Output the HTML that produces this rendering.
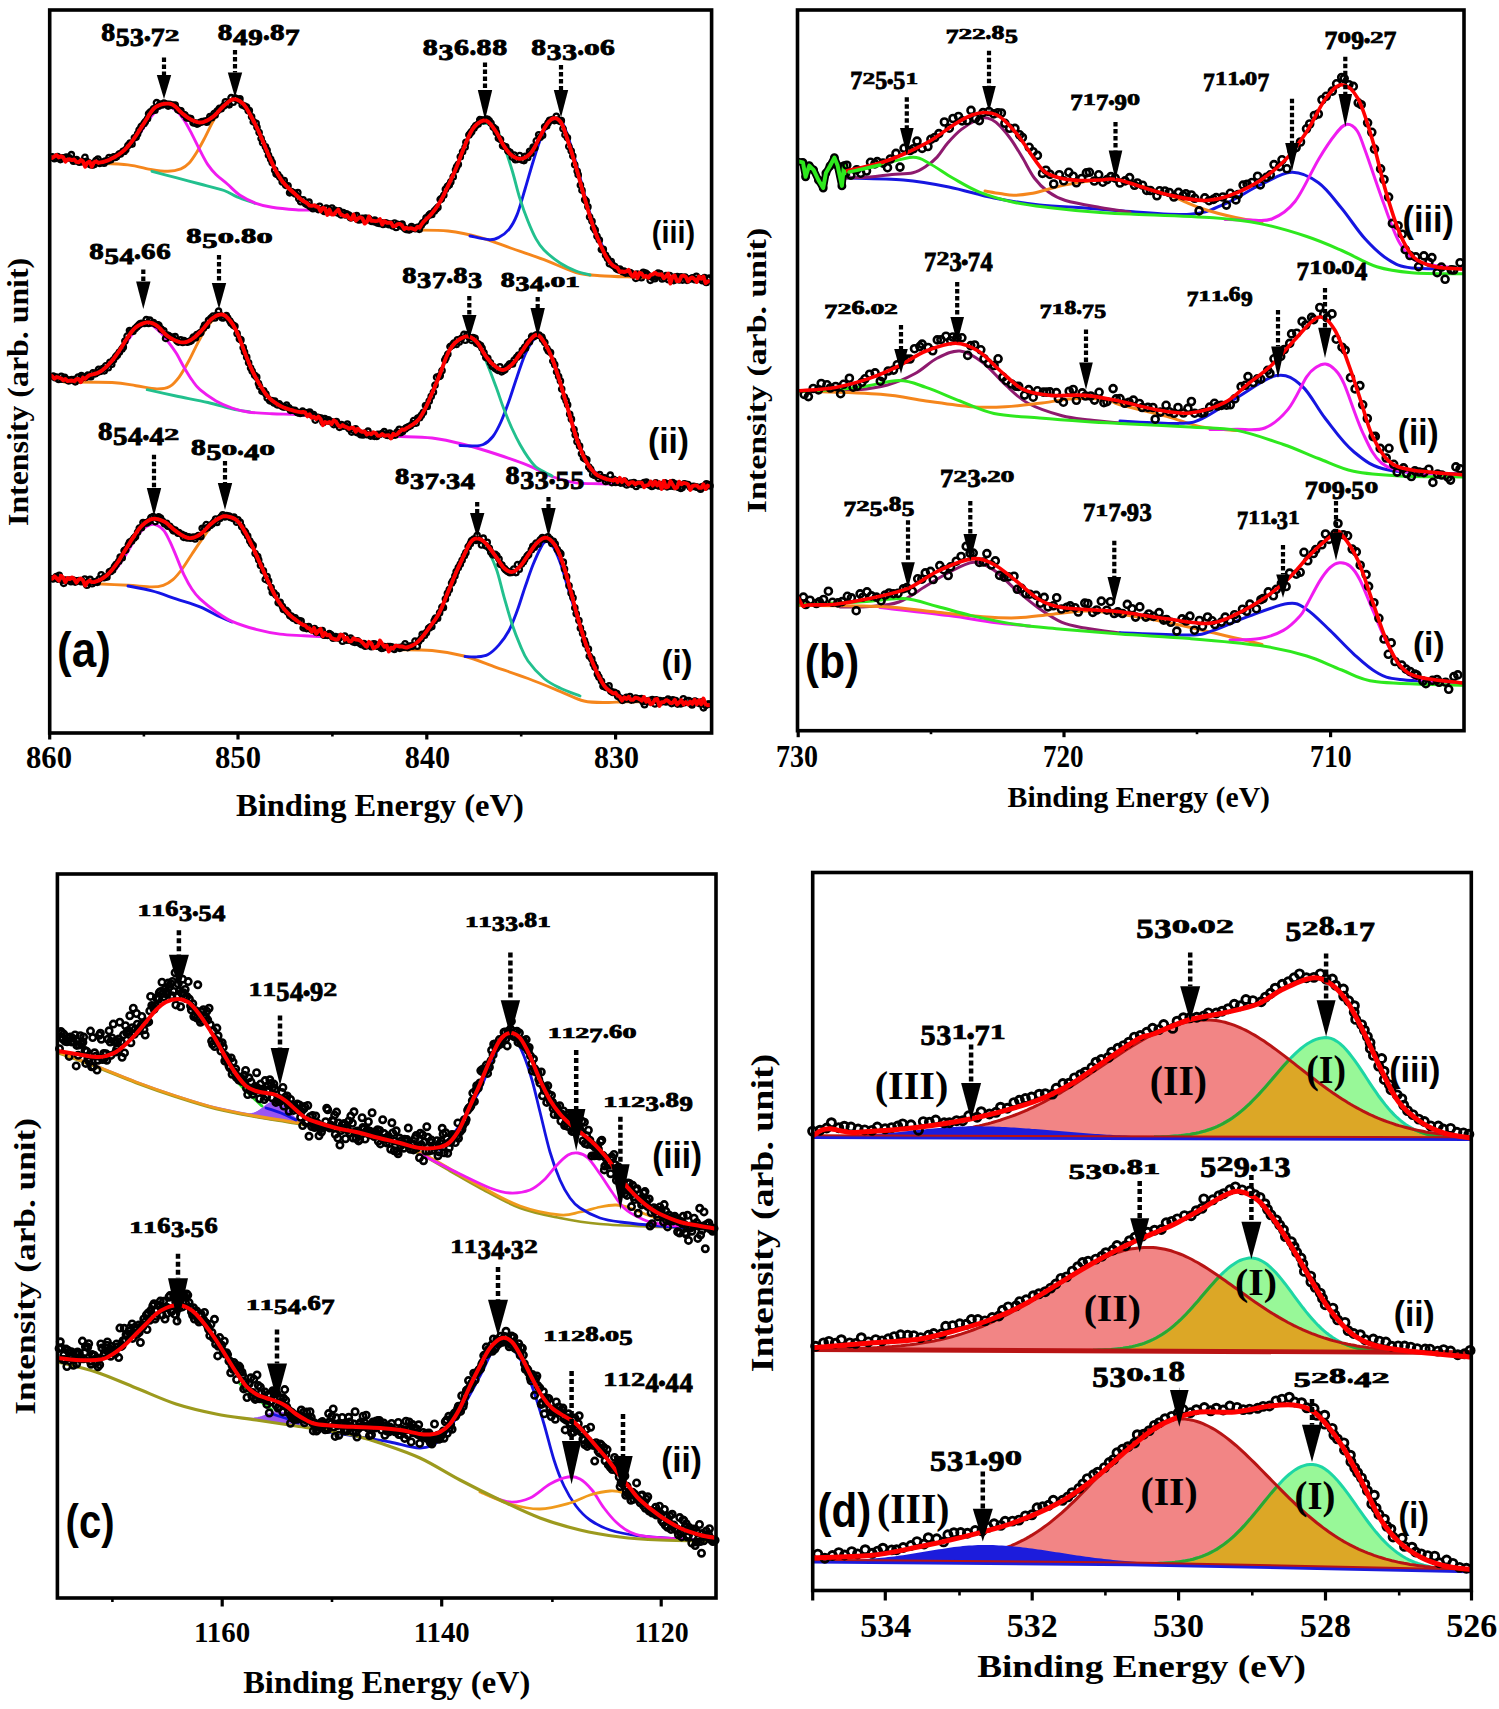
<!DOCTYPE html>
<html><head><meta charset="utf-8"><title>XPS spectra</title>
<style>html,body{margin:0;padding:0;background:#fff;overflow:hidden;}svg{display:block;}</style></head>
<body><svg width="1499" height="1709" viewBox="0 0 1499 1709">
<defs><marker id="m0" markerWidth="10" markerHeight="10" refX="5" refY="5" markerUnits="userSpaceOnUse" overflow="visible"><circle cx="5" cy="5" r="2.7" fill="none" stroke="#000" stroke-width="2.3"/></marker><marker id="m1" markerWidth="11.2" markerHeight="11.2" refX="5.6" refY="5.6" markerUnits="userSpaceOnUse" overflow="visible"><circle cx="5.6" cy="5.6" r="3.3" fill="none" stroke="#000" stroke-width="2.3"/></marker><marker id="m2" markerWidth="12.2" markerHeight="12.2" refX="6.1" refY="6.1" markerUnits="userSpaceOnUse" overflow="visible"><circle cx="6.1" cy="6.1" r="3.5" fill="none" stroke="#000" stroke-width="2.6"/></marker><marker id="m3" markerWidth="11.6" markerHeight="11.6" refX="5.8" refY="5.8" markerUnits="userSpaceOnUse" overflow="visible"><circle cx="5.8" cy="5.8" r="3.2" fill="none" stroke="#000" stroke-width="2.6"/></marker><marker id="m4" markerWidth="13.8" markerHeight="13.8" refX="6.9" refY="6.9" markerUnits="userSpaceOnUse" overflow="visible"><circle cx="6.9" cy="6.9" r="4" fill="none" stroke="#000" stroke-width="2.9"/></marker></defs>
<rect width="1499" height="1709" fill="#fff"/>
<g id="pa">
<path d="M96 163.3C101.3 163.6 118.7 163.8 128 164.9C137.3 166 145.3 168.6 152 169.7C158.7 170.8 163.2 171.4 168 171.3C172.8 171.2 177.4 170.2 180.9 168.9C184.4 167.6 186.2 166.1 188.9 163.3C191.6 160.5 194.2 156.3 196.9 152C199.6 147.7 202.2 142.7 204.9 137.6C207.6 132.5 210.2 126.4 212.9 121.6C215.6 116.8 218 112.3 220.9 108.8C223.8 105.3 228 102.3 230.5 100.8C233 99.3 233.6 99.1 236 100C238.4 100.9 242.2 102.7 245 106C247.8 109.3 250.2 114.3 253 120C255.8 125.7 258.8 132.8 262 140C265.2 147.2 268.5 156 272 163C275.5 170 279.2 176.8 283 182C286.8 187.2 291.3 190.7 295 194C298.7 197.3 303.3 200.7 305 202" fill="none" stroke="#f5861c" stroke-width="2.9" stroke-linejoin="round" stroke-linecap="round"/>
<path d="M152 171.3C156 172.4 168 175.6 176 177.7C184 179.8 192 181.9 200 184C208 186.1 217.8 188.3 224 190.5C230.2 192.7 231.8 194.8 237 196.9C242.2 199 252 202.2 255 203.3" fill="none" stroke="#22c08e" stroke-width="2.9" stroke-linejoin="round" stroke-linecap="round"/>
<path d="M96 163C99.2 162.2 108.5 161.8 115 158C121.5 154.2 129.2 146.7 135 140C140.8 133.3 145.8 123.4 150 118C154.2 112.6 157.2 109.6 160 107.5C162.8 105.4 163.8 105.1 166.5 105.6C169.2 106.1 173.1 108 176 110.4C178.9 112.8 181.3 116 184 120C186.7 124 189.3 129.3 192 134.4C194.7 139.5 197.3 145.3 200 150.4C202.7 155.5 205.3 160.9 208 164.9C210.7 168.9 212.8 171.3 216 174.5C219.2 177.7 223.3 180.5 227.3 184C231.3 187.5 235.2 192.1 240 195.3C244.8 198.5 250.7 201.3 256 203.3C261.3 205.3 265.3 206.2 272 207.3C278.7 208.4 288 209.2 296 209.7C304 210.2 312.7 210.1 320 210.5C327.3 210.9 336.7 211.8 340 212" fill="none" stroke="#f01cf0" stroke-width="2.9" stroke-linejoin="round" stroke-linecap="round"/>
<path d="M416 230C421.3 230.2 437.3 229.8 448 231C458.7 232.2 469.3 234.4 480 237.3C490.7 240.2 501.3 244.8 512 248.5C522.7 252.2 533.3 255.7 544 259.7C554.7 263.7 566.7 269.8 576 272.5C585.3 275.2 589.3 274.9 600 275.7C610.7 276.5 626.7 276.8 640 277.3C653.3 277.9 673.3 278.7 680 279" fill="none" stroke="#f5861c" stroke-width="2.9" stroke-linejoin="round" stroke-linecap="round"/>
<path d="M470 236C473.3 236.6 484.9 239.5 489.7 239.7C494.5 239.9 495.8 239 499 237.3C502.2 235.6 506 233 509 229.3C512 225.6 514.3 221.6 517 214.9C519.7 208.2 522.3 198.1 525 189.3C527.7 180.5 530.3 170.6 533 162C535.7 153.4 538.3 144.4 541 138C543.7 131.6 546.5 126.7 549 123.6C551.5 120.5 553.7 119.5 556 119.6C558.3 119.7 560.7 120.1 563 124C565.3 127.9 567.5 135.3 570 143C572.5 150.7 575.3 160.5 578 170C580.7 179.5 583.3 190.7 586 200C588.7 209.3 591.3 218.5 594 226C596.7 233.5 599.3 239.3 602 245C604.7 250.7 607 256 610 260C613 264 615.8 266.5 620 269C624.2 271.5 632.5 274 635 275" fill="none" stroke="#1414e6" stroke-width="2.9" stroke-linejoin="round" stroke-linecap="round"/>
<path d="M420 229.5C422 226.9 428.7 218.4 432 214C435.3 209.6 437.3 207.5 440 203C442.7 198.5 445.3 192.7 448 187C450.7 181.3 453.3 175.3 456 169C458.7 162.7 461.3 155.2 464 149C466.7 142.8 469.3 135.7 472 131.5C474.7 127.3 477.5 125.3 480 124C482.5 122.7 484.3 122.8 487 123.5C489.7 124.2 493.2 124.7 496 128.4C498.8 132.2 501.3 139.1 504 146C506.7 152.9 509.3 161.2 512 170C514.7 178.8 517.3 190.3 520 198.9C522.7 207.5 525.3 214.6 528 221.3C530.7 228 533.3 234.1 536 238.9C538.7 243.7 540 246 544 250C548 254 554.7 259.5 560 263C565.3 266.5 571 269 576 271C581 273 587.7 274.3 590 275" fill="none" stroke="#22c08e" stroke-width="2.9" stroke-linejoin="round" stroke-linecap="round"/>
<path d="M64 382C72 382.1 100 381.9 112 382.5C124 383.1 128.5 384.6 136 385.7C143.5 386.8 151.2 388.8 156.8 388.9C162.4 389 165.9 388.5 169.7 386.5C173.4 384.5 176.1 381.1 179.3 376.8C182.5 372.5 185.7 366.7 188.9 360.8C192.1 354.9 195.3 347.5 198.5 341.6C201.7 335.7 204.5 329.9 208 325.6C211.5 321.3 216 317.3 219.3 316C222.6 314.7 225.1 315.3 228 318C230.9 320.7 234.2 326.3 237 332C239.8 337.7 242.3 345.3 245 352C247.7 358.7 250.2 366 253 372C255.8 378 258.8 383.3 262 388C265.2 392.7 270.3 398 272 400" fill="none" stroke="#f5861c" stroke-width="2.9" stroke-linejoin="round" stroke-linecap="round"/>
<path d="M147.2 389.7C152 390.8 165.9 393.9 176 396C186.1 398.1 198.7 400.4 208 402.5C217.3 404.6 225 407.3 232 408.9C239 410.5 247 411.5 250 412" fill="none" stroke="#22c08e" stroke-width="2.9" stroke-linejoin="round" stroke-linecap="round"/>
<path d="M90 377C92.5 375.8 100 374.2 105 370C110 365.8 115 358.5 120 352C125 345.5 130.2 335.7 135 331C139.8 326.3 144.6 323.8 148.8 324C153 324.2 156.8 329.1 160 332C163.2 334.9 165.3 338.1 168 341.6C170.7 345.1 173.3 348.5 176 352.8C178.7 357.1 181.3 362.7 184 367.2C186.7 371.7 189.3 376.2 192 380C194.7 383.8 196 386.2 200 389.7C204 393.2 210.7 397.8 216 400.9C221.3 403.9 226.7 406.1 232 408C237.3 409.9 241.3 411.1 248 412C254.7 412.9 264 413.3 272 413.7C280 414.1 288.8 414.1 296 414.5C303.2 414.9 311.8 415.8 315 416" fill="none" stroke="#f01cf0" stroke-width="2.9" stroke-linejoin="round" stroke-linecap="round"/>
<path d="M390 436C391.7 436.1 393 436.2 400 436.5C407 436.8 421.3 436.7 432 438C442.7 439.3 453.3 441.8 464 444.5C474.7 447.2 485.3 450.5 496 454C506.7 457.5 518.7 461.6 528 465.3C537.3 469.1 544 473.6 552 476.5C560 479.4 568 481.7 576 482.9C584 484.1 587.7 483.3 600 483.7C612.3 484.1 641.7 484.8 650 485" fill="none" stroke="#f01cf0" stroke-width="2.9" stroke-linejoin="round" stroke-linecap="round"/>
<path d="M460 445.5C462 445.6 468.1 446.2 472 446C475.9 445.8 479.8 446.1 483.3 444.5C486.8 442.9 490 440.2 492.9 436.5C495.8 432.8 498.2 427.9 500.9 422C503.6 416.1 506.2 408.8 508.9 401.3C511.6 393.8 514.2 384.9 516.9 377.2C519.6 369.4 522.2 360.9 524.9 354.8C527.6 348.7 530.8 343.3 532.9 340.4C535 337.5 535.7 336.8 537.7 337.2C539.7 337.6 542.5 339.2 545 343C547.5 346.8 550.3 353 553 360C555.7 367 558.3 376.3 561 385C563.7 393.7 566.3 403.2 569 412C571.7 420.8 574.3 430.3 577 438C579.7 445.7 582 452.3 585 458C588 463.7 590.8 468.3 595 472C599.2 475.7 607.5 478.7 610 480" fill="none" stroke="#1414e6" stroke-width="2.9" stroke-linejoin="round" stroke-linecap="round"/>
<path d="M405 428C406.8 427 412.8 424.8 416 422C419.2 419.2 421.3 415.8 424 411C426.7 406.2 429.3 399.6 432 393.5C434.7 387.4 437.3 381.1 440 374.5C442.7 367.9 445.3 359.2 448 354C450.7 348.8 452.8 345.7 456 343C459.2 340.3 463 337.1 467 338C471 338.9 476.5 343.7 480 348.4C483.5 353.1 485.3 359.6 488 366C490.7 372.4 493.3 379.6 496 386.8C498.7 394 501.3 402.4 504 409.3C506.7 416.2 509.3 422.6 512 428.5C514.7 434.4 517.3 439.7 520 444.5C522.7 449.3 525.3 453.6 528 457.3C530.7 461.1 533.3 464.6 536 467C538.7 469.4 541.3 470.2 544 471.7C546.7 473.2 550.7 475.3 552 476" fill="none" stroke="#22c08e" stroke-width="2.9" stroke-linejoin="round" stroke-linecap="round"/>
<path d="M96 583.7C101.3 584 118.7 584.8 128 585.3C137.3 585.8 146.1 586.9 152 586.9C157.9 586.9 159.8 586.5 163.3 585.3C166.8 584.1 169.7 582.5 172.9 579.7C176.1 576.9 179.3 572.8 182.5 568.5C185.7 564.2 188.8 558.8 192 554C195.2 549.2 198.5 544.1 201.7 539.6C204.9 535.1 208.1 530.3 211.3 526.8C214.5 523.3 218.1 520.3 220.9 518.8C223.7 517.2 225.3 517.1 228 517.5C230.7 517.9 234.2 518.6 237 521C239.8 523.4 242.3 527.5 245 532C247.7 536.5 250.3 542.4 253 548C255.7 553.6 258.3 559.7 261 565.5C263.7 571.3 266.3 577.4 269 583C271.7 588.6 275.7 596.3 277 599" fill="none" stroke="#f5861c" stroke-width="2.9" stroke-linejoin="round" stroke-linecap="round"/>
<path d="M128 586C132 586.8 144 588.8 152 590.9C160 593 168 596.2 176 598.9C184 601.6 192.8 604 200 606.9C207.2 609.8 214 614 219.3 616.5C224.6 619 229.9 621.1 232 622" fill="none" stroke="#1414e6" stroke-width="2.9" stroke-linejoin="round" stroke-linecap="round"/>
<path d="M100 581C102.5 579.2 110.8 574.2 115 570C119.2 565.8 121.5 561.3 125 556C128.5 550.7 132.8 542.6 136 538C139.2 533.4 141.1 530.7 144 528.4C146.9 526.1 150.4 524.1 153.6 524.4C156.8 524.7 160.6 527.2 163.3 530C166 532.8 167.6 536.9 169.7 541.2C171.8 545.5 173.6 550 176 555.6C178.4 561.2 181.3 569.3 184 574.9C186.7 580.5 189.3 585.3 192 589.3C194.7 593.3 196 595.2 200 598.9C204 602.6 210.7 608 216 611.7C221.3 615.4 225.3 618.4 232 621.3C238.7 624.2 248 627.2 256 629.3C264 631.4 272 633 280 634.1C288 635.2 295.7 635.2 304 635.7C312.3 636.2 325.7 636.8 330 637" fill="none" stroke="#f01cf0" stroke-width="2.9" stroke-linejoin="round" stroke-linecap="round"/>
<path d="M400 649.7C405.3 649.8 421.3 649.5 432 650.5C442.7 651.5 453.3 653.2 464 656C474.7 658.8 485.3 663.5 496 667.3C506.7 671 517.3 674.5 528 678.5C538.7 682.5 550.7 687.5 560 691.3C569.3 695 576 699.1 584 701C592 702.9 601.3 702.4 608 702.5C614.7 702.6 617 701.8 624 701.7C631 701.6 645.7 702 650 702" fill="none" stroke="#f5861c" stroke-width="2.9" stroke-linejoin="round" stroke-linecap="round"/>
<path d="M465 656.5C467 656.6 473 657.2 476.8 656.9C480.6 656.6 484.3 656.5 488 654.5C491.7 652.5 495.5 648.9 499 644.9C502.5 640.9 506 636.1 509 630.5C512 624.9 514.3 618.5 517 611.3C519.7 604.1 522.3 595 525 587.2C527.7 579.5 530.3 571.5 533 564.8C535.7 558.1 538.9 551.1 541 547.2C543.1 543.3 543.9 542 545.7 541.6C547.5 541.2 549.6 541.6 552 545C554.4 548.4 557.3 554.8 560 562C562.7 569.2 565.3 579.3 568 588C570.7 596.7 573.3 605.3 576 614C578.7 622.7 581.3 632 584 640C586.7 648 589.3 655.5 592 662C594.7 668.5 596.7 674 600 679C603.3 684 607 688.7 612 692C617 695.3 627 697.8 630 699" fill="none" stroke="#1414e6" stroke-width="2.9" stroke-linejoin="round" stroke-linecap="round"/>
<path d="M410 645C411.7 644.2 416.3 643.3 420 640C423.7 636.7 428.7 629.7 432 625C435.3 620.3 437.3 617.3 440 612C442.7 606.7 445.3 599.3 448 593C450.7 586.7 453.3 580 456 574C458.7 568 461.6 561.8 464 557C466.4 552.2 468.2 547.7 470.4 545C472.6 542.3 474.6 540.8 477 541C479.4 541.2 481.8 541.5 485 546C488.2 550.5 492.8 559.5 496 568C499.2 576.5 501.3 587.5 504 596.8C506.7 606.1 509.3 616 512 624C514.7 632 517.3 638.7 520 644.9C522.7 651.1 524 655.4 528 661C532 666.6 538.7 674 544 678.5C549.3 683 554 685.1 560 688C566 690.9 576.7 694.7 580 696" fill="none" stroke="#22c08e" stroke-width="2.9" stroke-linejoin="round" stroke-linecap="round"/>
<path d="M52.2 156.9 54.3 158.7 55.5 157.7 57.5 156.6 60.3 159.6 61.3 158 63.2 157.9 66.1 157.1 67.6 157.7 69.2 157.9 71.3 154.7 73.3 161.2 74.8 160.7 76.5 159.7 79.2 162.2 80.9 161.5 82.7 161.7 84.9 157.4 86.5 161.3 88.9 162.8 89.9 164.6 92.2 165.1 94 164.6 95.8 160.6 97.9 159 99.4 163.4 102 162.2 104 163.2 105 161.2 107.3 160.9 109 157.5 110.7 159.8 113.5 156.9 114.9 157.4 116.4 156.7 118.9 154.1 120.3 153.9 123 151.3 124.1 151.5 125.8 149.5 127.9 145.5 130 143 132 144.1 134.4 137.8 136.1 137.1 137.6 133.8 139.1 129.9 141.2 126.4 144 123.4 145.3 121.6 147.5 118.6 148.6 113.7 150.5 111.8 153.3 108.9 154.9 110.2 156.5 102.7 158.4 106.2 160.1 104 162.1 105 163.8 103.1 166.6 104.1 168.1 106.1 169.6 104.3 172.2 105.2 173.5 105.7 175.2 105.2 177.8 109.8 180 110.9 180.9 110.9 183.7 114.5 184.9 115.1 186.7 118 188.5 118 190.7 118.5 193.1 122.8 194.7 122.8 197 124.1 198.2 123.3 200.2 122.3 202.1 121.7 204.8 121.1 206.6 122.2 207.9 120.3 209.9 116.5 211.6 117.7 214 113.6 215.1 115.1 217.1 111 219.3 108.4 221.1 108.8 223.6 105.9 225.4 101.8 227.1 104.2 229.1 104.8 231.1 97.7 233.1 102.2 235.1 98.1 236.1 98.6 238.6 100.1 239.9 98.9 242.2 105 244.5 106.1 246.5 107 248.2 110.7 249.3 110.7 251.6 116.8 253.3 121.9 256.1 123.3 257 127.3 259.1 132.5 261.1 138.6 262.6 142.8 265.5 146.9 267.1 150.3 268.5 155.4 270.7 159.4 272.2 162.7 274.7 170.2 276.1 174 277.8 174.7 279.8 177.3 282.2 182 284.2 180.6 285.7 185.3 288 185.8 289.6 192.8 291.2 191.6 293.3 192.6 295.3 194 297.8 192.6 298.8 198.7 300.7 201.7 303.1 199.8 305.5 203.7 307.3 204.9 309 202.2 310.2 206.8 312.9 208.7 314.7 207.6 315.9 207.6 318.2 209.6 319.6 206.3 322.4 209.5 324.2 211.5 326.2 208.2 328 212.1 329.4 210.1 331.9 208 333.2 211.4 334.9 210.3 337.1 212.9 339.1 210.9 340.8 214.9 343.1 212.6 345 214.9 346.4 213.9 348.8 215 350.4 217.9 352.7 217.1 354.1 216.5 356.6 215.7 358 219.9 360.1 219.7 362.1 218.4 363.9 219.7 365.5 218 368.2 218.5 369.1 219 371.2 221.3 373.4 221.6 374.7 220.2 376.8 222.9 379.4 223.5 381.3 222.8 383 224.5 385.2 222.8 386.9 223.4 388.3 224.6 390.6 224.2 392.2 225.8 394.5 223 396 227.5 397.6 224.3 400.4 225.8 402.1 224.2 404 227.9 405.7 229.4 407.9 229.7 409.4 229.8 411.4 226.5 412.7 228.1 415.2 228.7 417.4 227.3 419.2 229.3 421.2 225.3 422.7 222.8 425.1 221 426.1 217.8 428.9 215.2 430.2 213.9 431.8 214.4 434.3 211 436 209.1 437.9 207.2 440.2 199.4 441.3 198.7 443.8 195.1 445.4 189.2 447.5 186.3 449.3 184.8 450.8 181.8 453.2 176.7 455.5 169.8 456.6 166.7 458.3 164.3 460.3 156.7 462.6 151.6 465.1 147.1 465.9 142.3 468.9 135 470.3 133.1 471.7 131.4 474 128 475.6 125.6 478.1 124.1 479.8 119.6 481.4 119.9 483.3 120.8 485.9 119.1 487.6 119.3 489.2 120.8 491 123.3 493.3 127.4 495.5 129.2 496.4 132.5 498.4 138.3 500.5 139.5 502.6 145.7 504 146.4 505.8 146.9 507.9 151.1 510 152.3 512.3 157.1 514.1 155.1 515.3 159.7 517.2 159.3 519.6 155.6 522 160 523.9 160.6 525.2 156.3 527.7 157.5 529.6 151.3 530.9 153.2 533.2 147 534.7 147.8 536.3 140.9 538.7 134.8 540.1 137.2 542.6 135.3 544.7 126.8 546.7 125.7 548.1 122.8 549.6 120.3 552.4 119.5 554.3 120.6 556.3 116.3 557.8 120 559.7 121.4 561.3 120.7 563 128.8 565 134.9 567.4 137.8 568.8 146.5 571.2 151.1 572.8 156.1 574.7 164.8 577.2 171.3 578.2 174.9 580.4 185.2 582 190.4 584.7 199.7 586.1 201 587.9 206.8 589.6 217 592 221.3 593.6 227.9 595.2 230.2 597 236.3 599.3 240.1 601.4 249.6 603.3 249.3 605.6 255.4 607.5 258.6 609.4 263.7 611.2 261.7 612.7 265.4 614.7 266.5 616.4 268.8 618.3 269.9 619.8 269.2 622.6 271.7 623.9 271.2 625.5 273.1 627.9 272.9 630.1 272.6 631.7 273.9 633.5 274.8 635.7 278.3 637.1 274 638.8 275.6 641.3 277.7 643.2 272.3 645.5 273.1 646.8 274.1 649.2 276.1 650.2 280.3 652.1 277.2 654.7 278.7 656.1 276.5 657.9 273.1 659.8 273.5 662 279 663.9 277.8 666 275.6 668.3 279.7 669.6 275.5 671.3 279.9 673.6 280.6 674.9 277.1 677.2 276.7 679 279.9 681 276.9 682.5 280.1 685 277 687 280.3 689 279.2 691.2 278.5 692.4 277.8 694.6 279.7 696.3 276.3 697.9 279 700.6 278.9 702.3 280.7 704.4 277.7 706.2 282.5 708.2 279.3 709.2 278.1" fill="none" stroke="none" marker-start="url(#m0)" marker-mid="url(#m0)" marker-end="url(#m0)"/>
<path d="M50 156.6L52.2 158 54.4 156.4 56.6 155 58.8 157.4 61 156.1 63.2 157.3 65.4 161.7 67.6 159.5 69.8 159.3 72 160.1 74.2 159.5 76.4 161.9 78.6 162.3 80.8 160 83 161.4 85.2 166.8 87.4 162.7 89.6 161.6 91.8 166.7 94 162.4 96.2 161.4 98.4 162.8 100.6 162.4 102.8 162 105 161.4 107.2 160.6 109.4 159.7 111.6 158.6 113.8 157.5 116 156.2 118.2 154.8 120.4 153.3 122.6 151.6 124.8 149.7 127 147.4 129.2 144.9 131.4 142.1 133.6 139.1 135.8 135.9 138 132.5 140.2 129.1 142.4 125.6 144.6 122.3 146.8 118.7 149 115.1 151.2 111.7 153.4 109 155.6 107.1 157.8 105.8 160 104.9 162.2 104.2 164.4 103.8 166.6 103.6 168.8 103.6 171 104 173.2 105 175.4 106.6 177.6 108.7 179.8 111.1 182 113.2 184.2 114.9 186.4 116.6 188.6 118.1 190.8 119.4 193 120.5 195.2 121.4 197.4 122.1 199.6 122.5 201.8 122.4 204 121.8 206.2 120.9 208.4 119.8 210.6 118.4 212.8 116.9 215 115 217.2 112.8 219.4 110.4 221.6 108 223.8 105.9 226 103.9 228.2 102 230.4 100.4 232.6 99.4 234.8 99.2 237 99.7 239.2 100.7 241.4 102.3 243.6 104.3 245.8 107.1 248 110.8 250.2 114.8 252.4 118.8 254.6 123 256.8 127.5 259 132.1 261.2 137.2 263.4 142.5 265.6 148 267.8 153.2 270 158.3 272.2 163.3 274.4 167.9 276.6 172.1 278.8 176 281 179.4 283.2 182.4 285.4 184.9 287.6 187.2 289.8 189.2 292 191.2 294.2 193.2 296.4 195.3 298.6 197.3 300.8 199.2 303 200.9 305.2 202 307.4 203.3 309.6 205.6 311.8 205.8 314 205.3 316.2 206.5 318.4 207.1 320.6 211.5 322.8 207.9 325 208.7 327.2 214.9 329.4 209.6 331.6 214.5 333.8 214.6 336 211.8 338.2 209.5 340.4 214.1 342.6 215.2 344.8 216.4 347 215.1 349.2 218.3 351.4 219.4 353.6 214.6 355.8 220.7 358 218.4 360.2 217.3 362.4 218.3 364.6 223.6 366.8 222 369 216.4 371.2 220.9 373.4 220.8 375.6 221.2 377.8 220.8 380 219.1 382.2 224.6 384.4 221.1 386.6 222.7 388.8 222.6 391 222.7 393.2 226.4 395.4 226 397.6 224.1 399.8 223.9 402 225.4 404.2 229.1 406.4 227.8 408.6 228.7 410.8 228.1 413 228.8 415.2 229.8 417.4 226.9 419.6 227.8 421.8 224.1 424 221.3 426.2 219.2 428.4 217.1 430.6 214.9 432.8 212.3 435 209.5 437.2 206.4 439.4 203 441.6 199.1 443.8 194.8 446 190.2 448.2 185.6 450.4 180.9 452.6 176.2 454.8 171.2 457 165.9 459.2 160.2 461.4 154.2 463.6 148.6 465.8 143.2 468 138 470.2 133.3 472.4 129.4 474.6 126.5 476.8 124.3 479 122.6 481.2 121.3 483.4 120.5 485.6 120.5 487.8 121.5 490 123.6 492.2 126.2 494.4 129.3 496.6 132.5 498.8 136.4 501 140.7 503.2 144.7 505.4 148.1 507.6 151.1 509.8 153.7 512 155.6 514.2 157 516.4 158.1 518.6 158.7 520.8 158.9 523 158.5 525.2 157.5 527.4 156.1 529.6 154.2 531.8 151.8 534 148.3 536.2 144.1 538.4 139.7 540.6 135.6 542.8 131.3 545 127.2 547.2 123.7 549.4 121.1 551.6 119.1 553.8 118.1 556 118.2 558.2 119.4 560.4 121.6 562.6 125.4 564.8 131.2 567 138.1 569.2 144.9 571.4 151.7 573.6 158.8 575.8 166.1 578 173.8 580.2 181.9 582.4 190 584.6 197.8 586.8 205.6 589 213.2 591.2 220.4 593.4 227 595.6 233 597.8 238.5 600 243.7 602.2 248.7 604.4 253.3 606.6 257.4 608.8 260.9 611 263.8 613.2 265.8 615.4 267 617.6 268.1 619.8 272.1 622 271.5 624.2 272 626.4 271.4 628.6 269.8 630.8 274.2 633 276.8 635.2 272.6 637.4 277.9 639.6 272.7 641.8 273.8 644 276.8 646.2 275.9 648.4 277.7 650.6 274.8 652.8 274.3 655 272.7 657.2 274.3 659.4 274.8 661.6 274.2 663.8 278.2 666 276.2 668.2 273.5 670.4 283.5 672.6 276.3 674.8 275.6 677 281.2 679.2 281.1 681.4 276.2 683.6 275.6 685.8 276.7 688 281.5 690.2 278.4 692.4 277.4 694.6 279.2 696.8 282 699 276.4 701.2 278.7 703.4 276.6 705.6 283.2 707.8 281.7 710 280.3" fill="none" stroke="#ff0000" stroke-width="3.9" stroke-linejoin="round"/>
<path d="M53.2 376.2 55 377.7 56.4 377.2 58.5 379.5 61.1 376.4 62 379.2 64.6 377.4 66.2 379.4 68.3 380.9 70 380 71.6 379.7 74 379.6 75.2 381.8 78.1 377 79.9 379.8 81.3 375.7 83.4 376.9 85.3 377.4 87.7 375.1 88.6 376.5 90.8 376.7 92.8 372.9 95.1 373.8 96.9 372.6 98.5 369.4 99.9 371.4 102.6 368.7 104.2 370.8 105.7 365.9 108.2 367.7 109.9 362.3 111.7 364.3 113.5 359.8 115.7 356.6 117.3 354.9 119.4 352 121.9 348.9 123.3 347.1 124.9 341 127.1 336.1 129.5 330.5 131.3 331.5 133 331.3 135.1 328.5 136.9 326.8 138.7 324.9 140.3 323.5 141.9 323.4 144.4 323.5 146.2 319.7 148.5 323.5 149.7 320.2 152.2 322.9 153.4 322.6 156.1 324.6 158 324.9 158.9 325.5 161.1 329.2 163.8 330.8 165.6 338.4 167.2 335 168.5 335.6 170.2 336.9 172.4 337.4 175.1 336.5 176.8 340.7 178.3 342.1 180.6 339.8 182.6 342.5 183.9 340.5 186.4 341.9 187.6 342.1 189.6 341.4 191.2 340.4 193.2 337.2 195.5 337.8 196.8 334.5 199.3 333.4 200.8 332.4 203.4 328 204.6 325 206.5 325.5 208.5 320.3 210.8 318.2 212.9 316.1 214.8 318 216.7 315.3 218.5 311.2 220.2 315.6 221.9 317.8 223.6 317.8 226.3 315.7 227.7 318 229.9 321.1 231.1 323.3 233.3 325.3 234.9 326.3 237.1 333.7 239.4 339.1 240.9 339.9 243.2 347.7 244.5 352.1 246.7 357.2 248.6 362.8 250.6 368.1 252.2 371.3 254.6 375.3 256.7 377.2 258.5 383.6 259.5 386.5 262 391.4 263.7 390.9 265.9 394.1 267.2 398.1 269.8 400.9 271.4 400.5 273.9 403 274.7 401.2 277.1 404.9 279.1 403.8 281.4 406.1 283.2 407 284.4 406.9 286.5 405.1 288.9 407.9 290.4 410.3 292.1 410.1 294.8 410.3 296.6 412.1 297.9 412.8 300 413.4 302.4 411.2 303.5 412.8 306.1 412.8 308 412.5 309.7 412.1 311.6 415 313.5 414.6 315.2 420.1 317.2 417.3 318.6 417.6 321 418.2 323 422.5 324.7 418.5 326.8 420.4 328.4 419.9 330.7 421.7 332.5 422.4 333.7 424.6 336.4 421.5 337.7 424.1 339.4 427.3 341.4 424.7 343.5 426.1 345.6 426 347.3 424 349 428.9 351.6 432.1 353 430.1 355.5 428.8 356.7 432.6 359.1 432.9 360.6 434.7 363.1 435 364.7 433.3 366.7 434.6 367.9 431.2 370.6 436.1 372 434.7 374.4 436.3 376.4 436.4 377.5 434.3 379.2 434.6 382 433.5 384.1 431.7 385.9 434.8 387.3 435.3 389.7 433.2 390.6 436.1 392.6 435 395.1 435.1 396.9 432.2 399.2 429.3 400.4 432.7 402.5 431.4 405 428.9 406.2 427.8 408.2 426.8 410.3 425.8 412.6 423.7 413.6 420.6 416.1 423.1 417.7 418 419.6 417.7 421.3 415.2 423.4 412.3 425.5 405.5 427.2 406.4 429.2 400.9 431.2 396.3 433.4 392.1 435 385.1 436.6 377.2 439.2 376.5 440.2 375.5 442 370.6 444.8 359.9 446 357.6 447.8 354.1 450 346.6 451.8 345.6 453.7 343.2 456.2 344.4 457.4 339.8 459.2 342.1 461.2 338.4 463.9 334.4 465.2 340.2 467 334.8 469.4 337.7 471.5 340.4 472.9 337.7 475.1 338.4 476.4 343.3 478.4 344.1 480.6 345.5 482.1 348.4 484 352.9 485.8 357.6 487.8 358.3 490.4 362.9 492.2 366.4 493.3 366.8 495.5 368.9 497.8 370.3 499.9 366.8 501.5 371.8 503.5 370.4 504.9 369.4 507.4 366.5 509.3 364.2 510.8 363.8 512.5 363.9 514.1 360.2 516.7 357.3 518.6 355 519.8 355.3 522.3 350.3 524.7 347.1 525.5 348.1 527.6 342.6 529.4 341.7 531.7 336.4 533.6 336.8 536 335 537 335.1 539 335 541.8 337.1 542.6 339.5 544.8 342.5 546.9 348.5 548.3 351.1 550.5 352.6 552.8 361.1 554.7 364.7 556.6 371.9 558.6 376.6 560.4 381 561.7 389.1 564.3 397.1 566.1 400.7 567.6 404.8 569.7 414.3 571.4 419.2 574 429.6 575.2 435.1 577 441.8 579.6 446.2 581.5 453.8 583.5 458.1 585.2 459 586.8 459.9 588.8 467.1 590.7 469.4 592.7 474.6 595 475.6 596.1 475.5 598.6 478.5 599.6 474.6 601.7 477.6 604.5 477.9 605.6 481.5 607.8 480.3 610.2 475.2 611.8 482.6 613.5 479.4 615.6 482.5 617.8 480.9 619.7 482.3 620.7 483.1 622.6 482.6 624.6 481 626.4 484.9 629 483.6 631 483.1 632.1 484.3 633.9 482.5 636.1 486.5 638.4 484 640.4 484.3 641.9 484.4 644 482.5 646.3 482.2 648.1 484.5 649.1 484.8 651.7 486.5 653.7 485.2 655.7 482.8 657.1 485.4 658.7 486 661 486.4 662.7 485.4 664.7 482.9 667 486.8 668.8 483.9 670.7 486.1 672.6 482.7 673.9 486.5 675.7 484.1 678 487.2 680.4 488.4 682.1 487.5 684.1 483.9 685.8 484.3 687.9 484.5 690 487.1 691.6 486.6 693.7 486.4 695.7 486.8 697.4 487.3 699.3 487.5 700.4 489.2 702.3 486.5 705.2 487 706.3 483.8 708.3 484.7 710 485.8" fill="none" stroke="none" marker-start="url(#m0)" marker-mid="url(#m0)" marker-end="url(#m0)"/>
<path d="M50 374.8L52.2 376.4 54.4 378.8 56.6 377 58.8 377.7 61 378.3 63.2 380.2 65.4 378.9 67.6 381.1 69.8 380.7 72 380.5 74.2 381.2 76.4 379.2 78.6 379 80.8 382.1 83 377.6 85.2 378.9 87.4 376.7 89.6 375.1 91.8 374.7 94 374 96.2 373.5 98.4 372.6 100.6 371.3 102.8 369.8 105 368 107.2 366 109.4 363.7 111.6 361.3 113.8 358.5 116 355.5 118.2 352.3 120.4 349 122.6 345.4 124.8 341.8 127 338.3 129.2 335.1 131.4 332 133.6 329.4 135.8 327.4 138 325.8 140.2 324.6 142.4 323.6 144.6 322.9 146.8 322.4 149 322.4 151.2 322.8 153.4 323.6 155.6 324.8 157.8 326.4 160 328.4 162.2 330.9 164.4 333.3 166.6 335.3 168.8 336.9 171 338.3 173.2 339.5 175.4 340.5 177.6 341.4 179.8 342.1 182 342.4 184.2 342.4 186.4 342 188.6 341.1 190.8 340 193 338.5 195.2 336.7 197.4 334.7 199.6 332.5 201.8 330.3 204 327.8 206.2 324.9 208.4 322.2 210.6 319.8 212.8 318 215 316.5 217.2 315.3 219.4 314.6 221.6 314.4 223.8 315 226 316.4 228.2 318.5 230.4 321 232.6 324.1 234.8 327.9 237 332.2 239.2 337.4 241.4 343.4 243.6 349.4 245.8 355.1 248 360.6 250.2 365.9 252.4 370.9 254.6 375.4 256.8 379.6 259 383.4 261.2 387 263.4 390.5 265.6 393.8 267.8 396.5 270 398.7 272.2 400.6 274.4 402.2 276.6 403.7 278.8 405 281 406.2 283.2 407.2 285.4 408.1 287.6 408.9 289.8 409.6 292 410.2 294.2 410.9 296.4 411.4 298.6 411.8 300.8 412.2 303 412 305.2 412.5 307.4 416.4 309.6 414.2 311.8 417.8 314 416.8 316.2 419 318.4 416.6 320.6 419 322.8 425.2 325 421.9 327.2 423 329.4 422 331.6 424.1 333.8 420.3 336 421.7 338.2 425.3 340.4 426.9 342.6 425.1 344.8 426.6 347 427.3 349.2 428.8 351.4 427.6 353.6 427.9 355.8 431.7 358 428.7 360.2 430.9 362.4 431.9 364.6 431.4 366.8 434.5 369 433.2 371.2 434.2 373.4 432.3 375.6 433 377.8 435.9 380 435.7 382.2 433.9 384.4 435.8 386.6 435.4 388.8 435.3 391 438.4 393.2 433.8 395.4 435.1 397.6 433.9 399.8 431.4 402 429.5 404.2 429.8 406.4 428.3 408.6 427.1 410.8 425.7 413 424.3 415.2 422.7 417.4 420.7 419.6 418.2 421.8 414.8 424 410.9 426.2 406.6 428.4 401.7 430.6 396.6 432.8 391.4 435 386.3 437.2 380.9 439.4 375.5 441.6 369.8 443.8 363.7 446 357.8 448.2 352.8 450.4 348.8 452.6 345.6 454.8 343.1 457 341.2 459.2 339.5 461.4 338.2 463.6 337.2 465.8 336.5 468 336.4 470.2 337 472.4 338.2 474.6 339.9 476.8 342 479 344.9 481.2 348.6 483.4 352.5 485.6 355.8 487.8 358.8 490 361.5 492.2 363.8 494.4 365.7 496.6 367.4 498.8 368.9 501 369.8 503.2 370 505.4 369.3 507.6 368.1 509.8 366.4 512 364.4 514.2 362 516.4 359.1 518.6 356 520.8 352.8 523 349.8 525.2 346.5 527.4 343.3 529.6 340.5 531.8 338 534 335.9 536.2 334.8 538.4 335.3 540.6 337.3 542.8 340.2 545 343.6 547.2 347.5 549.4 352 551.6 357 553.8 362.8 556 369.3 558.2 376.2 560.4 383.3 562.6 390.6 564.8 398.2 567 405.9 569.2 413.4 571.4 421.2 573.6 428.8 575.8 435.9 578 442.3 580.2 448.3 582.4 453.8 584.6 458.5 586.8 462.6 589 466 591.2 469 593.4 471.6 595.6 473.8 597.8 475.4 600 476.5 602.2 477.5 604.4 478.3 606.6 479.1 608.8 479.7 611 480.2 613.2 480.7 615.4 479.1 617.6 482.1 619.8 477.9 622 482.1 624.2 479.1 626.4 481.8 628.6 484.4 630.8 482.4 633 482.1 635.2 484.4 637.4 482.8 639.6 482.7 641.8 482.8 644 487.2 646.2 485.4 648.4 485.1 650.6 481.5 652.8 485.6 655 481.5 657.2 485.5 659.4 482.1 661.6 488.9 663.8 481 666 487.5 668.2 486.6 670.4 481.1 672.6 484.5 674.8 488.3 677 487.7 679.2 481.7 681.4 484.3 683.6 482.9 685.8 483.4 688 484.3 690.2 489.9 692.4 486.2 694.6 485.5 696.8 485.4 699 487.7 701.2 487.9 703.4 484.4 705.6 489 707.8 485.6 710 486.8" fill="none" stroke="#ff0000" stroke-width="3.9" stroke-linejoin="round"/>
<path d="M52.6 578.9 53.5 578.5 56.3 576.5 57.6 579.1 59.2 575.3 62.1 580.2 63.6 583.3 65.2 580.1 67.6 580.5 69.4 580.1 70.9 581.7 73.2 580 75.1 582.1 76.4 580.8 78.9 580.7 81 581.7 82.7 581.6 84.7 579 86.8 585.2 88.5 582.2 90 579.3 92 583.7 94.1 581.8 95.9 581.8 97.2 582.3 99 579.1 101.2 574.8 103.7 577.7 104.9 577.3 106.9 576.9 109.4 571.8 110.5 571.4 112.6 570 114.5 566.4 116.1 564.3 118.8 561.3 120.2 557 122.2 557.8 124.1 550.7 125.7 549.7 128.4 544.6 129.5 542.2 131.6 540.9 134 538 135.5 536.5 137.6 532.1 139.3 528.1 141.4 527.7 143 522.5 145.1 523.1 146.5 522.9 148.4 521.7 150.9 517.7 153.1 516.6 155.2 521.6 156.9 518.4 158.5 516.9 160.5 518.2 162.4 521 164.4 523.8 166.6 523.3 167.8 526.2 169.8 526.4 172.1 528.9 173.3 530.8 175.1 530 177.9 533.2 178.8 532.7 181.7 534.3 183.6 537.4 184.7 535.5 187.2 538 188.6 536.9 190.5 538.2 193.2 537 195 539 196.7 536.6 198.3 535.7 200.8 536.6 202.2 528.3 204.6 528.9 206.2 524.6 207.3 527.7 210.1 525.5 212 524.1 214 522 215.6 519 216.8 522.4 219.7 518.4 221.1 516.8 222.7 514.8 224.6 516.9 226.5 515.5 229.1 516.1 230.2 517.5 233 518.5 233.9 517.2 236.6 522.2 237.9 519.8 240.2 522.3 241.7 526.8 244.4 531 245.5 532.7 247.7 536.2 249.8 541.1 251.5 543.8 253.1 545.5 255.1 553.5 257.7 556.6 258.7 560 260.5 565.5 263.4 570.9 265.3 579.4 267 576.5 268.6 581.1 271.1 587.7 272.3 592.5 273.8 592.9 276.2 595.4 278.2 602.8 280.1 602.3 282.4 606.6 283.4 609.5 286.1 610.3 287.7 612.2 289.8 615.8 291.3 616 293.1 618.3 295.1 617.8 296.9 620.5 299 620.5 301.1 621.2 303.2 627.9 304.4 626.5 306.6 628.6 308.6 626.7 310.8 629.4 312.6 630 314.4 628.7 316.3 632.4 318 630.8 320.3 632.3 322.2 630.7 323.8 635.2 325.2 635.2 327.5 635.3 329.2 633.7 331 634.8 333 638.2 335.5 636.5 336.9 637.7 338.9 638 340.7 636.5 342.4 641.2 344.7 636.1 346.5 640.1 348.9 640.2 350.5 638.1 352.8 641.7 354.6 642.4 356 641.9 357.4 640.8 359.5 643.2 361.3 644.6 363.9 643.6 365.1 646.2 367.6 645.3 369.1 645.4 371.2 646.7 373.4 643.8 374.8 644.2 376.6 646.1 378.6 646.4 381.3 648.4 382.7 648.1 384.3 646.7 386 647.1 387.9 646.6 390.1 646.7 392.3 647 394 649.4 396.3 647.5 398.4 647.6 399.8 648.3 401.5 647 403.9 647.2 405 643.9 407.6 647.6 409.7 646 411.5 646.2 412.6 646 415 641.1 417.2 646.2 418.6 641.3 421 638.8 422.2 634.3 424.5 635.3 426.4 632.4 428.6 628.3 430 627.2 431.8 626.5 434.2 620.7 435.4 618.1 437.6 618.2 439.6 612.7 441.9 607.2 443.4 607.6 445.4 598.9 447.4 593.3 449.3 589.4 451.6 582.9 452.9 580.7 454.9 575.8 456.2 571.5 458.3 567.4 460.3 564 462.1 560.1 464.4 555.6 465.9 552.5 468.2 546.7 470.4 543.4 471.5 540.7 473.6 539.1 475.7 540.4 477.1 535.4 479.1 539.5 481.5 545 483.2 538.2 485.7 545.8 487.2 542.3 489.3 548.4 490.8 552.3 492.7 554.8 495.1 554.3 496.8 555.9 499 559 500.2 564.3 501.9 565 504.4 568.5 505.7 570 507.6 571.6 509.8 572.7 512.1 572.3 513.6 569.1 515.9 572.6 517.5 564.6 519.2 569.3 521.4 563.9 523.4 561.8 524.7 559.3 527.1 555.9 528.6 554.4 531.4 549.7 532.8 546.3 534.3 547.3 536 543.1 538.1 544.1 540.1 539.9 542.3 537.5 544.3 538.5 546.3 539.2 547.9 536.8 550 539.1 551.8 543.5 553.4 541.4 555.2 544.2 557.3 549.6 559.6 552.6 560.8 553.9 563.3 562.2 564.5 569.1 566.6 576.7 569 585.8 571.1 593.2 573 597.8 574.8 607.9 576.2 613.8 578.9 620.5 580.4 628.2 582.6 633.6 584.5 640.5 585.6 644.2 588.4 649.1 589.3 656.3 591.8 659.2 593.3 664 595 667.4 597.4 674.3 598.9 677.2 601.5 681.3 603 686.2 604.7 686.9 606.3 687.6 609 685.9 610.8 691.3 612.9 692.5 614.3 692.4 616.8 693.6 617.7 696.3 620.6 698.3 622.3 700.3 623.5 699.4 626.4 697.3 627.3 699 629.9 696.7 631.3 700.1 633.7 699.6 635.7 698.1 636.8 699 638.9 698.9 641.5 698.5 642.9 701.7 644.4 704.7 646.3 701.1 648.2 701.6 650.1 700.3 652.3 699.6 654.7 703.9 656.2 699.9 657.7 701.2 659.9 700.5 661.9 701.8 663.8 700.9 665.9 702 667.9 699.2 669.8 701.2 671.5 703.6 672.8 699.9 675.6 700.7 677.5 704.1 679.3 702.7 680.9 703.8 683.3 698.8 684.3 702.7 686.9 700.6 688.7 700.6 690.7 703.6 691.9 705 694.8 701 695.6 701.7 697.7 702.7 700 703.7 701.9 701.9 703.4 707.8 705.4 705.4 708 704.1 709.2 704" fill="none" stroke="none" marker-start="url(#m0)" marker-mid="url(#m0)" marker-end="url(#m0)"/>
<path d="M50 577L52.2 578.8 54.4 576.2 56.6 578.2 58.8 580.7 61 575.7 63.2 577.5 65.4 582.2 67.6 578.1 69.8 579.1 72 577.4 74.2 579.1 76.4 582.6 78.6 579.5 80.8 578.5 83 580.2 85.2 585.6 87.4 582.2 89.6 580.6 91.8 582.1 94 582.1 96.2 581.3 98.4 580.6 100.6 579.6 102.8 578.3 105 576.7 107.2 574.9 109.4 572.8 111.6 570.4 113.8 567.6 116 564.7 118.2 561.6 120.4 558.1 122.6 554.4 124.8 550.8 127 547.2 129.2 543.7 131.4 540.1 133.6 536.8 135.8 533.5 138 530.3 140.2 527.5 142.4 525.2 144.6 523.2 146.8 521.6 149 520.3 151.2 519.2 153.4 518.8 155.6 518.8 157.8 519.2 160 519.8 162.2 520.7 164.4 521.7 166.6 523.1 168.8 525 171 527 173.2 529 175.4 530.7 177.6 532.3 179.8 533.9 182 535.3 184.2 536.5 186.4 537.4 188.6 538 190.8 538.1 193 537.8 195.2 537 197.4 536 199.6 534.7 201.8 533.1 204 531.2 206.2 528.8 208.4 526.4 210.6 524.2 212.8 522.4 215 520.7 217.2 519.3 219.4 518 221.6 516.9 223.8 516.2 226 516.2 228.2 516.6 230.4 517.1 232.6 517.9 234.8 518.9 237 520.5 239.2 522.8 241.4 525.9 243.6 529.4 245.8 533.2 248 537.4 250.2 541.9 252.4 546.5 254.6 551.2 256.8 556.1 259 561 261.2 565.9 263.4 570.8 265.6 575.7 267.8 580.6 270 585.2 272.2 589.9 274.4 594.4 276.6 598.4 278.8 601.9 281 605 283.2 607.9 285.4 610.5 287.6 612.8 289.8 615 292 616.9 294.2 618.7 296.4 620.3 298.6 622 300.8 623.5 303 624.9 305.2 625.5 307.4 627.9 309.6 628.5 311.8 631.8 314 627.9 316.2 633.8 318.4 631 320.6 628.9 322.8 636.3 325 632.8 327.2 635.4 329.4 634.8 331.6 638.2 333.8 638.9 336 639.5 338.2 639.2 340.4 634.6 342.6 635.1 344.8 639.8 347 637.8 349.2 641.4 351.4 641.2 353.6 638.2 355.8 639.5 358 639.7 360.2 640.6 362.4 642.5 364.6 644.9 366.8 646.7 369 641.9 371.2 643.2 373.4 648.3 375.6 647.1 377.8 646 380 640.6 382.2 643.9 384.4 646.8 386.6 645.5 388.8 651.5 391 647.7 393.2 648.5 395.4 645.7 397.6 645.9 399.8 646.5 402 646.4 404.2 647.1 406.4 647.6 408.6 646.8 410.8 646.1 413 645.1 415.2 643.9 417.4 642.1 419.6 640 421.8 637.5 424 634.8 426.2 631.9 428.4 628.9 430.6 625.9 432.8 622.9 435 619.9 437.2 616.5 439.4 612.5 441.6 607.9 443.8 602.6 446 597 448.2 591.5 450.4 586.2 452.6 580.8 454.8 575.6 457 570.5 459.2 565.6 461.4 560.8 463.6 556 465.8 551.3 468 546.5 470.2 542.7 472.4 540.2 474.6 538.8 476.8 538.4 479 538.7 481.2 539.6 483.4 541.1 485.6 543.1 487.8 545.7 490 548.5 492.2 551.5 494.4 554.6 496.6 557.6 498.8 560.9 501 564.3 503.2 567.2 505.4 569.2 507.6 570.8 509.8 571.8 512 572 514.2 571.3 516.4 569.8 518.6 567.8 520.8 565.5 523 562.6 525.2 559.3 527.4 556.1 529.6 552.8 531.8 549.4 534 546.3 536.2 543.8 538.4 541.6 540.6 539.7 542.8 538.3 545 537.6 547.2 537.9 549.4 539.1 551.6 540.9 553.8 543.5 556 546.8 558.2 551.2 560.4 556.6 562.6 562.8 564.8 569.4 567 577.1 569.2 585.4 571.4 593.6 573.6 602.3 575.8 610.6 578 618.4 580.2 626 582.4 633.4 584.6 640.3 586.8 646.9 589 653.1 591.2 659 593.4 664.4 595.6 669.6 597.8 674.3 600 678.5 602.2 682.5 604.4 686 606.6 688.5 608.8 690.3 611 691.8 613.2 693.5 615.4 692.8 617.6 695.6 619.8 696.7 622 700.6 624.2 697.3 626.4 699 628.6 696.9 630.8 699.8 633 699.8 635.2 697.6 637.4 698.1 639.6 699.2 641.8 700.7 644 697 646.2 701.7 648.4 699.1 650.6 704.2 652.8 703.4 655 699.4 657.2 699 659.4 706 661.6 702.1 663.8 702.1 666 700.1 668.2 700.9 670.4 703.1 672.6 702.8 674.8 699.8 677 704.5 679.2 702.6 681.4 700 683.6 704.5 685.8 702.1 688 704.4 690.2 701.6 692.4 703.9 694.6 699.7 696.8 704.3 699 700.3 701.2 704.3 703.4 698.5 705.6 704.3 707.8 705.3 710 705" fill="none" stroke="#ff0000" stroke-width="3.9" stroke-linejoin="round"/>
<rect x="49.7" y="10" width="661.9" height="723" fill="none" stroke="#000" stroke-width="3.6"/>
<line x1="49.7" y1="733" x2="49.7" y2="739.5" stroke="#000" stroke-width="3.2"/>
<line x1="238" y1="733" x2="238" y2="739.5" stroke="#000" stroke-width="3.2"/>
<line x1="426.8" y1="733" x2="426.8" y2="739.5" stroke="#000" stroke-width="3.2"/>
<line x1="615.6" y1="733" x2="615.6" y2="739.5" stroke="#000" stroke-width="3.2"/>
<line x1="143.9" y1="733" x2="143.9" y2="736.5" stroke="#000" stroke-width="2.6"/>
<line x1="332.4" y1="733" x2="332.4" y2="736.5" stroke="#000" stroke-width="2.6"/>
<line x1="521.2" y1="733" x2="521.2" y2="736.5" stroke="#000" stroke-width="2.6"/>
<text x="26" y="768.3" font-family="'Liberation Serif', serif" font-weight="bold" font-size="32.1" textLength="46" lengthAdjust="spacingAndGlyphs">860</text>
<text x="215" y="768.3" font-family="'Liberation Serif', serif" font-weight="bold" font-size="32.1" textLength="46" lengthAdjust="spacingAndGlyphs">850</text>
<text x="404.8" y="768.3" font-family="'Liberation Serif', serif" font-weight="bold" font-size="32.1" textLength="45.4" lengthAdjust="spacingAndGlyphs">840</text>
<text x="594" y="768.3" font-family="'Liberation Serif', serif" font-weight="bold" font-size="32.1" textLength="45" lengthAdjust="spacingAndGlyphs">830</text>
<text x="235.9" y="816.2" font-family="'Liberation Serif', serif" font-weight="bold" font-size="30.9" textLength="288" lengthAdjust="spacingAndGlyphs">Binding Energy (eV)</text>
<text transform="translate(28.1 526) rotate(-90)" x="0" y="0" font-family="'Liberation Serif', serif" font-weight="bold" font-size="29.8" textLength="268.2" lengthAdjust="spacingAndGlyphs">Intensity (arb. unit)</text>
<text x="57" y="667.4" font-family="'Liberation Sans', sans-serif" font-weight="bold" font-size="50.5" textLength="53.8" lengthAdjust="spacingAndGlyphs">(a)</text>
<text x="651.8" y="243.2" font-family="'Liberation Sans', sans-serif" font-weight="bold" font-size="30.9" textLength="43.2" lengthAdjust="spacingAndGlyphs">(iii)</text>
<text x="648" y="453.2" font-family="'Liberation Sans', sans-serif" font-weight="bold" font-size="34.9" textLength="41" lengthAdjust="spacingAndGlyphs">(ii)</text>
<text x="661.4" y="672.7" font-family="'Liberation Sans', sans-serif" font-weight="bold" font-size="33.5" textLength="31.2" lengthAdjust="spacingAndGlyphs">(i)</text>
<g font-family="'Liberation Serif', serif" font-weight="bold" font-size="23.2" stroke="#000" stroke-width="0.85"><text transform="translate(101.3 40.9) scale(1.195 1.061)">8</text><text transform="translate(115.7 46) scale(1.195 1.061)">5</text><text transform="translate(130.1 46) scale(1.195 1.061)">3</text><text transform="translate(143.7 40.9) scale(1.250 1.250)">.</text><text transform="translate(150.8 46) scale(1.195 1.061)">7</text><text transform="translate(164.8 40.9) scale(1.266 0.742)">2</text></g>
<g font-family="'Liberation Serif', serif" font-weight="bold" font-size="21.7" stroke="#000" stroke-width="0.85"><text transform="translate(217.8 40.2) scale(1.341 1.061)">8</text><text transform="translate(233 45) scale(1.341 1.061)">4</text><text transform="translate(248.2 45) scale(1.341 1.061)">9</text><text transform="translate(262.9 40.2) scale(1.250 1.250)">.</text><text transform="translate(269.9 40.2) scale(1.341 1.061)">8</text><text transform="translate(285.1 45) scale(1.341 1.061)">7</text></g>
<g font-family="'Liberation Serif', serif" font-weight="bold" font-size="21.7" stroke="#000" stroke-width="0.85"><text transform="translate(422.8 55.2) scale(1.381 1.061)">8</text><text transform="translate(438.5 60) scale(1.381 1.061)">3</text><text transform="translate(454.1 55.2) scale(1.381 1.061)">6</text><text transform="translate(469.4 55.2) scale(1.250 1.250)">.</text><text transform="translate(476.5 55.2) scale(1.381 1.061)">8</text><text transform="translate(492.2 55.2) scale(1.381 1.061)">8</text></g>
<g font-family="'Liberation Serif', serif" font-weight="bold" font-size="21.7" stroke="#000" stroke-width="0.85"><text transform="translate(531.3 55.2) scale(1.365 1.061)">8</text><text transform="translate(546.8 60) scale(1.365 1.061)">3</text><text transform="translate(562.2 60) scale(1.365 1.061)">3</text><text transform="translate(577.3 55.2) scale(1.250 1.250)">.</text><text transform="translate(584 55.2) scale(1.447 0.742)">0</text><text transform="translate(599.9 55.2) scale(1.365 1.061)">6</text></g>
<g font-family="'Liberation Serif', serif" font-weight="bold" font-size="22.4" stroke="#000" stroke-width="0.85"><text transform="translate(89.3 258.7) scale(1.294 1.061)">8</text><text transform="translate(104.4 263.6) scale(1.294 1.061)">5</text><text transform="translate(119.5 263.6) scale(1.294 1.061)">4</text><text transform="translate(134 258.7) scale(1.250 1.250)">.</text><text transform="translate(141.1 258.7) scale(1.294 1.061)">6</text><text transform="translate(156.2 258.7) scale(1.294 1.061)">6</text></g>
<g font-family="'Liberation Serif', serif" font-weight="bold" font-size="19" stroke="#000" stroke-width="0.85"><text transform="translate(186.3 243.3) scale(1.606 1.061)">8</text><text transform="translate(202.2 247.5) scale(1.606 1.061)">5</text><text transform="translate(217.7 243.3) scale(1.703 0.742)">0</text><text transform="translate(234.2 243.3) scale(1.250 1.250)">.</text><text transform="translate(241 243.3) scale(1.606 1.061)">8</text><text transform="translate(256.4 243.3) scale(1.703 0.742)">0</text></g>
<g font-family="'Liberation Serif', serif" font-weight="bold" font-size="22.4" stroke="#000" stroke-width="0.85"><text transform="translate(402.3 282.7) scale(1.270 1.061)">8</text><text transform="translate(417.1 287.6) scale(1.270 1.061)">3</text><text transform="translate(431.9 287.6) scale(1.270 1.061)">7</text><text transform="translate(446.2 282.7) scale(1.250 1.250)">.</text><text transform="translate(453.2 282.7) scale(1.270 1.061)">8</text><text transform="translate(468 287.6) scale(1.270 1.061)">3</text></g>
<g font-family="'Liberation Serif', serif" font-weight="bold" font-size="19.6" stroke="#000" stroke-width="0.85"><text transform="translate(500.8 286.7) scale(1.430 1.061)">8</text><text transform="translate(515.4 291) scale(1.430 1.061)">3</text><text transform="translate(529.9 291) scale(1.430 1.061)">4</text><text transform="translate(544.3 286.7) scale(1.250 1.250)">.</text><text transform="translate(550.4 286.7) scale(1.516 0.742)">0</text><text transform="translate(565 286.7) scale(1.516 0.742)">1</text></g>
<g font-family="'Liberation Serif', serif" font-weight="bold" font-size="23.3" stroke="#000" stroke-width="0.85"><text transform="translate(97.9 439.9) scale(1.241 1.061)">8</text><text transform="translate(112.9 445) scale(1.241 1.061)">5</text><text transform="translate(128 445) scale(1.241 1.061)">4</text><text transform="translate(142.3 439.9) scale(1.250 1.250)">.</text><text transform="translate(149.5 445) scale(1.241 1.061)">4</text><text transform="translate(164.1 439.9) scale(1.315 0.742)">2</text></g>
<g font-family="'Liberation Serif', serif" font-weight="bold" font-size="20.9" stroke="#000" stroke-width="0.85"><text transform="translate(191.1 455) scale(1.423 1.061)">8</text><text transform="translate(206.6 459.6) scale(1.423 1.061)">5</text><text transform="translate(221.6 455) scale(1.509 0.742)">0</text><text transform="translate(237.3 455) scale(1.250 1.250)">.</text><text transform="translate(244.3 459.6) scale(1.423 1.061)">4</text><text transform="translate(259.3 455) scale(1.509 0.742)">0</text></g>
<g font-family="'Liberation Serif', serif" font-weight="bold" font-size="21.7" stroke="#000" stroke-width="0.85"><text transform="translate(395.1 484.2) scale(1.308 1.061)">8</text><text transform="translate(409.9 489) scale(1.308 1.061)">3</text><text transform="translate(424.7 489) scale(1.308 1.061)">7</text><text transform="translate(439.1 484.2) scale(1.250 1.250)">.</text><text transform="translate(446 489) scale(1.308 1.061)">3</text><text transform="translate(460.8 489) scale(1.308 1.061)">4</text></g>
<g font-family="'Liberation Serif', serif" font-weight="bold" font-size="23.2" stroke="#000" stroke-width="0.85"><text transform="translate(505.6 483.9) scale(1.208 1.061)">8</text><text transform="translate(520.2 489) scale(1.208 1.061)">3</text><text transform="translate(534.7 489) scale(1.208 1.061)">3</text><text transform="translate(548.6 483.9) scale(1.250 1.250)">.</text><text transform="translate(555.6 489) scale(1.208 1.061)">5</text><text transform="translate(570.2 489) scale(1.208 1.061)">5</text></g>
<line x1="164" y1="57.5" x2="164" y2="75" stroke="#000" stroke-width="4.2" stroke-dasharray="4.5 2.5"/>
<path d="M156.8 75L171.2 75L164 99Z" fill="#000"/>
<line x1="235" y1="50" x2="235" y2="72.5" stroke="#000" stroke-width="4.2" stroke-dasharray="4.5 2.5"/>
<path d="M227.8 72.5L242.2 72.5L235 97.5Z" fill="#000"/>
<line x1="485" y1="62.5" x2="485" y2="90" stroke="#000" stroke-width="4.2" stroke-dasharray="4.5 2.5"/>
<path d="M477.8 90L492.2 90L485 120Z" fill="#000"/>
<line x1="561" y1="65" x2="561" y2="90" stroke="#000" stroke-width="4.2" stroke-dasharray="4.5 2.5"/>
<path d="M553.8 90L568.2 90L561 117.5Z" fill="#000"/>
<line x1="143.3" y1="269.6" x2="143.3" y2="281.6" stroke="#000" stroke-width="4.2" stroke-dasharray="4.5 2.5"/>
<path d="M136.1 281.6L150.5 281.6L143.3 309Z" fill="#000"/>
<line x1="219" y1="255" x2="219" y2="283" stroke="#000" stroke-width="4.2" stroke-dasharray="4.5 2.5"/>
<path d="M211.8 283L226.2 283L219 309Z" fill="#000"/>
<line x1="469.3" y1="296" x2="469.3" y2="315" stroke="#000" stroke-width="4.2" stroke-dasharray="4.5 2.5"/>
<path d="M462.1 315L476.5 315L469.3 339Z" fill="#000"/>
<line x1="537.7" y1="297" x2="537.7" y2="308" stroke="#000" stroke-width="4.2" stroke-dasharray="4.5 2.5"/>
<path d="M530.5 308L544.9 308L537.7 337Z" fill="#000"/>
<line x1="154" y1="454.8" x2="154" y2="488" stroke="#000" stroke-width="4.2" stroke-dasharray="4.5 2.5"/>
<path d="M146.8 488L161.2 488L154 516Z" fill="#000"/>
<line x1="225" y1="461" x2="225" y2="483" stroke="#000" stroke-width="4.2" stroke-dasharray="4.5 2.5"/>
<path d="M217.8 483L232.2 483L225 510Z" fill="#000"/>
<line x1="477.2" y1="502" x2="477.2" y2="513" stroke="#000" stroke-width="4.2" stroke-dasharray="4.5 2.5"/>
<path d="M470 513L484.4 513L477.2 538Z" fill="#000"/>
<line x1="548.5" y1="497" x2="548.5" y2="508" stroke="#000" stroke-width="4.2" stroke-dasharray="4.5 2.5"/>
<path d="M541.3 508L555.7 508L548.5 537Z" fill="#000"/>
</g>
<g id="pb">
<path d="M846 177.8C855.6 178.2 886.3 178.5 903.4 180C920.5 181.5 933.7 184 948.8 187C963.9 190 978.9 195 994 198C1009.1 201 1024.3 203.3 1039.5 205C1054.7 206.7 1071.6 207 1085 208C1098.4 209 1102.5 209.8 1120 210.8C1137.5 211.9 1172.5 215.5 1190 214.3C1207.5 213.1 1213.3 208.7 1225 203.8C1236.7 198.9 1248.9 190.2 1260 185C1271.1 179.8 1281.8 172.7 1291.6 172.3C1301.3 171.9 1310.1 176.8 1318.5 182.8C1326.9 188.8 1334 199.2 1341.8 208.5C1349.5 217.8 1357.2 230.2 1365 238.8C1372.8 247.4 1380.7 254.9 1388.5 259.8C1396.3 264.7 1399.4 266.6 1411.8 268C1424.2 269.4 1454.5 268.4 1463 268.5" fill="none" stroke="#1616e0" stroke-width="3" stroke-linejoin="round" stroke-linecap="round"/>
<path d="M846 178C850 177.8 862.3 177.6 870 177C877.7 176.4 884.9 175.2 892 174.5C899.1 173.8 907.1 174.1 912.9 172.7C918.7 171.2 922.7 168.4 926.7 165.8C930.7 163.2 933.6 160.8 937.1 157.1C940.6 153.3 943.5 147.9 947.5 143.3C951.5 138.7 956.2 133.5 961.4 129.4C966.6 125.4 974.5 120.9 978.8 119C983.1 117.1 984.5 117.5 987.4 118.1C990.3 118.7 992.3 119.1 996.1 122.4C999.9 125.7 1005.7 132.2 1010 138C1014.3 143.8 1018.1 150.4 1022.1 157.1C1026.2 163.8 1030 172.2 1034.3 178C1038.6 183.8 1043 188.1 1048.2 191.8C1053.4 195.6 1056.9 197.9 1065.5 200.5C1074.1 203.1 1089.2 205.5 1100 207.4C1110.8 209.3 1125 211.2 1130 212" fill="none" stroke="#8e1a6e" stroke-width="3" stroke-linejoin="round" stroke-linecap="round"/>
<path d="M985 191C987.5 191.4 995.2 192.8 1000 193.5C1004.8 194.2 1008.4 195.3 1013.5 195.3C1018.6 195.3 1025 194.6 1030.8 193.6C1036.6 192.6 1042.4 190.6 1048.2 189.2C1054 187.8 1056.9 186.5 1065.5 184.9C1074.1 183.3 1091.1 180.5 1100 179.7C1108.9 178.9 1107.9 177.6 1119 180C1130.1 182.4 1152.9 189.7 1166.7 194.4C1180.5 199.2 1190 204.6 1201.7 208.5C1213.4 212.4 1226.7 215.6 1236.7 217.8C1246.8 220.1 1257.8 221.3 1262 222" fill="none" stroke="#f5861c" stroke-width="3" stroke-linejoin="round" stroke-linecap="round"/>
<path d="M1225 219.5C1228.9 219.6 1240.6 220.1 1248.4 220C1256.2 219.9 1264 222.1 1271.8 219C1279.6 215.9 1287.2 211.4 1295 201.5C1302.8 191.6 1311.7 170.7 1318.5 159.4C1325.3 148.1 1331.3 139.3 1336 133.5C1340.7 127.7 1343 124.9 1346.5 124.4C1350 123.9 1353.9 126.3 1357 130.6C1360.1 134.9 1360.5 137.8 1365 150C1369.5 162.2 1378 188.2 1383.8 203.8C1389.6 219.4 1394.2 233.8 1400 243.5C1405.8 253.2 1408.4 257.8 1418.9 262C1429.4 266.2 1455.7 267.8 1463 269" fill="none" stroke="#f01cf0" stroke-width="3" stroke-linejoin="round" stroke-linecap="round"/>
<path d="M802.9 162.4 805.6 176.8 809.3 165.6 813.6 169.9 818.4 180 823.2 188 825.9 173.1 830 166 834.4 157.6 837.6 165.6 841.9 185.9 844 165.6 845.6 173.1" fill="none" stroke="none" marker-start="url(#m1)" marker-mid="url(#m1)" marker-end="url(#m1)"/>
<path d="M797.6 161.3L802.9 162.4 805.6 176.8 809.3 165.6 813.6 169.9 818.4 180 823.2 188 825.9 173.1 830 166 834.4 157.6 837.6 165.6 841.9 185.9 844 165.6 845.6 173.1 849.4 172" fill="none" stroke="#000" stroke-width="7.5" stroke-linejoin="round"/>
<path d="M797.6 161.3L802.9 162.4 805.6 176.8 809.3 165.6 813.6 169.9 818.4 180 823.2 188 825.9 173.1 830 166 834.4 157.6 837.6 165.6 841.9 185.9 844 165.6 845.6 173.1 849.4 172" fill="none" stroke="#2ee81e" stroke-width="4" stroke-linejoin="round"/>
<path d="M849 172C854.2 170.8 869.4 167.4 880 165C890.6 162.6 904.5 157.5 912.9 157.3C921.3 157.1 923.6 160.6 930.2 164C936.8 167.4 944.6 173.4 952.7 178C960.8 182.6 968.7 187.8 978.8 191.8C988.9 195.8 1001.9 199.6 1013.5 202.2C1025.1 204.8 1033.8 205.7 1048.2 207.4C1062.6 209.1 1086.4 211.5 1100 212.6C1113.6 213.7 1111.1 213.1 1130 214C1148.9 214.9 1191.7 216.2 1213.4 217.8C1235.1 219.4 1244.4 220.5 1260 223.6C1275.6 226.7 1293.2 232 1306.8 236.5C1320.4 241 1330.1 245.4 1341.8 250.5C1353.5 255.6 1365.1 263.1 1376.8 266.8C1388.5 270.5 1397.4 271.5 1411.8 272.7C1426.2 273.9 1454.5 273.6 1463 273.8" fill="none" stroke="#2ee81e" stroke-width="3" stroke-linejoin="round" stroke-linecap="round"/>
<path d="M830 390C834.7 389.9 848.4 390.5 858 389.7C867.6 388.9 878 387.6 887.5 385C897 382.4 906.4 378.3 914.7 373.8C923 369.3 929.9 361.8 937.4 358C944.9 354.2 952.4 350.2 960 351C967.6 351.8 975.2 356.8 982.8 362.5C990.4 368.2 998 378.2 1005.5 385C1013 391.8 1018.6 398.2 1028 403.3C1037.4 408.4 1051.7 413 1062 415.8C1072.3 418.6 1080.3 418.8 1090 420C1099.7 421.2 1115 422.5 1120 423" fill="none" stroke="#8e1a6e" stroke-width="3" stroke-linejoin="round" stroke-linecap="round"/>
<path d="M798 390.8C811.8 391.4 859.4 392.5 880.7 394.2C902 395.9 910.9 398.9 926 401C941.1 403.1 958.1 405.8 971.4 406.7C984.6 407.6 994.1 407.3 1005.5 406.7C1016.9 406.1 1028.2 404.6 1039.5 403.3C1050.8 402 1062.2 399.4 1073.5 398.8C1084.8 398.2 1099.8 399 1107.5 400C1115.2 401 1110.1 402.1 1120 404.8C1129.9 407.5 1153.1 412.7 1166.7 416.4C1180.3 420.1 1190 424.7 1201.7 427C1213.4 429.3 1230.9 429.8 1236.7 430.4" fill="none" stroke="#f5861c" stroke-width="3" stroke-linejoin="round" stroke-linecap="round"/>
<path d="M1120 421C1129.7 421.4 1164.8 423.8 1178.4 423.4C1192 423 1192 423.1 1201.7 418.8C1211.4 414.5 1224.2 405 1236.7 397.8C1249.2 390.6 1265.5 377.6 1276.4 375.6C1287.3 373.6 1293.8 378.8 1302 386C1310.2 393.2 1316.9 407.9 1325.5 418.8C1334.1 429.7 1343 443 1353.5 451.5C1364 460 1370.2 466.2 1388.5 470C1406.8 473.8 1450.6 473.3 1463 474" fill="none" stroke="#1616e0" stroke-width="3" stroke-linejoin="round" stroke-linecap="round"/>
<path d="M1210 429.5C1214.5 429.5 1227.6 429.6 1236.7 429.3C1245.8 429.1 1256.2 431.3 1264.8 428C1273.3 424.7 1281 417.9 1288 409.4C1295 400.8 1302 383.8 1306.8 376.7C1311.5 369.6 1313.4 369.2 1316.5 367.1C1319.6 365 1322.5 363.6 1325.5 364C1328.5 364.4 1331.4 365.9 1334.5 369.2C1337.6 372.5 1339.3 373.1 1344 383.7C1348.7 394.3 1356.5 419.6 1362.8 432.8C1369 446 1373.3 456.4 1381.5 463C1389.7 469.6 1398.2 470.6 1411.8 472.5C1425.4 474.4 1454.5 474.2 1463 474.5" fill="none" stroke="#f01cf0" stroke-width="3" stroke-linejoin="round" stroke-linecap="round"/>
<path d="M798 392C808 391.2 841.2 389.3 858 387.4C874.8 385.5 887.6 380.6 898.9 380.6C910.2 380.6 915.8 384 926 387.4C936.2 390.8 948.7 396.6 960 401C971.3 405.4 980.8 410.7 994 413.5C1007.2 416.3 1024.3 416.7 1039.5 418C1054.7 419.3 1071.5 420.5 1084.9 421.4C1098.3 422.3 1102.5 422.5 1120 423.4C1137.5 424.3 1170.5 425.8 1190 427C1209.5 428.2 1221.1 427.5 1236.7 430.4C1252.3 433.3 1269.8 439.8 1283.4 444.5C1297 449.2 1306.8 454 1318.5 458.5C1330.2 463 1339.9 468.4 1353.5 471.3C1367.1 474.2 1381.8 475.1 1400 476C1418.2 476.9 1452.5 476.8 1463 477" fill="none" stroke="#2ee81e" stroke-width="3" stroke-linejoin="round" stroke-linecap="round"/>
<path d="M840 607C844.9 606.9 859.6 607.3 869.4 606.5C879.2 605.7 889.5 605.4 898.9 602C908.3 598.6 917.7 590.9 926 586C934.3 581.1 940.8 576.5 948.8 572.5C956.8 568.5 966.2 562.7 973.7 562.3C981.2 561.9 986.8 565.5 994 570.2C1001.2 574.9 1009.2 584.2 1016.8 590.6C1024.4 597 1032 603.5 1039.5 608.8C1047 614.1 1054.4 619.2 1062 622.4C1069.6 625.6 1075.2 626.2 1084.9 628C1094.6 629.8 1114.2 632.2 1120 633" fill="none" stroke="#8e1a6e" stroke-width="3" stroke-linejoin="round" stroke-linecap="round"/>
<path d="M880 607.5C891.5 608.9 929.8 613.1 948.8 615.6C967.8 618.1 980.5 620.7 994 622.4C1007.5 624.1 1024 625.4 1030 626" fill="none" stroke="#f01cf0" stroke-width="3" stroke-linejoin="round" stroke-linecap="round"/>
<path d="M798 605.4C811.8 605.6 857.5 605.4 880.7 606.5C903.9 607.6 920.4 610.5 937.4 612.2C954.4 613.9 969.6 615.8 982.8 616.7C996 617.6 1005.5 618.2 1016.8 617.8C1028.1 617.4 1039.4 615.5 1050.8 614.4C1062.2 613.3 1073.4 611.1 1084.9 611C1096.4 610.9 1106.4 612.1 1120 614C1133.6 615.9 1151.1 619.2 1166.7 622.3C1182.3 625.4 1201.2 630 1213.4 632.8C1225.6 635.6 1231.9 637 1240 639C1248.1 641 1258.3 643.6 1262 644.5" fill="none" stroke="#f5861c" stroke-width="3" stroke-linejoin="round" stroke-linecap="round"/>
<path d="M1120 632.8C1131.7 633.2 1174.4 635.4 1190 635C1205.6 634.6 1203.7 633.5 1213.4 630.4C1223.1 627.3 1236 620.9 1248.4 616.4C1260.8 611.9 1278.3 604.8 1288 603.6C1297.7 602.4 1299.8 604.9 1306.8 609.4C1313.8 613.9 1322.2 623 1330 630.4C1337.8 637.8 1345.7 646.8 1353.5 653.8C1361.3 660.8 1369 668.2 1376.8 672.5C1384.5 676.8 1385.6 677.8 1400 679.5C1414.4 681.2 1452.5 682.4 1463 683" fill="none" stroke="#1616e0" stroke-width="3" stroke-linejoin="round" stroke-linecap="round"/>
<path d="M1230 640C1235 639.8 1251.1 640.2 1260 638.6C1268.9 637 1276.7 634.2 1283.4 630.4C1290.1 626.6 1296.1 620.3 1300 616C1303.9 611.7 1303.5 610.7 1306.8 604.8C1310.1 598.9 1316.1 586.8 1320 580.6C1323.9 574.4 1326.8 570.6 1330 567.6C1333.2 564.6 1336.2 563 1339.5 562.7C1342.8 562.4 1346.6 563.1 1350 566C1353.4 568.9 1356.2 572.5 1360 580C1363.8 587.5 1368.5 600.2 1373 610.7C1377.5 621.2 1382.2 633.6 1386.7 642.7C1391.2 651.8 1395.6 659.5 1400 665.3C1404.4 671.1 1408 674.6 1413 677.3C1418 680 1421.7 680.5 1430 681.5C1438.3 682.5 1457.5 682.8 1463 683" fill="none" stroke="#f01cf0" stroke-width="3" stroke-linejoin="round" stroke-linecap="round"/>
<path d="M798 604.2C808 603.8 840.4 602.9 858 602C875.6 601.1 890.2 597.9 903.4 598.6C916.6 599.4 926.1 603.7 937.4 606.5C948.7 609.3 958.2 612.6 971.4 615.6C984.6 618.6 1001.7 622.3 1016.8 624.6C1031.9 626.9 1044.8 627.6 1062 629.2C1079.2 630.8 1098.7 632.4 1120 634C1141.3 635.6 1166.7 636.7 1190 638.6C1213.3 640.5 1240.5 642.7 1260 645.6C1279.5 648.5 1293.2 651.9 1306.8 656C1320.4 660.1 1330.1 665.7 1341.8 670C1353.5 674.3 1356.6 679.2 1376.8 681.8C1397 684.3 1448.6 684.7 1463 685.3" fill="none" stroke="#2ee81e" stroke-width="3" stroke-linejoin="round" stroke-linecap="round"/>
<path d="M846.8 165.2 850.9 175.1 856.8 169.7 860.7 173.2 866.5 171 870.5 162.3 874.9 163.9 877.2 161.6 883 163.1 887.5 167.7 890.4 159 896 153.4 900 167.1 904.1 148.3 910 150.5 913.4 148.8 917 141.1 922.1 148.4 927.9 146.5 930.9 139.3 934.8 137.5 938.9 133.6 944.4 122 949.3 128.2 953 118.5 958.5 116.5 962.1 120.9 967.2 120.7 971 110.4 975.5 118.5 979.4 120.6 983 112.6 989 111.5 993.8 113.9 997.8 112.7 1001.4 113 1004.9 123.3 1009.6 128.3 1014.9 128.4 1019.6 134.8 1022.4 137.5 1029.2 147.3 1033 151.7 1037.4 155.4 1042.5 173.4 1045.9 170.2 1050 174.4 1053.7 184 1059.3 174.7 1063.7 180.8 1068.8 172.3 1073.2 176.2 1076.4 182.8 1081.7 178.5 1086.4 172.9 1089.4 172.3 1094.3 181 1098.7 174.8 1102.8 182.2 1107.1 179.6 1110.9 176.6 1115.2 178.1 1119.9 183 1125.1 180.9 1129.6 177.6 1134.5 185.3 1137.4 183 1142.5 185.2 1146.7 190.4 1150.3 190.5 1156.9 195.8 1159.6 190.8 1164.9 191 1169.3 192.5 1173.9 197 1178.5 192.4 1183.2 195.6 1185.9 193.8 1191.3 195 1194.7 198.3 1199.1 210.9 1204.8 197.9 1209.1 200.7 1213.4 199.4 1216.2 197.6 1222.8 197 1226.4 205.1 1230.3 193.3 1235.9 199.9 1238.2 194.5 1243.1 185.1 1247.1 184.2 1252 182.5 1257.6 176.2 1260.3 184.9 1266.3 177.3 1270.3 174.8 1274 164.6 1279.7 166.6 1282 159.8 1286.9 168.8 1292 151.1 1296.1 147.5 1300.5 142 1306.5 128.8 1309.7 124 1314.4 115.5 1318.3 114 1322 99.8 1326.2 96.3 1332.3 91.1 1336.6 83.8 1341.7 77.5 1344.2 78.6 1348.9 84.7 1353.3 86.4 1358.2 102.8 1361.2 104.7 1367.6 122.8 1371.8 132.3 1374.5 149.1 1380.6 168.9 1384 179.5 1388.6 197.1 1392.4 223.4 1398.1 225.7 1402.2 234.2 1405.2 249.7 1409.9 255.5 1415.8 256.9 1418.6 266.6 1423.9 255.9 1428.9 262.2 1431.9 257.6 1437.2 272.7 1441.4 267.1 1445.1 279.3 1451.2 269.8 1453.7 270 1460.1 262.7" fill="none" stroke="none" marker-start="url(#m2)" marker-mid="url(#m2)" marker-end="url(#m2)"/>
<path d="M804.2 394.4 808.4 396.6 813.2 388.5 818.5 389.9 821.2 383.5 827 384.8 830.3 388 835.7 386.5 840.6 393.7 843.6 384.3 849.4 378.2 853.1 387.2 857.3 386.2 861.9 382.3 865 378.8 869.6 374.2 875.1 372.9 880.3 381.2 882.5 376.8 888.2 371 893.5 370.1 897.3 364.7 901.9 359.6 906.5 359.1 910 359 914.5 348.7 919.8 346.6 922.1 344.1 928.1 347.5 932.7 350.8 937.3 339.9 940.9 339.7 946 336.2 950.7 340.7 952.8 337 957.1 337.7 961.9 337.8 967.7 355.4 970.7 345.6 974.7 345 980.8 349.8 984 358.7 988.4 363.3 994.1 365.5 998.1 358.8 1002.9 377.1 1006.4 380.7 1011.5 384 1016 386.3 1018.7 386.4 1024.6 395.1 1028.7 389.6 1033.2 397.2 1037.4 390.8 1043.3 392.1 1046.6 392.1 1050 391.9 1056.4 392.6 1058.4 398.5 1063.4 402.2 1069.2 391.2 1073.2 389.5 1076.4 400.3 1082.2 392.9 1085.5 396 1090.7 396 1094.5 400.1 1099.1 392.3 1103.9 402.7 1106.9 401.7 1113.1 388.6 1116.2 398.9 1120 398.6 1124.8 403.3 1129 402.2 1133.4 400.1 1139.4 403.5 1142.2 407.5 1147.9 407.4 1152.9 407.5 1155.2 419.2 1160.4 412.1 1166.1 405.3 1169.2 411.7 1174 413.3 1178 407.5 1183.4 413 1187.9 408.4 1191.4 401.5 1194.7 413.2 1201.4 413.2 1204 412.5 1209.7 407.1 1214.5 403.3 1217.7 406 1221.4 405.4 1226.5 405.2 1230.3 404.8 1234.8 398.9 1241.1 386.6 1245.3 385.3 1248 376.6 1253.2 382.6 1257.6 378.7 1260.8 379.2 1267.7 370.3 1269.9 373.5 1274 358.8 1280.7 356.4 1284.2 349.5 1289.7 343.4 1291.6 333.9 1296.8 333.2 1302.1 321.4 1305.8 325 1311.6 317.4 1313.7 319.6 1319.8 307.5 1323.7 314.3 1327 317.8 1332 313.9 1336.2 339.2 1342 347.2 1345.2 350.2 1350.5 377.7 1355.1 388.9 1359.9 385.6 1362.7 404.8 1367.3 418.5 1373.1 436.6 1375.3 436.4 1380.2 448.4 1386.2 458 1389 448.3 1393.7 464.3 1397.2 472.1 1403.5 467.9 1406.7 473.5 1411.4 476.5 1414.9 470.9 1419.2 472 1423.9 472.6 1428.8 469.2 1432.9 482.4 1437.6 474.1 1441.7 475 1448 477.4 1450.5 480.1 1455.9 466.9 1460 468.8" fill="none" stroke="none" marker-start="url(#m2)" marker-mid="url(#m2)" marker-end="url(#m2)"/>
<path d="M803.4 597.1 805.8 604.5 810 600.2 816.4 603.5 819.3 601.8 823.6 599.5 828.4 591.2 832.5 602.3 837.9 602.9 842.1 601.6 847.4 596.3 851.4 597.9 856.2 610.7 860.1 593.9 862.8 597.2 867 591.9 871.4 595.9 876.4 597.1 881.1 600.7 885.2 595 889.1 593 893.4 593.7 898 593.4 903.5 588.7 906.8 587.6 912.3 591.2 917.7 578.8 921.8 579.2 925.3 572.9 930.5 571.4 933.2 579.5 939.8 565.6 943.7 569.7 948.2 575.5 950.6 566.8 956.3 561.2 961.1 556.5 966.2 546.4 970.1 553.3 973.2 553.1 979.4 562.4 983.5 562 986.9 553.6 991.4 565 995.3 560.9 999.6 575.4 1004.1 577.1 1008.4 576.8 1014 576.2 1017.3 589.3 1021.4 588.4 1025.8 593.7 1029.8 594.2 1036.1 595.4 1040.5 603.2 1044.2 597.4 1048.1 606.9 1053.4 605.8 1056.7 597.7 1061.4 609 1066.9 607.2 1070.2 605.9 1075 607.7 1078.3 612 1084.8 603.1 1087.8 603.5 1092.8 612.4 1096.7 610 1101.3 601.1 1106.8 610.2 1110.4 601.7 1114.2 613.5 1117.8 611.9 1122.5 613.5 1127.3 604.4 1132 608.7 1135.6 617.1 1139.8 606.9 1145.9 617.1 1148.8 614 1153.4 616.4 1159.1 612.6 1163.7 620.1 1166.5 619.5 1170.8 622.3 1176.8 631.1 1182 618.9 1186.1 621 1189.9 616.1 1194.5 630.2 1199.4 620.5 1202.5 626.2 1207.6 617 1212.1 620.8 1214.9 624.5 1221.4 622.1 1225.2 617.1 1230 620.6 1234.6 614.7 1236.6 618.3 1242.5 609.2 1246.7 611.3 1249.9 604.1 1256.4 608.7 1260.9 599.7 1263.1 598.5 1268.3 591.9 1273.4 595.8 1276.3 589.4 1281.4 583.3 1286.1 586.5 1289.6 573.1 1296.3 574.2 1300.2 572.3 1304 552.3 1307.8 560.8 1313.4 553.5 1315.7 549.6 1321.8 544.8 1325.5 534 1329 539.4 1335.1 533.6 1338 523.5 1343.2 534.7 1347.6 535.8 1352.2 549.1 1356.3 551.9 1360.2 565.2 1366.1 574.6 1368.6 586.4 1373.9 602.7 1378.9 618.3 1384 639 1388.3 654.3 1391.2 642.9 1395 661.5 1401.7 665.1 1406 669.1 1410.1 671.5 1414.8 674.1 1416.9 675.1 1422.9 681 1425.9 683.7 1432.5 680.4 1437 679.5 1439.1 682.3 1445.6 682.2 1448.7 689.3 1453.9 676.6 1457.8 674.9" fill="none" stroke="none" marker-start="url(#m2)" marker-mid="url(#m2)" marker-end="url(#m2)"/>
<path d="M846 171C851.7 169.7 870.2 165.9 880 163C889.8 160.1 896.7 157.2 905 153.5C913.3 149.8 921.7 145.9 930 141C938.3 136.1 948 128.3 955 124C962 119.7 967 116.9 972 115C977 113.1 980.8 112.5 985 112.5C989.2 112.5 993.2 113.1 997 115C1000.8 116.9 1004.2 120.2 1008 124C1011.8 127.8 1015.5 132 1020 138C1024.5 144 1030.8 154.3 1035 160C1039.2 165.7 1040.8 169 1045 172C1049.2 175 1054.2 176.6 1060 178C1065.8 179.4 1073.3 180.2 1080 180.5C1086.7 180.8 1093.5 180.1 1100 180C1106.5 179.9 1107.9 177.6 1119 180C1130.1 182.4 1151.8 191 1166.7 194.4C1181.7 197.8 1195.1 201.5 1208.7 200.3C1222.3 199.1 1236 193.8 1248.4 187.4C1260.9 181 1273.7 171.1 1283.4 161.8C1293.1 152.5 1299.8 141.9 1306.8 131.4C1313.8 120.9 1319.7 106.5 1325.5 98.7C1331.3 90.9 1336.4 84.7 1341.8 84.7C1347.2 84.7 1353 89.8 1358 98.7C1363 107.7 1367.3 122.9 1372 138.4C1376.7 154 1381.3 176.1 1386 192C1390.7 207.9 1395.3 223.1 1400 234C1404.7 244.9 1408.2 252 1414 257.5C1419.8 263 1426.8 264.9 1435 266.8C1443.2 268.7 1458.3 268.6 1463 269" fill="none" stroke="#ff0000" stroke-width="3.6" stroke-linejoin="round"/>
<path d="M798 390.8C804.2 390.2 823.5 389.5 835.4 387.4C847.3 385.3 858.8 382 869.4 378.4C880 374.8 889.5 370.5 898.9 365.9C908.3 361.3 916.5 354.8 926 351C935.5 347.2 946.9 343.2 955.6 343.2C964.3 343.2 970.7 346.3 978.3 351C985.9 355.7 993.5 365.1 1001 371.5C1008.5 377.9 1015.3 385.7 1023.6 389.7C1031.9 393.7 1040.6 394.4 1050.8 395.4C1061 396.3 1073.6 394.5 1084.9 395.4C1096.2 396.3 1107.2 398.7 1118.9 401C1130.6 403.3 1143.2 407.4 1155 409.4C1166.8 411.4 1178.3 414.2 1190 413C1201.7 411.8 1215.3 407.3 1225 402.4C1234.7 397.5 1240.6 389.9 1248.4 383.7C1256.2 377.5 1264 372.4 1271.8 365C1279.6 357.6 1287.2 347.4 1295 339.4C1302.8 331.4 1311.9 318.8 1318.5 317.2C1325.1 315.6 1329.8 322 1334.8 330C1339.8 338 1344.5 353.3 1348.8 365C1353.1 376.7 1356.6 388.3 1360.5 400C1364.4 411.7 1367.3 424.9 1372 435C1376.7 445.1 1381.9 455 1388.5 460.8C1395.1 466.6 1399.4 467.7 1411.8 470C1424.2 472.3 1454.5 474 1463 474.8" fill="none" stroke="#ff0000" stroke-width="3.6" stroke-linejoin="round"/>
<path d="M798 597C798.8 598.5 801.3 604.7 803 606C804.7 607.3 802.6 605.3 808 605C813.4 604.7 825.2 605.3 835.4 604.2C845.6 603.1 857.3 601.2 869.4 598.6C881.5 596 896.7 593 908 588.4C919.3 583.8 926.8 576.2 937.4 571.3C948 566.4 962 560 971.4 558.9C980.8 557.8 986.4 560.7 994 564.5C1001.6 568.3 1009.2 575.6 1016.8 581.5C1024.4 587.4 1032 595.4 1039.5 599.7C1047 604.1 1052.5 605.9 1062 607.6C1071.5 609.3 1086.5 609.3 1096.2 610C1105.9 610.7 1108.2 610.3 1120 611.8C1131.8 613.3 1151.9 616.9 1166.7 618.8C1181.5 620.7 1197 624.2 1208.7 623.4C1220.4 622.6 1227.4 618.3 1236.7 614C1246 609.7 1256.2 603.6 1264.8 597.8C1273.3 592 1280.2 586.4 1288 579C1295.8 571.6 1303.7 561 1311.5 553.4C1319.3 545.8 1329.8 536.6 1334.8 533.5C1339.8 530.4 1337.9 530.2 1341.8 534.7C1345.7 539.2 1353 549.5 1358 560.4C1363 571.3 1367.3 586.8 1372 600C1376.7 613.2 1381.5 628.9 1386.2 639.8C1390.9 650.7 1394.5 659.3 1400 665.5C1405.5 671.7 1408.4 674.1 1418.9 677C1429.4 679.9 1455.7 682 1463 683" fill="none" stroke="#ff0000" stroke-width="3.6" stroke-linejoin="round"/>
<path d="M849 172C851.7 171.4 859.8 169.7 865 168.5C870.2 167.3 877.5 165.6 880 165" fill="none" stroke="#2ee81e" stroke-width="3.5" stroke-linejoin="round" stroke-linecap="round"/>
<rect x="797.5" y="10" width="666.5" height="720.7" fill="none" stroke="#000" stroke-width="3.6"/>
<line x1="798.2" y1="730.7" x2="798.2" y2="737.2" stroke="#000" stroke-width="3.2"/>
<line x1="1064" y1="730.7" x2="1064" y2="737.2" stroke="#000" stroke-width="3.2"/>
<line x1="1330.6" y1="730.7" x2="1330.6" y2="737.2" stroke="#000" stroke-width="3.2"/>
<line x1="931" y1="730.7" x2="931" y2="734.2" stroke="#000" stroke-width="2.6"/>
<line x1="1197" y1="730.7" x2="1197" y2="734.2" stroke="#000" stroke-width="2.6"/>
<text x="776" y="767.2" font-family="'Liberation Serif', serif" font-weight="bold" font-size="31.2" textLength="42" lengthAdjust="spacingAndGlyphs">730</text>
<text x="1043" y="767.2" font-family="'Liberation Serif', serif" font-weight="bold" font-size="31.2" textLength="40.6" lengthAdjust="spacingAndGlyphs">720</text>
<text x="1310" y="767.2" font-family="'Liberation Serif', serif" font-weight="bold" font-size="31.2" textLength="41.7" lengthAdjust="spacingAndGlyphs">710</text>
<text x="1007.6" y="807.3" font-family="'Liberation Serif', serif" font-weight="bold" font-size="28.8" textLength="262.4" lengthAdjust="spacingAndGlyphs">Binding Energy (eV)</text>
<text transform="translate(765.6 513.2) rotate(-90)" x="0" y="0" font-family="'Liberation Serif', serif" font-weight="bold" font-size="27" textLength="285.4" lengthAdjust="spacingAndGlyphs">Intensity (arb. unit)</text>
<text x="804.7" y="677.8" font-family="'Liberation Sans', sans-serif" font-weight="bold" font-size="48.4" textLength="54.5" lengthAdjust="spacingAndGlyphs">(b)</text>
<text x="1402.5" y="232.1" font-family="'Liberation Sans', sans-serif" font-weight="bold" font-size="37.6" textLength="51.4" lengthAdjust="spacingAndGlyphs">(iii)</text>
<text x="1397.8" y="445" font-family="'Liberation Sans', sans-serif" font-weight="bold" font-size="36.3" textLength="40.9" lengthAdjust="spacingAndGlyphs">(ii)</text>
<text x="1413" y="654.9" font-family="'Liberation Sans', sans-serif" font-weight="bold" font-size="34" textLength="31.5" lengthAdjust="spacingAndGlyphs">(i)</text>
<g font-family="'Liberation Serif', serif" font-weight="bold" font-size="23.9" stroke="#000" stroke-width="0.85"><text transform="translate(850.3 89.4) scale(1.003 1.061)">7</text><text transform="translate(862.4 84.1) scale(1.063 0.742)">2</text><text transform="translate(875.3 89.4) scale(1.003 1.061)">5</text><text transform="translate(886.5 84.1) scale(1.250 1.250)">.</text><text transform="translate(893.2 89.4) scale(1.003 1.061)">5</text><text transform="translate(905.4 84.1) scale(1.063 0.742)">1</text></g>
<g font-family="'Liberation Serif', serif" font-weight="bold" font-size="18.5" stroke="#000" stroke-width="0.85"><text transform="translate(945.7 42.9) scale(1.388 1.061)">7</text><text transform="translate(958.6 38.8) scale(1.471 0.742)">2</text><text transform="translate(972 38.8) scale(1.471 0.742)">2</text><text transform="translate(985.5 38.8) scale(1.250 1.250)">.</text><text transform="translate(991.6 38.8) scale(1.388 1.061)">8</text><text transform="translate(1004.9 42.9) scale(1.388 1.061)">5</text></g>
<g font-family="'Liberation Serif', serif" font-weight="bold" font-size="22.3" stroke="#000" stroke-width="0.85"><text transform="translate(1070.3 109.8) scale(1.111 1.061)">7</text><text transform="translate(1082.8 104.9) scale(1.178 0.742)">1</text><text transform="translate(1096 109.8) scale(1.111 1.061)">7</text><text transform="translate(1108 104.9) scale(1.250 1.250)">.</text><text transform="translate(1114.5 109.8) scale(1.111 1.061)">9</text><text transform="translate(1127 104.9) scale(1.178 0.742)">0</text></g>
<g font-family="'Liberation Serif', serif" font-weight="bold" font-size="24.6" stroke="#000" stroke-width="0.85"><text transform="translate(1203.1 90.5) scale(0.953 1.061)">7</text><text transform="translate(1215 85.1) scale(1.010 0.742)">1</text><text transform="translate(1227.3 85.1) scale(1.010 0.742)">1</text><text transform="translate(1238.4 85.1) scale(1.250 1.250)">.</text><text transform="translate(1244.8 85.1) scale(1.010 0.742)">0</text><text transform="translate(1257.4 90.5) scale(0.953 1.061)">7</text></g>
<g font-family="'Liberation Serif', serif" font-weight="bold" font-size="23" stroke="#000" stroke-width="0.85"><text transform="translate(1324.6 48.5) scale(1.114 1.061)">7</text><text transform="translate(1337.5 43.4) scale(1.181 0.742)">0</text><text transform="translate(1351.2 48.5) scale(1.114 1.061)">9</text><text transform="translate(1363.6 43.4) scale(1.250 1.250)">.</text><text transform="translate(1369.9 43.4) scale(1.181 0.742)">2</text><text transform="translate(1383.6 48.5) scale(1.114 1.061)">7</text></g>
<g font-family="'Liberation Serif', serif" font-weight="bold" font-size="18.5" stroke="#000" stroke-width="0.85"><text transform="translate(824.3 318.2) scale(1.409 1.061)">7</text><text transform="translate(837.4 314.1) scale(1.493 0.742)">2</text><text transform="translate(851.4 314.1) scale(1.409 1.061)">6</text><text transform="translate(864.7 314.1) scale(1.250 1.250)">.</text><text transform="translate(870.5 314.1) scale(1.493 0.742)">0</text><text transform="translate(884 314.1) scale(1.493 0.742)">2</text></g>
<g font-family="'Liberation Serif', serif" font-weight="bold" font-size="25.5" stroke="#000" stroke-width="0.85"><text transform="translate(924.1 270.6) scale(0.959 1.061)">7</text><text transform="translate(936.4 265) scale(1.016 0.742)">2</text><text transform="translate(949.5 270.6) scale(0.959 1.061)">3</text><text transform="translate(960.8 265) scale(1.250 1.250)">.</text><text transform="translate(967.8 270.6) scale(0.959 1.061)">7</text><text transform="translate(980.5 270.6) scale(0.959 1.061)">4</text></g>
<g font-family="'Liberation Serif', serif" font-weight="bold" font-size="18.5" stroke="#000" stroke-width="0.85"><text transform="translate(1039.7 318.2) scale(1.279 1.061)">7</text><text transform="translate(1051.7 314.1) scale(1.356 0.742)">1</text><text transform="translate(1064.4 314.1) scale(1.279 1.061)">8</text><text transform="translate(1076.2 314.1) scale(1.250 1.250)">.</text><text transform="translate(1082 318.2) scale(1.279 1.061)">7</text><text transform="translate(1094.3 318.2) scale(1.279 1.061)">5</text></g>
<g font-family="'Liberation Serif', serif" font-weight="bold" font-size="20.3" stroke="#000" stroke-width="0.85"><text transform="translate(1186.7 305.5) scale(1.156 1.061)">7</text><text transform="translate(1198.6 301) scale(1.225 0.742)">1</text><text transform="translate(1210.9 301) scale(1.225 0.742)">1</text><text transform="translate(1222.7 301) scale(1.250 1.250)">.</text><text transform="translate(1228.8 301) scale(1.156 1.061)">6</text><text transform="translate(1241 305.5) scale(1.156 1.061)">9</text></g>
<g font-family="'Liberation Serif', serif" font-weight="bold" font-size="24.6" stroke="#000" stroke-width="0.85"><text transform="translate(1296.6 279.8) scale(1.020 1.061)">7</text><text transform="translate(1309.3 274.4) scale(1.082 0.742)">1</text><text transform="translate(1322.4 274.4) scale(1.082 0.742)">0</text><text transform="translate(1334.6 274.4) scale(1.250 1.250)">.</text><text transform="translate(1341.2 274.4) scale(1.082 0.742)">0</text><text transform="translate(1354.7 279.8) scale(1.020 1.061)">4</text></g>
<g font-family="'Liberation Serif', serif" font-weight="bold" font-size="19.8" stroke="#000" stroke-width="0.85"><text transform="translate(843.6 515.8) scale(1.275 1.061)">7</text><text transform="translate(856.3 511.4) scale(1.351 0.742)">2</text><text transform="translate(869.8 515.8) scale(1.275 1.061)">5</text><text transform="translate(882.5 511.4) scale(1.250 1.250)">.</text><text transform="translate(888.7 511.4) scale(1.275 1.061)">8</text><text transform="translate(901.8 515.8) scale(1.275 1.061)">5</text></g>
<g font-family="'Liberation Serif', serif" font-weight="bold" font-size="23.9" stroke="#000" stroke-width="0.85"><text transform="translate(940 487.4) scale(1.104 1.061)">7</text><text transform="translate(953.3 482.1) scale(1.170 0.742)">2</text><text transform="translate(967.5 487.4) scale(1.104 1.061)">3</text><text transform="translate(980.2 482.1) scale(1.250 1.250)">.</text><text transform="translate(986.9 482.1) scale(1.170 0.742)">2</text><text transform="translate(1000.6 482.1) scale(1.170 0.742)">0</text></g>
<g font-family="'Liberation Serif', serif" font-weight="bold" font-size="23.9" stroke="#000" stroke-width="0.85"><text transform="translate(1082.9 521.4) scale(1.024 1.061)">7</text><text transform="translate(1095.3 516.1) scale(1.085 0.742)">1</text><text transform="translate(1108.4 521.4) scale(1.024 1.061)">7</text><text transform="translate(1119.9 516.1) scale(1.250 1.250)">.</text><text transform="translate(1126.7 521.4) scale(1.024 1.061)">9</text><text transform="translate(1139.5 521.4) scale(1.024 1.061)">3</text></g>
<g font-family="'Liberation Serif', serif" font-weight="bold" font-size="24.6" stroke="#000" stroke-width="0.85"><text transform="translate(1236.9 528.9) scale(0.904 1.061)">7</text><text transform="translate(1248.2 523.5) scale(0.959 0.742)">1</text><text transform="translate(1259.8 523.5) scale(0.959 0.742)">1</text><text transform="translate(1270.2 523.5) scale(1.250 1.250)">.</text><text transform="translate(1276.8 528.9) scale(0.904 1.061)">3</text><text transform="translate(1288.1 523.5) scale(0.959 0.742)">1</text></g>
<g font-family="'Liberation Serif', serif" font-weight="bold" font-size="23" stroke="#000" stroke-width="0.85"><text transform="translate(1304.8 498.5) scale(1.131 1.061)">7</text><text transform="translate(1317.9 493.4) scale(1.199 0.742)">0</text><text transform="translate(1331.8 498.5) scale(1.131 1.061)">9</text><text transform="translate(1344.4 493.4) scale(1.250 1.250)">.</text><text transform="translate(1351.2 498.5) scale(1.131 1.061)">5</text><text transform="translate(1364.4 493.4) scale(1.199 0.742)">0</text></g>
<line x1="906.8" y1="97.3" x2="906.8" y2="128" stroke="#000" stroke-width="4.2" stroke-dasharray="4.5 2.5"/>
<path d="M900 128L913.6 128L906.8 155.2Z" fill="#000"/>
<line x1="989" y1="50.8" x2="989" y2="86" stroke="#000" stroke-width="4.2" stroke-dasharray="4.5 2.5"/>
<path d="M982.2 86L995.8 86L989 112Z" fill="#000"/>
<line x1="1115.5" y1="122" x2="1115.5" y2="150.6" stroke="#000" stroke-width="4.2" stroke-dasharray="4.5 2.5"/>
<path d="M1108.7 150.6L1122.3 150.6L1115.5 180Z" fill="#000"/>
<line x1="1292" y1="98.7" x2="1292" y2="143" stroke="#000" stroke-width="4.2" stroke-dasharray="4.5 2.5"/>
<path d="M1285.2 143L1298.8 143L1292 171Z" fill="#000"/>
<line x1="1345.3" y1="56.7" x2="1345.3" y2="94" stroke="#000" stroke-width="4.2" stroke-dasharray="4.5 2.5"/>
<path d="M1338.5 94L1352.1 94L1345.3 126.7Z" fill="#000"/>
<line x1="901" y1="325" x2="901" y2="349" stroke="#000" stroke-width="4.2" stroke-dasharray="4.5 2.5"/>
<path d="M894.2 349L907.8 349L901 373.8Z" fill="#000"/>
<line x1="957.2" y1="282" x2="957.2" y2="317" stroke="#000" stroke-width="4.2" stroke-dasharray="4.5 2.5"/>
<path d="M950.4 317L964 317L957.2 343Z" fill="#000"/>
<line x1="1086" y1="329.6" x2="1086" y2="362.5" stroke="#000" stroke-width="4.2" stroke-dasharray="4.5 2.5"/>
<path d="M1079.2 362.5L1092.8 362.5L1086 389.7Z" fill="#000"/>
<line x1="1278" y1="310" x2="1278" y2="346.4" stroke="#000" stroke-width="4.2" stroke-dasharray="4.5 2.5"/>
<path d="M1271.2 346.4L1284.8 346.4L1278 378Z" fill="#000"/>
<line x1="1325" y1="288" x2="1325" y2="327.7" stroke="#000" stroke-width="4.2" stroke-dasharray="4.5 2.5"/>
<path d="M1318.2 327.7L1331.8 327.7L1325 358Z" fill="#000"/>
<line x1="908" y1="520.3" x2="908" y2="562.3" stroke="#000" stroke-width="4.2" stroke-dasharray="4.5 2.5"/>
<path d="M901.2 562.3L914.8 562.3L908 588.4Z" fill="#000"/>
<line x1="970.3" y1="501" x2="970.3" y2="534" stroke="#000" stroke-width="4.2" stroke-dasharray="4.5 2.5"/>
<path d="M963.5 534L977.1 534L970.3 561Z" fill="#000"/>
<line x1="1114.3" y1="540.7" x2="1114.3" y2="577" stroke="#000" stroke-width="4.2" stroke-dasharray="4.5 2.5"/>
<path d="M1107.5 577L1121.1 577L1114.3 604Z" fill="#000"/>
<line x1="1283" y1="545" x2="1283" y2="574.4" stroke="#000" stroke-width="4.2" stroke-dasharray="4.5 2.5"/>
<path d="M1276.2 574.4L1289.8 574.4L1283 597.8Z" fill="#000"/>
<line x1="1336" y1="500.9" x2="1336" y2="532.4" stroke="#000" stroke-width="4.2" stroke-dasharray="4.5 2.5"/>
<path d="M1329.2 532.4L1342.8 532.4L1336 560.4Z" fill="#000"/>
</g>
<g id="pc">
<path d="M236 1113.3L238 1113.6 240 1113.9 242 1114.1 244 1114.3 246 1114.4 248 1114.3 250 1114.1 252 1113.8 254 1113.2 256 1112.4 258 1111.3 260 1110.1 262 1108.7 264 1107.1 266 1105.6 268 1104.2 270 1103 272 1102.2 274 1101.7 276 1101.8 278 1102.4 280 1103.4 282 1104.9 284 1106.7 286 1108.8 288 1110.9 290 1113.1 292 1115.2 294 1117.1 296 1118.9 298 1120.4 300 1121.7 302 1122.7 304 1123.6 306 1124.4 308 1125 310 1125.5 312 1126 314 1126.4 316 1126.8 316 1126.9 314 1126.5 312 1126.2 310 1125.9 308 1125.5 306 1125.2 304 1124.9 302 1124.5 300 1124.2 298 1123.8 296 1123.5 294 1123.2 292 1122.8 290 1122.5 288 1122.2 286 1121.9 284 1121.5 282 1121.2 280 1120.9 278 1120.6 276 1120.3 274 1120 272 1119.7 270 1119.4 268 1119 266 1118.7 264 1118.4 262 1118 260 1117.7 258 1117.4 256 1117 254 1116.6 252 1116.3 250 1115.9 248 1115.6 246 1115.2 244 1114.8 242 1114.5 240 1114.1 238 1113.7 236 1113.3Z" fill="#9a55f2" stroke="#9a55f2" stroke-width="1.5"/>
<path d="M58 1053C64.3 1055.3 83 1062 96 1067C109 1072 122.7 1078 136 1083C149.3 1088 162.7 1092.7 176 1097C189.3 1101.3 202.7 1105.7 216 1109C229.3 1112.3 242.7 1114.6 256 1117C269.3 1119.4 279.3 1120.7 296 1123.5C312.7 1126.3 340.3 1130.9 356 1134C371.7 1137.1 379.3 1138.7 390 1142C400.7 1145.3 410 1149.2 420 1154C430 1158.8 440 1165.3 450 1171C460 1176.7 468.3 1181.8 480 1188C491.7 1194.2 506.7 1203 520 1208C533.3 1213 546.7 1215.3 560 1218C573.3 1220.7 583.3 1222.5 600 1224C616.7 1225.5 640.8 1226.2 660 1227C679.2 1227.8 705.8 1228.7 715 1229" fill="none" stroke="#9c9a1e" stroke-width="2.6" stroke-linejoin="round" stroke-linecap="round"/>
<path d="M58 1051.4C64.3 1053.7 83 1060.4 96 1065.4C109 1070.4 122.7 1076.4 136 1081.4C149.3 1086.4 162.7 1091.1 176 1095.4C189.3 1099.7 202.7 1104.1 216 1107.4C229.3 1110.7 242.7 1113 256 1115.4C269.3 1117.8 279.3 1119.1 296 1121.9C312.7 1124.7 340.3 1129.3 356 1132.4C371.7 1135.5 384.3 1139.1 390 1140.4" fill="none" stroke="#9a55f2" stroke-width="1.6" stroke-linejoin="round" stroke-linecap="round"/>
<path d="M58 1052C64.3 1054.3 83 1061 96 1066C109 1071 122.7 1077 136 1082C149.3 1087 162.7 1091.7 176 1096C189.3 1100.3 202.7 1104.7 216 1108C229.3 1111.3 242.7 1113.6 256 1116C269.3 1118.4 279.3 1119.7 296 1122.5C312.7 1125.3 340.3 1129.9 356 1133C371.7 1136.1 379.3 1137.8 390 1141C400.7 1144.2 405 1144.5 420 1152C435 1159.5 463.3 1177 480 1186C496.7 1195 506.7 1201.2 520 1206C533.3 1210.8 550 1214 560 1215C570 1216 573.3 1213.3 580 1212C586.7 1210.7 594 1208.2 600 1207C606 1205.8 611 1204.8 616 1205C621 1205.2 624.3 1206.2 630 1208C635.7 1209.8 641.7 1213.3 650 1216C658.3 1218.7 669.2 1222 680 1224C690.8 1226 709.2 1227.3 715 1228" fill="none" stroke="#f09a1c" stroke-width="2.8" stroke-linejoin="round" stroke-linecap="round"/>
<path d="M440 1150C443.3 1145.8 455 1132.3 460 1125C465 1117.7 466.7 1111.8 470 1106C473.3 1100.2 476.7 1096.7 480 1090C483.3 1083.3 486.7 1073.3 490 1066C493.3 1058.7 497 1050.8 500 1046C503 1041.2 505.3 1038 508 1037C510.7 1036 513.3 1036.8 516 1040C518.7 1043.2 521.3 1049.3 524 1056C526.7 1062.7 529.3 1070.7 532 1080C534.7 1089.3 537 1100 540 1112C543 1124 546.7 1140.7 550 1152C553.3 1163.3 556.7 1172.3 560 1180C563.3 1187.7 566.7 1193.3 570 1198C573.3 1202.7 575 1204.7 580 1208C585 1211.3 593.3 1215.7 600 1218C606.7 1220.3 610 1220.7 620 1222C630 1223.3 644.2 1224.8 660 1226C675.8 1227.2 705.8 1228.5 715 1229" fill="none" stroke="#1414e0" stroke-width="2.8" stroke-linejoin="round" stroke-linecap="round"/>
<path d="M420 1154C426.7 1157.3 448.3 1168.3 460 1174C471.7 1179.7 481.7 1184.8 490 1188C498.3 1191.2 503.3 1192.7 510 1193C516.7 1193.3 524.3 1192.2 530 1190C535.7 1187.8 539.7 1184 544 1180C548.3 1176 552 1170.2 556 1166C560 1161.8 564.3 1157.2 568 1155C571.7 1152.8 574.7 1152.5 578 1153C581.3 1153.5 584.3 1154.5 588 1158C591.7 1161.5 596 1168.3 600 1174C604 1179.7 608 1186.3 612 1192C616 1197.7 619.3 1203.7 624 1208C628.7 1212.3 634 1215.3 640 1218C646 1220.7 647.5 1222.2 660 1224C672.5 1225.8 705.8 1228.2 715 1229" fill="none" stroke="#f01cf0" stroke-width="2.8" stroke-linejoin="round" stroke-linecap="round"/>
<path d="M232 1076C234.5 1078.7 242 1087 247 1092C252 1097 259.5 1103.7 262 1106" fill="none" stroke="#22dd22" stroke-width="2.8" stroke-linejoin="round" stroke-linecap="round"/>
<path d="M266 1108C268.5 1108.8 276 1111 281 1113C286 1115 293.5 1118.8 296 1120" fill="none" stroke="#1414e0" stroke-width="2.8" stroke-linejoin="round" stroke-linecap="round"/>
<path d="M236 1417.2L238 1417.5 240 1417.7 242 1417.9 244 1418.1 246 1418.3 248 1418.4 250 1418.4 252 1418.4 254 1418.3 256 1418 258 1417.7 260 1417.2 262 1416.6 264 1415.9 266 1415.2 268 1414.4 270 1413.6 272 1412.9 274 1412.3 276 1412 278 1411.8 280 1412 282 1412.4 284 1413.2 286 1414.1 288 1415.3 290 1416.6 292 1418 294 1419.4 296 1420.7 298 1422 300 1423.2 302 1424.3 304 1425.2 306 1426 308 1426.7 310 1427.3 312 1427.9 314 1428.3 316 1428.7 318 1429.1 320 1429.4 320 1429.5 318 1429.2 316 1428.9 314 1428.6 312 1428.4 310 1428.1 308 1427.8 306 1427.5 304 1427.2 302 1426.9 300 1426.6 298 1426.3 296 1426 294 1425.7 292 1425.4 290 1425.1 288 1424.8 286 1424.5 284 1424.2 282 1423.9 280 1423.6 278 1423.3 276 1423 274 1422.7 272 1422.4 270 1422.1 268 1421.8 266 1421.5 264 1421.2 262 1420.9 260 1420.6 258 1420.3 256 1420 254 1419.7 252 1419.4 250 1419.1 248 1418.9 246 1418.6 244 1418.3 242 1418.1 240 1417.8 238 1417.5 236 1417.2Z" fill="#9a55f2" stroke="#9a55f2" stroke-width="1.5"/>
<path d="M330 1432C335 1432.8 350 1435.3 360 1437C370 1438.7 380 1440.2 390 1442C400 1443.8 411.7 1448.3 420 1448C428.3 1447.7 433.3 1446 440 1440C446.7 1434 453.3 1422.7 460 1412C466.7 1401.3 474.7 1386 480 1376C485.3 1366 488.3 1357.7 492 1352C495.7 1346.3 498.7 1342.7 502 1342C505.3 1341.3 508.3 1344 512 1348C515.7 1352 520.3 1358.7 524 1366C527.7 1373.3 530.7 1382.3 534 1392C537.3 1401.7 540.7 1412.7 544 1424C547.3 1435.3 550.7 1449.7 554 1460C557.3 1470.3 560.3 1478.3 564 1486C567.7 1493.7 571.7 1500.3 576 1506C580.3 1511.7 584.3 1516 590 1520C595.7 1524 601.7 1527.3 610 1530C618.3 1532.7 628.3 1534.5 640 1536C651.7 1537.5 667.3 1538.2 680 1539C692.7 1539.8 710 1540.7 716 1541" fill="none" stroke="#1414e0" stroke-width="2.8" stroke-linejoin="round" stroke-linecap="round"/>
<path d="M490 1496C493.3 1497 503.3 1501.7 510 1502C516.7 1502.3 523.3 1501 530 1498C536.7 1495 543.7 1487.5 550 1484C556.3 1480.5 563 1477.8 568 1477C573 1476.2 576 1476.8 580 1479C584 1481.2 588 1485.2 592 1490C596 1494.8 600 1502.7 604 1508C608 1513.3 611.7 1518 616 1522C620.3 1526 624.3 1529.5 630 1532C635.7 1534.5 635.7 1535.5 650 1537C664.3 1538.5 705 1540.3 716 1541" fill="none" stroke="#f01cf0" stroke-width="2.8" stroke-linejoin="round" stroke-linecap="round"/>
<path d="M480 1492C485 1494 500 1501.2 510 1504C520 1506.8 530 1509.2 540 1509C550 1508.8 561.7 1505.3 570 1503C578.3 1500.7 583.3 1497 590 1495C596.7 1493 604.3 1491.3 610 1491C615.7 1490.7 619 1491.2 624 1493C629 1494.8 634 1498.2 640 1502C646 1505.8 653.3 1511.7 660 1516C666.7 1520.3 670.7 1524.2 680 1528C689.3 1531.8 710 1537.2 716 1539" fill="none" stroke="#f09a1c" stroke-width="2.8" stroke-linejoin="round" stroke-linecap="round"/>
<path d="M58 1362C64.3 1363.7 83 1367.7 96 1372C109 1376.3 122.7 1382.7 136 1388C149.3 1393.3 162.7 1399.7 176 1404C189.3 1408.3 202.7 1411.3 216 1414C229.3 1416.7 242.7 1418 256 1420C269.3 1422 282.7 1424 296 1426C309.3 1428 326 1430.3 336 1432C346 1433.7 348.7 1434.2 356 1436C363.3 1437.8 369.3 1439.3 380 1443C390.7 1446.7 406.7 1451.8 420 1458C433.3 1464.2 446.7 1473 460 1480C473.3 1487 486.7 1493.7 500 1500C513.3 1506.3 526.7 1513 540 1518C553.3 1523 566.7 1526.8 580 1530C593.3 1533.2 606.7 1535.3 620 1537C633.3 1538.7 644 1539.3 660 1540C676 1540.7 706.7 1540.8 716 1541" fill="none" stroke="#9c9a1e" stroke-width="3.2" stroke-linejoin="round" stroke-linecap="round"/>
<path d="M240 1384C242.7 1386.3 250.7 1393.7 256 1398C261.3 1402.3 269.3 1408 272 1410" fill="none" stroke="#22dd22" stroke-width="2.8" stroke-linejoin="round" stroke-linecap="round"/>
<path d="M272 1414C274.2 1414.7 280.7 1416.5 285 1418C289.3 1419.5 295.8 1422.2 298 1423" fill="none" stroke="#1414e0" stroke-width="2.8" stroke-linejoin="round" stroke-linecap="round"/>
<path d="M59.5 1048.7 60.9 1031.4 61.5 1033.2 62.8 1039 63.8 1034.1 65.2 1041.2 66.1 1039.9 67 1041.8 68.3 1038 69.2 1056.4 70.2 1037.1 71.3 1041.9 72.6 1038.3 73.5 1041.6 75.1 1034.9 76.2 1065.9 76.8 1045.4 78.2 1055.3 79.2 1044.9 80.3 1035.7 81.2 1043.7 82.9 1042.3 83.6 1037 85.1 1050.4 85.8 1063.4 86.8 1051.5 87.9 1058.8 89 1061.2 90.5 1031.1 91.6 1066.8 92.7 1037.6 93.4 1066.4 94.6 1052.8 95.8 1056.2 97 1070 98.1 1060.2 99.3 1035.2 100.4 1033.2 101.3 1039.2 102.5 1059.5 103.7 1053.4 104.4 1058.2 106 1053.8 106.8 1060.2 108 1039.2 109.1 1030.8 110.2 1042.1 110.9 1055.4 112 1037.9 113.3 1024.1 114.2 1041.5 115.8 1052 116.7 1049.1 117.6 1041.5 118.8 1038.9 119.8 1022.2 121.3 1041.7 122.1 1057.3 123.5 1034.9 124.5 1052.9 125.5 1025.7 126.6 1032.8 128 1030.7 128.9 1034.4 129.8 1015.7 130.9 1042.7 132.3 1027.7 133.3 1008.2 134.4 1034.2 135.2 1029.1 136.5 1013.5 137.3 1024.2 138.7 1030.8 139.5 1029 141 1026 141.8 1016.4 142.8 1023.5 144 1029.8 145.2 1035.1 146.4 1022 147.3 1022.4 148.7 1021.9 149.8 1010.9 150.6 996.4 151.8 1005.4 153.3 1006.9 154.1 1009.3 155.4 1005.7 156.4 997.8 157.5 998 158.7 999.2 159.3 992.6 160.7 991.5 162 982.2 162.9 993.5 163.7 996.9 165.4 988.8 166.3 991.6 167.2 994.3 168.2 983.1 169.2 986.7 170.9 983.7 171.9 995.7 172.5 981.4 173.7 991.5 175.1 972.8 175.9 1004.9 177.2 995.8 178.2 983.9 179.4 990.9 180.6 1006.7 181.5 992.9 182.6 979.2 183.6 992.7 185.2 989.4 185.9 998.6 186.8 996.5 188.2 981.6 189.4 999.1 190.6 1005.9 191.4 1010.1 192.8 1003.7 193.8 1016.6 195.1 1015 195.8 1010.8 196.8 1018.1 197.8 984.8 199.2 1019.1 200.4 1022.3 201.3 1011.6 202.7 1020.9 203.4 1009.7 204.9 1016.2 206.1 1017.9 206.8 1011.2 207.7 1020 209.1 1008.3 210.3 1024.7 211.6 1041.1 212.6 1044.3 213.5 1030.9 214.7 1046.6 215.5 1039.6 216.9 1028.1 218.1 1035.8 219 1042.3 220 1044.4 220.9 1051.1 222.2 1042.8 223.3 1047.2 224.8 1061 225.4 1055.6 226.4 1059.3 227.7 1058 228.9 1065.7 229.8 1067.7 231.2 1058 232.1 1074.2 233.1 1062.1 234.2 1071.8 235.7 1069 236.3 1077.2 237.8 1076.5 238.8 1080 239.8 1078.1 241.2 1078 242.2 1081.6 243.4 1081.4 244.2 1075.2 245.6 1070.4 246.5 1088.2 247.7 1094.6 248.9 1077.8 249.7 1090.1 251 1081.9 252.2 1088.9 252.8 1094.2 254.5 1091 255.1 1086.6 256.6 1072.7 257.3 1087.6 258.9 1089.5 259.7 1098.7 260.5 1084.1 261.8 1089.3 263.1 1091.8 264.2 1099.6 265.1 1080.6 266.6 1096.9 267.3 1090.2 268.3 1085.5 269.8 1079.8 271 1083.4 271.9 1097.7 272.7 1087.5 273.9 1084.1 275.2 1089.1 275.9 1102.4 277.1 1100.4 278.4 1099.9 279.3 1101.5 280.8 1100.9 281.9 1092.5 282.9 1087.4 283.8 1106.1 285.2 1097.3 286.3 1100 287.2 1095.9 288.1 1104.3 289.1 1111.2 290.5 1099.4 291.3 1104.7 292.7 1105.4 293.5 1110.4 295.1 1107.1 296.2 1108.5 297.3 1104.1 298.4 1110.4 299.4 1104.9 300.6 1117.3 301.3 1111.5 302.7 1125.6 303.8 1108.9 304.8 1106.6 305.9 1122.5 307.1 1121.2 307.8 1105.5 309 1136.3 310.2 1116.7 311.6 1126.6 312.5 1115.6 313.5 1124.2 314.6 1127.5 315.7 1115.9 317.2 1123 317.7 1126.9 319 1135.8 320.4 1128.7 321.5 1132 322.1 1126.4 323.4 1127.6 324.3 1127 325.6 1121.7 326.7 1108.3 327.7 1109.8 329.3 1126.9 329.8 1128 331 1125.3 332.4 1120.4 333.4 1121.2 334.6 1115.1 335.3 1134.3 336.6 1112.1 337.8 1138.1 338.6 1122.9 339.9 1145.1 341.1 1130.6 342.2 1124.6 343.3 1128.4 344.2 1123.5 345.5 1138.7 346.8 1127.8 347.5 1129.9 348.8 1120.9 349.8 1132.7 350.8 1116.1 352.4 1123.3 353.1 1138.1 354 1111.8 355.2 1131.7 356.2 1138.2 357.4 1130.9 358.6 1140.9 359.7 1139.6 361 1134.5 362.1 1117.7 362.9 1127.4 364 1128.8 365.1 1139.1 366.3 1131.4 367.3 1129.9 368.4 1121.7 370 1131.2 370.5 1134.7 372.1 1112.7 373 1133 374.1 1136.6 375.4 1131.8 376.3 1133 377.6 1129.8 378.3 1141.3 379.7 1130.4 380.4 1143.9 381.7 1138.3 382.7 1119.7 384.2 1133.6 385.3 1138.6 386.4 1142.9 387.3 1137.9 388.3 1136 389.5 1143.4 390.7 1149.2 391.9 1122.8 392.7 1132.9 394.2 1150.8 395 1140.9 396.2 1130.8 396.9 1151.6 398.1 1153.8 399.5 1138 400.7 1145.8 401.5 1140.6 402.7 1143.6 403.6 1148.2 404.6 1139.2 406.1 1141.2 407.1 1139.6 408.3 1128 409 1146.1 410.3 1149.2 411.6 1144.7 412.9 1144.1 413.5 1149.9 415 1138.4 416.1 1135.6 416.7 1148 418.2 1146.1 419.5 1157.7 420.3 1133.2 421.3 1144.8 422.6 1135 423.5 1160.7 424.7 1141.9 425.9 1151.1 426.8 1126.7 427.8 1137.3 429 1151 430 1141.9 431.5 1140.1 432.3 1150.2 433.2 1146.1 434.7 1146 435.9 1146.9 437 1140.7 438 1155.7 438.9 1151.9 439.9 1143.2 441.3 1141 442.2 1128.3 443.1 1134.1 444.2 1152.8 445.6 1132.7 446.8 1138.4 447.7 1153.3 449.2 1147.8 449.7 1142.2 451.1 1141.2 452 1134.5 453.4 1136.8 454.2 1134.9 455.3 1142.5 456.6 1136.6 457.9 1122.9 458.5 1138.2 459.8 1132 461.1 1130.4 462 1129.3 462.9 1125.3 464.3 1119.8 465.4 1122 466.2 1119.4 467.6 1110.2 468.7 1108.1 469.7 1107.8 470.9 1106.1 472.3 1100.8 472.8 1093.1 474.4 1101.5 475.6 1090.6 476.7 1085.8 477.3 1085.9 478.3 1088 479.9 1083 480.8 1070.6 482 1071.5 483 1068.9 484.1 1070.1 485.3 1071.5 486.3 1065.1 487.6 1073.4 488.6 1066.7 489.4 1067.3 491 1060.6 491.6 1050.2 493.1 1054.9 493.7 1044.3 495 1043.9 495.9 1048 497.5 1044.2 498.3 1045.3 499.4 1039.6 500.4 1044.1 501.7 1041.4 502.9 1038.2 504 1032.3 505.2 1032.1 505.8 1039 507.2 1045.9 508.1 1031.4 509.3 1034.1 510.5 1029 511.4 1021.2 512.9 1036 513.8 1034.4 514.6 1036.9 515.8 1031.6 516.9 1031.3 518 1042.4 519.4 1033 520.6 1041.9 521.7 1044.4 522.5 1041.6 523.6 1040.6 524.8 1046.6 526.2 1039.6 526.9 1048.3 528.4 1050.9 529.2 1047.4 530.5 1055.9 531.7 1063.6 532.3 1070.9 533.5 1058.9 534.6 1068.8 535.9 1072.1 537 1071.7 538 1072.7 538.8 1079.4 539.9 1083.1 541.3 1072 542.5 1095.8 543.6 1087 544.5 1090.6 545.4 1087.2 546.7 1102.4 547.8 1085.8 548.7 1094.2 550 1101.1 551.5 1095.4 552.5 1102.3 553.1 1108.5 554.2 1114.5 555.3 1106.8 556.8 1106.5 558 1114.8 558.9 1113.6 559.7 1105.7 560.9 1121 561.9 1114.1 563.5 1111 564.6 1125.6 565.2 1123.6 566.7 1115 567.5 1126.4 568.7 1117.6 569.7 1119.4 571 1117.1 571.9 1131.4 573 1125.5 574.2 1131.5 575.1 1118 576.7 1126 577.9 1117.1 578.8 1125.8 579.5 1128.3 580.8 1130.9 582 1121.2 582.9 1141 584.4 1122.2 585.1 1143.6 586.6 1135.7 587.3 1144.4 588.4 1130.2 589.9 1140.3 590.9 1144.4 591.8 1155.9 592.9 1145.3 594.3 1155.7 595.1 1147.3 596.3 1155.6 597.7 1147.8 598.4 1149.3 599.3 1156 600.6 1141.6 601.8 1140.2 603.2 1155.6 604.3 1169.9 604.8 1166.1 606 1158.4 607.5 1163.8 608.5 1162.5 609.4 1164.9 610.7 1173.7 611.7 1156.9 612.7 1158.1 614 1154.5 615.1 1164.7 616.4 1180.3 617.4 1174.7 618.5 1166.9 619.5 1173.6 620.3 1176 621.4 1187.9 622.8 1186.1 624 1187 624.9 1193.6 625.7 1190 627.1 1195.4 628.1 1183.1 629.5 1183.5 630.6 1189.2 631.5 1206.6 632.6 1185.3 634 1196.7 634.6 1199.5 635.8 1189.9 637 1188.8 638.2 1213.3 639.5 1199.7 640.4 1198.7 641.6 1204.9 642.5 1203.9 643.7 1193 645 1191.6 645.8 1204.3 646.7 1200.3 647.7 1206.6 649.2 1198.9 650.1 1226 651.1 1212.6 652.2 1223.7 653.8 1207.7 654.6 1211.3 655.8 1209.1 657.1 1214.1 657.6 1216.9 658.8 1210.8 659.9 1207 661.2 1210.4 662.1 1214.6 663.5 1222.1 664.2 1204.6 665.8 1211.3 666.4 1220.2 667.6 1226.9 669 1215 669.8 1220.7 671.3 1217.8 672.2 1217.6 673.1 1220.9 674.7 1216.2 675.3 1218.7 676.9 1218.7 677.6 1231.8 678.7 1221.6 679.6 1233 681.3 1221.5 682.2 1223.7 683.2 1216.3 684.4 1224.4 685.3 1232.7 686.3 1234.2 687.5 1215.3 688.5 1240.4 689.8 1226.3 690.9 1227.9 691.8 1231.2 693.1 1225.1 694.1 1218.2 695.1 1225.5 696.7 1222.6 697.8 1238.4 698.6 1226 699.7 1208.3 700.6 1235 702 1230.3 703.1 1226.1 704 1211.9 705.3 1248.7 706.6 1224.4 707.3 1224.5 708.8 1222.9 709.4 1228.6 710.6 1227 711.8 1230 712.6 1231.2 714 1228.4" fill="none" stroke="none" marker-start="url(#m3)" marker-mid="url(#m3)" marker-end="url(#m3)"/>
<path d="M59.1 1348.4 60.3 1341.8 61.4 1347.7 62.8 1359.6 63.8 1355.2 64.7 1359.5 66 1349.1 66.9 1366.5 67.8 1350.2 69 1352.3 70.5 1358 71.4 1351.8 72.5 1356.7 73.4 1365.3 74.6 1359.2 75.9 1353 76.6 1364 77.6 1352 79.4 1353.2 80.3 1358.3 81.4 1358.8 82.4 1341.1 83.7 1358.8 84.7 1352.7 85.4 1346.8 86.7 1346.8 87.7 1347.3 88.7 1343.7 90.3 1361.2 91.1 1364.2 92.2 1354.5 93 1355.4 94.6 1355.6 95.8 1363 96.5 1358.3 98 1366.7 98.6 1358.8 99.7 1364.8 100.8 1344 101.9 1347.9 103.5 1355.7 104.4 1352.9 105.6 1347.8 106.7 1345.2 107.4 1341.9 108.6 1352.6 109.9 1349.1 110.7 1356.2 111.7 1346.6 113.3 1350.1 113.9 1352.9 115.1 1353.8 116.6 1343.9 117.8 1346.8 118.7 1357.6 119.9 1328.1 121 1346.6 122.2 1345.6 123 1340.8 124.2 1328.3 125.4 1340.2 126.1 1334.8 127.4 1335.1 128.8 1331.2 129.8 1328 130.6 1335.1 132.1 1323.9 132.6 1338.4 133.7 1333 135 1327.2 136.2 1330.1 137 1334.4 138.7 1325.1 139.2 1332.4 140.4 1342.5 142 1325.8 142.8 1326.9 143.8 1318.9 144.8 1322.2 146.4 1314.9 147 1329.5 148.2 1312.9 149.7 1320.2 150.6 1310.6 151.9 1314.5 152.8 1305.9 154 1303.8 155.1 1319.1 156.2 1316.3 156.8 1310.5 158.4 1305.2 159.6 1305.8 160.3 1301.1 161.4 1308.8 162.3 1315.1 163.6 1301.3 165 1319.1 166.1 1307 166.8 1313.9 168 1307.9 168.9 1297.2 170 1295.6 171.5 1311.7 172.4 1310.1 173.7 1296.9 174.8 1314.4 175.7 1301.7 177 1321.1 178.3 1299.7 179 1308 179.9 1303 181.1 1297.5 182.5 1306.9 183.6 1297.4 184.8 1296.5 185.5 1302.7 186.7 1294 187.8 1295.1 189.1 1302.6 190.3 1307.3 191.5 1311.9 192.6 1315.3 193.5 1307.7 194.4 1319.1 195.7 1312.9 196.7 1310.9 198 1319.4 199 1322.1 200.3 1316.3 201.2 1314.3 202.1 1320.7 203.5 1319.8 204.5 1312.5 205.7 1322.6 206.3 1323.2 207.8 1326.5 208.6 1329.2 209.8 1335.6 211 1324.2 212 1332.4 213.3 1338 214.5 1319.3 215.6 1344.1 216.5 1339.6 217.7 1355.9 218.4 1346.2 219.7 1337.6 220.6 1345.6 221.9 1345.2 223.3 1352 224.3 1341.2 225.2 1354 226.6 1352.8 227.6 1354.6 228.9 1361.1 230 1361.1 230.7 1372.7 232 1365.4 232.9 1369.2 233.9 1362.4 235.5 1364.7 236.6 1379.5 237.3 1368.1 238.8 1366 239.8 1367.3 240.5 1371.6 242 1372.2 242.6 1375.2 243.7 1388.9 245.4 1382.5 246.3 1388.1 247 1397.5 248.7 1383 249.3 1383.8 250.8 1377.8 251.8 1396.1 252.8 1392.6 253.8 1379.3 255.2 1399.4 256.2 1398.3 257 1375 258.4 1385.6 259.6 1398.8 260.4 1387.3 261.4 1392.7 263 1398.6 263.8 1397.2 265.1 1392.1 266.2 1400.2 266.9 1404.4 268.1 1395 269.3 1413 270.6 1401.9 271.5 1401 272.8 1390.8 273.6 1392.7 275 1393.9 275.9 1405.1 276.8 1393.5 277.9 1408.1 278.9 1406.7 280.4 1397.8 281.6 1401.9 282.8 1411.9 283.5 1398.1 284.7 1389.6 285.7 1400.4 286.7 1406.7 288.3 1412.5 289.3 1410.8 290.5 1423.3 291.1 1415.7 292.1 1412.6 293.3 1418.5 294.3 1419.6 295.8 1415 296.8 1419.1 298.2 1419 299.3 1417.3 300.2 1416.5 301.3 1410 302.1 1416.7 303.6 1412.3 304.4 1422.7 305.5 1419.7 306.7 1412.1 307.7 1419.3 308.9 1418.7 310 1411.7 311.3 1417.4 312.3 1422.8 313.3 1430.9 314.3 1422.7 315.3 1426 316.5 1431 317.6 1429.8 318.9 1424.6 319.9 1427.4 321 1422.5 322.4 1421.6 323.1 1423.9 324.2 1424.9 325.1 1429.7 326.7 1428 327.6 1429.6 328.6 1413.6 329.5 1421.8 331.2 1423.6 331.8 1416.3 333.2 1409 334.1 1427 335.2 1436.4 336.2 1417.8 337.7 1425.6 338.9 1435.2 339.5 1424 341 1423.5 342.2 1417.5 343.2 1424.2 344.4 1430 345.1 1430.9 346 1423.6 347.2 1430.8 348.7 1417.3 349.8 1421.9 350.9 1427 351.6 1427 352.8 1431.2 354.1 1424.1 355.1 1411.7 356 1432.3 357 1437 358.5 1428.5 359.5 1424 360.5 1422.4 361.6 1426.2 363.1 1416.2 363.7 1426.3 364.9 1423 366.2 1415.2 367 1426.1 368 1428.3 369.5 1435.6 370.5 1425.7 371.5 1434.7 372.9 1422 373.7 1423 375.1 1428 376.3 1420.9 377.1 1426.8 378.2 1420.6 379.4 1420.4 380.4 1422.7 381.5 1430.1 382.8 1425.9 383.7 1422.9 384.9 1435.3 385.7 1426 386.8 1431 388.3 1428.9 389.2 1431.9 390 1427.1 391.6 1423.4 392.2 1429.7 393.4 1430.3 395 1431.7 395.8 1431.2 397 1431.1 398.3 1422.4 398.8 1434.5 400.5 1434.8 401.4 1429 402.4 1431.4 403.3 1430.9 404.7 1438.4 406 1421.2 406.9 1429.7 407.7 1435 409.2 1421.9 410.4 1428.4 411.2 1441.9 412.6 1424.6 413.6 1432.7 414.6 1428 415.6 1432.7 416.8 1428.9 417.8 1434.6 418.7 1424.8 419.7 1443.4 421.1 1436.5 422 1436.6 423.2 1432.4 424.7 1436.2 425.7 1434 426.4 1438.2 427.4 1433.2 429.1 1433.1 430.2 1442.6 430.8 1440.9 431.9 1444 433.2 1440 434.5 1424 435.4 1437.2 436.6 1438.7 437.9 1435.3 438.7 1439.2 440 1438.7 440.9 1434.2 442.3 1434.6 443.4 1431 444 1438.2 445.3 1421.8 446.7 1419.9 447.3 1433.2 448.8 1416.3 449.5 1428.1 450.7 1424.7 452.1 1429.2 452.9 1415.5 454.4 1413.1 455.4 1416.6 456.2 1415.1 457.6 1408.6 458.4 1406.3 459.7 1409.4 460.6 1411.4 461.7 1395.7 463.2 1406.5 463.8 1403.3 465 1396.4 466.4 1390.5 467.5 1389.6 468.5 1380.6 469.3 1388.9 470.4 1386.2 471.6 1383.3 472.6 1382.8 473.7 1373.2 475.1 1380.1 476.1 1373.7 477.4 1372 478.6 1370.6 479.2 1369.5 480.7 1368.8 481.7 1364.5 482.7 1362.4 483.7 1355.6 484.6 1355.3 486.3 1347.1 487 1354 488.2 1349.7 489.4 1349 490.4 1350.6 491.5 1345.1 492.5 1351.3 493.4 1338.9 494.9 1349.1 496.2 1346.5 496.9 1339.8 497.9 1342.2 498.9 1343.9 500.6 1336.3 501.7 1339.7 502.6 1342.3 503.7 1340.2 504.8 1336.6 506 1331.3 506.8 1341.5 508.3 1342.6 509.2 1346.8 510.5 1344.5 511.6 1336 512.2 1337.5 513.8 1337.2 514.9 1348.3 515.5 1345.6 517.1 1349.6 517.7 1347.4 518.7 1343.7 520.2 1355.4 521.1 1347.4 522.4 1348.3 523.4 1355.1 524.4 1363.7 525.3 1369.3 526.9 1368.6 527.9 1369.9 528.6 1372.9 530.2 1377.8 531 1380.8 532.5 1374.6 533.4 1377.3 534.6 1395.3 535.8 1378.5 536.9 1376 537.8 1385.6 539 1388.1 539.8 1387.9 541.3 1404.4 542.3 1402.5 543.4 1391.7 544.3 1413.8 545.3 1397.9 546.3 1403.2 547.8 1398.3 548.9 1398.8 549.9 1409.1 551.2 1416.5 551.8 1412 553.1 1409.8 554.2 1408.8 555.3 1419.2 556.3 1402 557.7 1411 558.7 1407 560 1412.5 560.6 1412.4 561.9 1409.9 562.9 1407.9 563.9 1418.5 565.2 1429.9 566.1 1420 567.5 1417.8 568.6 1413.8 569.8 1423.6 570.6 1423 571.6 1432.9 572.9 1420.2 573.7 1432 574.8 1417.9 576.5 1427.9 577.1 1430.3 578.3 1423.7 579.2 1415.8 580.9 1430.8 581.7 1432.6 582.9 1439.2 584.2 1439.9 584.7 1444.5 586.2 1429.4 587.3 1446.4 588.3 1440.8 589.3 1444.1 590.6 1427.2 591.8 1444.9 592.5 1443.4 594 1445.5 594.7 1461.1 596.1 1442.7 596.9 1445.6 598.1 1450.9 599.5 1452.9 600.1 1444 601.5 1445.1 602.6 1454.2 603.9 1447.4 605.1 1460.7 605.8 1454.5 607.1 1449.6 608.3 1464.9 609.5 1465.4 610.3 1467.3 611.3 1465.7 612.3 1469.6 613.7 1465.9 614.5 1457.4 615.7 1468.5 617 1470.8 618.3 1471.3 619.2 1477 620.1 1486.6 621.1 1482.9 622.2 1482.2 623.2 1484.4 624.9 1476 625.7 1495.3 627 1486.2 627.7 1493.8 629 1493.9 630.1 1495.2 630.9 1500.3 632.5 1492.3 633.5 1499.2 634.5 1493.9 635.3 1495.9 636.6 1482.9 637.8 1499.3 638.6 1499 640.2 1502.8 641 1495.5 642.3 1495.1 643.4 1505.5 644.2 1502.9 645.4 1508.3 646.3 1499.1 647.8 1496.7 649.1 1511 650.1 1510.8 650.8 1510.9 652.2 1513.1 653.5 1512.9 654.4 1511.6 655.7 1507.3 656.3 1515 657.5 1514 658.6 1512.9 659.5 1506.2 660.7 1513.6 661.7 1520.5 663.3 1522.5 664.4 1509.5 665.4 1525.4 666.5 1516.6 667.5 1527.2 668.4 1520.8 669.8 1515.8 671 1529.4 672.2 1514.3 673 1526.8 673.8 1525 675.3 1528.7 676.3 1530.1 677.2 1529 678.4 1534.7 679.7 1517.6 680.5 1533.3 681.7 1536.9 683 1520 683.8 1520.4 685.3 1526.8 686.2 1523.7 687.3 1537 688.5 1535.3 689.3 1527.6 690.4 1529.2 691.8 1543 693.1 1529.8 694 1529 695.2 1545.6 696.3 1542 697 1532.3 698.4 1539 699.5 1524.5 700.4 1541.5 701.5 1553.2 702.4 1533.6 703.8 1540.8 704.6 1536.2 706.3 1531 706.9 1536.6 708.5 1534.2 709.5 1528.7 710.4 1538.1 711.4 1540 712.8 1541.6 713.4 1540.8 715.1 1540.3" fill="none" stroke="none" marker-start="url(#m3)" marker-mid="url(#m3)" marker-end="url(#m3)"/>
<path d="M58 1051C61 1051.5 69.7 1053 76 1054C82.3 1055 91 1056.7 96 1057C101 1057.3 102.7 1056.8 106 1056C109.3 1055.2 112.7 1054 116 1052C119.3 1050 122.7 1047 126 1044C129.3 1041 132.7 1037.7 136 1034C139.3 1030.3 142.7 1026 146 1022C149.3 1018 152.7 1013.3 156 1010C159.3 1006.7 162.3 1003.8 166 1002C169.7 1000.2 174.3 999 178 999C181.7 999 185 1000.2 188 1002C191 1003.8 193 1006.3 196 1010C199 1013.7 202.7 1019 206 1024C209.3 1029 212.7 1034.3 216 1040C219.3 1045.7 222.7 1052.3 226 1058C229.3 1063.7 232.7 1069.3 236 1074C239.3 1078.7 242.7 1083.2 246 1086C249.3 1088.8 252.7 1089.8 256 1091C259.3 1092.2 262.7 1092.3 266 1093C269.3 1093.7 272.7 1093.7 276 1095C279.3 1096.3 282.7 1098.5 286 1101C289.3 1103.5 292.7 1107.2 296 1110C299.3 1112.8 302.7 1116 306 1118C309.3 1120 311 1120.3 316 1122C321 1123.7 329.3 1126.3 336 1128C342.7 1129.7 348.7 1130.3 356 1132C363.3 1133.7 372.7 1136.4 380 1138.2C387.3 1140 393.3 1141.3 400 1143C406.7 1144.7 413.3 1147.4 420 1148.1C426.7 1148.8 435 1148.1 440 1147.1C445 1146.1 446.7 1145.2 450 1142C453.3 1138.8 456.7 1134 460 1128C463.3 1122 466.7 1113.3 470 1106C473.3 1098.7 476.7 1091.7 480 1084C483.3 1076.3 486.7 1067.3 490 1060C493.3 1052.7 496.7 1044.5 500 1040C503.3 1035.5 506.7 1033.3 510 1033C513.3 1032.7 516.7 1034.2 520 1038C523.3 1041.8 526.7 1049 530 1056C533.3 1063 536.7 1072.7 540 1080C543.3 1087.3 546.7 1094.3 550 1100C553.3 1105.7 556.7 1110 560 1114C563.3 1118 566.7 1121 570 1124C573.3 1127 576.7 1129.3 580 1132C583.3 1134.7 586.7 1137 590 1140C593.3 1143 596.7 1146.3 600 1150C603.3 1153.7 606.7 1157.3 610 1162C613.3 1166.7 616.7 1173.3 620 1178C623.3 1182.7 626.7 1186.3 630 1190C633.3 1193.7 636.7 1197 640 1200C643.3 1203 646.7 1205.7 650 1208C653.3 1210.3 655 1211.7 660 1214C665 1216.3 673.3 1220 680 1222C686.7 1224 694.2 1224.9 700 1226C705.8 1227.1 712.5 1228.1 715 1228.5" fill="none" stroke="#ff0000" stroke-width="4.0" stroke-linejoin="round"/>
<path d="M58 1358C61 1358.3 69.7 1359.7 76 1360C82.3 1360.3 91 1360.3 96 1360C101 1359.7 102.7 1359.3 106 1358C109.3 1356.7 112.7 1354.3 116 1352C119.3 1349.7 122.7 1347 126 1344C129.3 1341 132.7 1337.3 136 1334C139.3 1330.7 142.7 1327.3 146 1324C149.3 1320.7 152.7 1316.7 156 1314C159.3 1311.3 162.3 1309.5 166 1308C169.7 1306.5 174.3 1305 178 1305C181.7 1305 185 1306.5 188 1308C191 1309.5 193 1311 196 1314C199 1317 202.7 1321.7 206 1326C209.3 1330.3 212.7 1335 216 1340C219.3 1345 222.7 1350.7 226 1356C229.3 1361.3 232.7 1367 236 1372C239.3 1377 242.7 1382.3 246 1386C249.3 1389.7 252.7 1392 256 1394C259.3 1396 262.7 1396.8 266 1398C269.3 1399.2 272.7 1399.7 276 1401C279.3 1402.3 282.7 1403.8 286 1406C289.3 1408.2 292.7 1411.7 296 1414C299.3 1416.3 302.7 1418.3 306 1420C309.3 1421.7 311 1423 316 1424C321 1425 329.3 1425.5 336 1426C342.7 1426.5 348.7 1426.7 356 1427C363.3 1427.3 372.7 1427.5 380 1428C387.3 1428.5 393.3 1429 400 1430C406.7 1431 415 1433.2 420 1434C425 1434.8 426.7 1434.8 430 1434.5C433.3 1434.2 436.7 1433.8 440 1432C443.3 1430.2 446.7 1428 450 1424C453.3 1420 456.7 1414.3 460 1408C463.3 1401.7 466.7 1393 470 1386C473.3 1379 476.7 1372.3 480 1366C483.3 1359.7 486.3 1352.7 490 1348C493.7 1343.3 498.3 1339 502 1338C505.7 1337 508.7 1338.7 512 1342C515.3 1345.3 518.7 1352 522 1358C525.3 1364 528.7 1371.7 532 1378C535.3 1384.3 538.7 1391 542 1396C545.3 1401 548.3 1404.7 552 1408C555.7 1411.3 560.3 1413.7 564 1416C567.7 1418.3 570.7 1419.3 574 1422C577.3 1424.7 580.3 1428 584 1432C587.7 1436 592 1441.3 596 1446C600 1450.7 604 1455 608 1460C612 1465 616.3 1471.3 620 1476C623.7 1480.7 626.7 1484 630 1488C633.3 1492 635 1495.3 640 1500C645 1504.7 653.3 1511.3 660 1516C666.7 1520.7 673.3 1524.8 680 1528C686.7 1531.2 694 1533.3 700 1535C706 1536.7 713.3 1537.5 716 1538" fill="none" stroke="#ff0000" stroke-width="4.0" stroke-linejoin="round"/>
<rect x="57.4" y="874" width="658.6" height="724" fill="none" stroke="#000" stroke-width="3.6"/>
<line x1="222.2" y1="1598" x2="222.2" y2="1606.5" stroke="#000" stroke-width="3.2"/>
<line x1="441.7" y1="1598" x2="441.7" y2="1606.5" stroke="#000" stroke-width="3.2"/>
<line x1="661.2" y1="1598" x2="661.2" y2="1606.5" stroke="#000" stroke-width="3.2"/>
<line x1="112.4" y1="1598" x2="112.4" y2="1602" stroke="#000" stroke-width="2.6"/>
<line x1="332" y1="1598" x2="332" y2="1602" stroke="#000" stroke-width="2.6"/>
<line x1="552.4" y1="1598" x2="552.4" y2="1602" stroke="#000" stroke-width="2.6"/>
<text x="194" y="1641.6" font-family="'Liberation Serif', serif" font-weight="bold" font-size="29.4" textLength="56.2" lengthAdjust="spacingAndGlyphs">1160</text>
<text x="413.7" y="1641.6" font-family="'Liberation Serif', serif" font-weight="bold" font-size="29.4" textLength="56" lengthAdjust="spacingAndGlyphs">1140</text>
<text x="634.5" y="1641.6" font-family="'Liberation Serif', serif" font-weight="bold" font-size="29.4" textLength="54.1" lengthAdjust="spacingAndGlyphs">1120</text>
<text x="243.2" y="1692.5" font-family="'Liberation Serif', serif" font-weight="bold" font-size="31.1" textLength="287.2" lengthAdjust="spacingAndGlyphs">Binding Energy (eV)</text>
<text transform="translate(34.7 1414.7) rotate(-90)" x="0" y="0" font-family="'Liberation Serif', serif" font-weight="bold" font-size="28.6" textLength="296.8" lengthAdjust="spacingAndGlyphs">Intensity (arb. unit)</text>
<text x="65.6" y="1537.5" font-family="'Liberation Sans', sans-serif" font-weight="bold" font-size="48" textLength="48.9" lengthAdjust="spacingAndGlyphs">(c)</text>
<text x="652.2" y="1168" font-family="'Liberation Sans', sans-serif" font-weight="bold" font-size="36.6" textLength="49.8" lengthAdjust="spacingAndGlyphs">(iii)</text>
<text x="661.2" y="1472.4" font-family="'Liberation Sans', sans-serif" font-weight="bold" font-size="35.3" textLength="40.8" lengthAdjust="spacingAndGlyphs">(ii)</text>
<g font-family="'Liberation Serif', serif" font-weight="bold" font-size="21.6" stroke="#000" stroke-width="0.85"><text transform="translate(137.5 916.1) scale(1.287 0.742)">1</text><text transform="translate(151.2 916.1) scale(1.287 0.742)">1</text><text transform="translate(165.2 916.1) scale(1.214 1.061)">6</text><text transform="translate(178.9 920.9) scale(1.214 1.061)">3</text><text transform="translate(191.9 916.1) scale(1.250 1.250)">.</text><text transform="translate(198.5 920.9) scale(1.214 1.061)">5</text><text transform="translate(212.2 920.9) scale(1.214 1.061)">4</text></g>
<g font-family="'Liberation Serif', serif" font-weight="bold" font-size="26.3" stroke="#000" stroke-width="0.85"><text transform="translate(248.4 995.6) scale(1.065 0.742)">1</text><text transform="translate(262.2 995.6) scale(1.065 0.742)">1</text><text transform="translate(276.3 1001.4) scale(1.005 1.061)">5</text><text transform="translate(290.1 1001.4) scale(1.005 1.061)">4</text><text transform="translate(302.5 995.6) scale(1.250 1.250)">.</text><text transform="translate(309.9 1001.4) scale(1.005 1.061)">9</text><text transform="translate(323.3 995.6) scale(1.065 0.742)">2</text></g>
<g font-family="'Liberation Serif', serif" font-weight="bold" font-size="19.7" stroke="#000" stroke-width="0.85"><text transform="translate(464.9 926.7) scale(1.376 0.742)">1</text><text transform="translate(478.2 926.7) scale(1.376 0.742)">1</text><text transform="translate(491.9 931) scale(1.298 1.061)">3</text><text transform="translate(505.2 931) scale(1.298 1.061)">3</text><text transform="translate(518 926.7) scale(1.250 1.250)">.</text><text transform="translate(524.3 926.7) scale(1.298 1.061)">8</text><text transform="translate(537.2 926.7) scale(1.376 0.742)">1</text></g>
<g font-family="'Liberation Serif', serif" font-weight="bold" font-size="18.5" stroke="#000" stroke-width="0.85"><text transform="translate(547.7 1037.9) scale(1.515 0.742)">1</text><text transform="translate(561.4 1037.9) scale(1.515 0.742)">1</text><text transform="translate(575.2 1037.9) scale(1.515 0.742)">2</text><text transform="translate(589.3 1042) scale(1.429 1.061)">7</text><text transform="translate(602.9 1037.9) scale(1.250 1.250)">.</text><text transform="translate(609.1 1037.9) scale(1.429 1.061)">6</text><text transform="translate(622.4 1037.9) scale(1.515 0.742)">0</text></g>
<g font-family="'Liberation Serif', serif" font-weight="bold" font-size="19.7" stroke="#000" stroke-width="0.85"><text transform="translate(603.3 1107) scale(1.440 0.742)">1</text><text transform="translate(617.2 1107) scale(1.440 0.742)">1</text><text transform="translate(631.1 1107) scale(1.440 0.742)">2</text><text transform="translate(645.4 1111.3) scale(1.359 1.061)">3</text><text transform="translate(659 1107) scale(1.250 1.250)">.</text><text transform="translate(665.4 1107) scale(1.359 1.061)">8</text><text transform="translate(679.4 1111.3) scale(1.359 1.061)">9</text></g>
<g font-family="'Liberation Serif', serif" font-weight="bold" font-size="21.6" stroke="#000" stroke-width="0.85"><text transform="translate(129.3 1232.6) scale(1.295 0.742)">1</text><text transform="translate(143 1232.6) scale(1.295 0.742)">1</text><text transform="translate(157.2 1232.6) scale(1.222 1.061)">6</text><text transform="translate(171 1237.4) scale(1.222 1.061)">3</text><text transform="translate(184.1 1232.6) scale(1.250 1.250)">.</text><text transform="translate(190.7 1237.4) scale(1.222 1.061)">5</text><text transform="translate(204.5 1232.6) scale(1.222 1.061)">6</text></g>
<g font-family="'Liberation Serif', serif" font-weight="bold" font-size="18.9" stroke="#000" stroke-width="0.85"><text transform="translate(245.9 1310.2) scale(1.485 0.742)">1</text><text transform="translate(259.7 1310.2) scale(1.485 0.742)">1</text><text transform="translate(273.9 1314.4) scale(1.401 1.061)">5</text><text transform="translate(287.7 1314.4) scale(1.401 1.061)">4</text><text transform="translate(301.2 1310.2) scale(1.250 1.250)">.</text><text transform="translate(307.5 1310.2) scale(1.401 1.061)">6</text><text transform="translate(321.3 1314.4) scale(1.401 1.061)">7</text></g>
<g font-family="'Liberation Serif', serif" font-weight="bold" font-size="25.4" stroke="#000" stroke-width="0.85"><text transform="translate(450.2 1253.4) scale(1.089 0.742)">1</text><text transform="translate(463.7 1253.4) scale(1.089 0.742)">1</text><text transform="translate(477.7 1259) scale(1.027 1.061)">3</text><text transform="translate(491.3 1259) scale(1.027 1.061)">4</text><text transform="translate(503.6 1253.4) scale(1.250 1.250)">.</text><text transform="translate(510.7 1259) scale(1.027 1.061)">3</text><text transform="translate(523.9 1253.4) scale(1.089 0.742)">2</text></g>
<g font-family="'Liberation Serif', serif" font-weight="bold" font-size="19.8" stroke="#000" stroke-width="0.85"><text transform="translate(543.2 1340.8) scale(1.432 0.742)">1</text><text transform="translate(557.1 1340.8) scale(1.432 0.742)">1</text><text transform="translate(571 1340.8) scale(1.432 0.742)">2</text><text transform="translate(585.3 1340.8) scale(1.351 1.061)">8</text><text transform="translate(598.9 1340.8) scale(1.250 1.250)">.</text><text transform="translate(604.9 1340.8) scale(1.432 0.742)">0</text><text transform="translate(619.3 1345.2) scale(1.351 1.061)">5</text></g>
<g font-family="'Liberation Serif', serif" font-weight="bold" font-size="25.5" stroke="#000" stroke-width="0.85"><text transform="translate(603.3 1386) scale(1.112 0.742)">1</text><text transform="translate(617.2 1386) scale(1.112 0.742)">1</text><text transform="translate(631.1 1386) scale(1.112 0.742)">2</text><text transform="translate(645.4 1391.6) scale(1.049 1.061)">4</text><text transform="translate(658.1 1386) scale(1.250 1.250)">.</text><text transform="translate(665.4 1391.6) scale(1.049 1.061)">4</text><text transform="translate(679.4 1391.6) scale(1.049 1.061)">4</text></g>
<line x1="178.9" y1="930.2" x2="178.9" y2="954.7" stroke="#000" stroke-width="4.5" stroke-dasharray="5 3"/>
<path d="M168.9 954.7L188.9 954.7L178.9 989.7Z" fill="#000"/>
<line x1="280" y1="1015.4" x2="280" y2="1048" stroke="#000" stroke-width="4.5" stroke-dasharray="5 3"/>
<path d="M270.7 1048L289.3 1048L280 1085.5Z" fill="#000"/>
<line x1="510.4" y1="952.6" x2="510.4" y2="1000.2" stroke="#000" stroke-width="4.5" stroke-dasharray="5 3"/>
<path d="M500.7 1000.2L520.1 1000.2L510.4 1036.5Z" fill="#000"/>
<line x1="576.2" y1="1050" x2="576.2" y2="1109" stroke="#000" stroke-width="4.5" stroke-dasharray="5 3"/>
<path d="M567 1109L585.4 1109L576.2 1150.7Z" fill="#000"/>
<line x1="620.4" y1="1116.7" x2="620.4" y2="1164.3" stroke="#000" stroke-width="4.5" stroke-dasharray="5 3"/>
<path d="M611.2 1164.3L629.6 1164.3L620.4 1209.7Z" fill="#000"/>
<line x1="178" y1="1253.7" x2="178" y2="1278.2" stroke="#000" stroke-width="4.5" stroke-dasharray="5 3"/>
<path d="M168 1278.2L188 1278.2L178 1324Z" fill="#000"/>
<line x1="277" y1="1329.6" x2="277" y2="1363.4" stroke="#000" stroke-width="4.5" stroke-dasharray="5 3"/>
<path d="M267 1363.4L287 1363.4L277 1400.8Z" fill="#000"/>
<line x1="498" y1="1267" x2="498" y2="1299.8" stroke="#000" stroke-width="4.5" stroke-dasharray="5 3"/>
<path d="M488 1299.8L508 1299.8L498 1336Z" fill="#000"/>
<line x1="571.6" y1="1371" x2="571.6" y2="1441" stroke="#000" stroke-width="4.5" stroke-dasharray="5 3"/>
<path d="M561.9 1441L581.3 1441L571.6 1484.3Z" fill="#000"/>
<line x1="623" y1="1414" x2="623" y2="1456" stroke="#000" stroke-width="4.5" stroke-dasharray="5 3"/>
<path d="M613.3 1456L632.7 1456L623 1495.7Z" fill="#000"/>
</g>
<defs>
<clipPath id="cliii"><path d="M813 1135.9L814 1135.9 815 1135.9 816 1135.9 817 1135.9 818 1135.9 819 1135.9 820 1135.9 821 1135.9 822 1135.9 823 1135.9 824 1135.9 825 1135.9 826 1135.9 827 1135.9 828 1135.9 829 1135.9 830 1135.9 831 1135.9 832 1135.9 833 1135.9 834 1135.8 835 1135.8 836 1135.8 837 1135.8 838 1135.8 839 1135.8 840 1135.8 841 1135.8 842 1135.8 843 1135.8 844 1135.8 845 1135.8 846 1135.8 847 1135.8 848 1135.8 849 1135.8 850 1135.7 851 1135.7 852 1135.7 853 1135.7 854 1135.7 855 1135.7 856 1135.7 857 1135.7 858 1135.7 859 1135.7 860 1135.6 861 1135.6 862 1135.6 863 1135.6 864 1135.6 865 1135.6 866 1135.6 867 1135.5 868 1135.5 869 1135.5 870 1135.5 871 1135.5 872 1135.5 873 1135.4 874 1135.4 875 1135.4 876 1135.4 877 1135.4 878 1135.3 879 1135.3 880 1135.3 881 1135.3 882 1135.2 883 1135.2 884 1135.2 885 1135.2 886 1135.1 887 1135.1 888 1135.1 889 1135 890 1135 891 1135 892 1134.9 893 1134.9 894 1134.9 895 1134.8 896 1134.8 897 1134.7 898 1134.7 899 1134.7 900 1134.6 901 1134.6 902 1134.5 903 1134.5 904 1134.4 905 1134.4 906 1134.3 907 1134.3 908 1134.2 909 1134.2 910 1134.1 911 1134.1 912 1134 913 1134 914 1133.9 915 1133.8 916 1133.8 917 1133.7 918 1133.7 919 1133.6 920 1133.5 921 1133.4 922 1133.4 923 1133.3 924 1133.2 925 1133.1 926 1133.1 927 1133 928 1132.9 929 1132.8 930 1132.7 931 1132.6 932 1132.5 933 1132.5 934 1132.4 935 1132.3 936 1132.2 937 1132.1 938 1132 939 1131.9 940 1131.7 941 1131.6 942 1131.5 943 1131.4 944 1131.3 945 1131.2 946 1131 947 1130.9 948 1130.8 949 1130.7 950 1130.5 951 1130.4 952 1130.3 953 1130.1 954 1130 955 1129.8 956 1129.7 957 1129.5 958 1129.4 959 1129.2 960 1129 961 1128.9 962 1128.7 963 1128.5 964 1128.4 965 1128.2 966 1128 967 1127.8 968 1127.6 969 1127.5 970 1127.3 971 1127.1 972 1126.9 973 1126.7 974 1126.5 975 1126.2 976 1126 977 1125.8 978 1125.6 979 1125.4 980 1125.1 981 1124.9 982 1124.7 983 1124.4 984 1124.2 985 1123.9 986 1123.7 987 1123.4 988 1123.2 989 1122.9 990 1122.6 991 1122.4 992 1122.1 993 1121.8 994 1121.5 995 1121.2 996 1120.9 997 1120.6 998 1120.3 999 1120 1000 1119.7 1001 1119.4 1002 1119.1 1003 1118.7 1004 1118.4 1005 1118.1 1006 1117.7 1007 1117.4 1008 1117.1 1009 1116.7 1010 1116.4 1011 1116 1012 1115.6 1013 1115.3 1014 1114.9 1015 1114.5 1016 1114.1 1017 1113.7 1018 1113.3 1019 1112.9 1020 1112.5 1021 1112.1 1022 1111.7 1023 1111.3 1024 1110.9 1025 1110.4 1026 1110 1027 1109.6 1028 1109.1 1029 1108.7 1030 1108.2 1031 1107.8 1032 1107.3 1033 1106.9 1034 1106.4 1035 1105.9 1036 1105.4 1037 1104.9 1038 1104.5 1039 1104 1040 1103.5 1041 1103 1042 1102.5 1043 1101.9 1044 1101.4 1045 1100.9 1046 1100.4 1047 1099.9 1048 1099.3 1049 1098.8 1050 1098.2 1051 1097.7 1052 1097.1 1053 1096.6 1054 1096 1055 1095.5 1056 1094.9 1057 1094.3 1058 1093.7 1059 1093.2 1060 1092.6 1061 1092 1062 1091.4 1063 1090.8 1064 1090.2 1065 1089.6 1066 1089 1067 1088.4 1068 1087.8 1069 1087.2 1070 1086.5 1071 1085.9 1072 1085.3 1073 1084.7 1074 1084 1075 1083.4 1076 1082.8 1077 1082.1 1078 1081.5 1079 1080.8 1080 1080.2 1081 1079.5 1082 1078.9 1083 1078.2 1084 1077.6 1085 1076.9 1086 1076.2 1087 1075.6 1088 1074.9 1089 1074.2 1090 1073.6 1091 1072.9 1092 1072.2 1093 1071.6 1094 1070.9 1095 1070.2 1096 1069.5 1097 1068.9 1098 1068.2 1099 1067.5 1100 1066.8 1101 1066.2 1102 1065.5 1103 1064.8 1104 1064.1 1105 1063.5 1106 1062.8 1107 1062.1 1108 1061.4 1109 1060.8 1110 1060.1 1111 1059.4 1112 1058.7 1113 1058.1 1114 1057.4 1115 1056.7 1116 1056.1 1117 1055.4 1118 1054.7 1119 1054.1 1120 1053.4 1121 1052.8 1122 1052.1 1123 1051.5 1124 1050.8 1125 1050.2 1126 1049.5 1127 1048.9 1128 1048.3 1129 1047.6 1130 1047 1131 1046.4 1132 1045.8 1133 1045.2 1134 1044.5 1135 1043.9 1136 1043.3 1137 1042.7 1138 1042.1 1139 1041.6 1140 1041 1141 1040.4 1142 1039.8 1143 1039.3 1144 1038.7 1145 1038.1 1146 1037.6 1147 1037 1148 1036.5 1149 1036 1150 1035.5 1151 1034.9 1152 1034.4 1153 1033.9 1154 1033.4 1155 1032.9 1156 1032.4 1157 1032 1158 1031.5 1159 1031 1160 1030.6 1161 1030.1 1162 1029.7 1163 1029.3 1164 1028.8 1165 1028.4 1166 1028 1167 1027.6 1168 1027.2 1169 1026.8 1170 1026.5 1171 1026.1 1172 1025.8 1173 1025.4 1174 1025.1 1175 1024.7 1176 1024.4 1177 1024.1 1178 1023.8 1179 1023.5 1180 1023.2 1181 1023 1182 1022.7 1183 1022.5 1184 1022.2 1185 1022 1186 1021.8 1187 1021.6 1188 1021.4 1189 1021.2 1190 1021 1191 1020.8 1192 1020.6 1193 1020.5 1194 1020.4 1195 1020.2 1196 1020.1 1197 1020 1198 1019.9 1199 1019.8 1200 1019.7 1201 1019.7 1202 1019.6 1203 1019.6 1204 1019.5 1205 1019.5 1206 1019.5 1207 1019.5 1208 1019.5 1209 1019.5 1210 1019.6 1211 1019.6 1212 1019.7 1213 1019.8 1214 1019.9 1215 1020 1216 1020.1 1217 1020.2 1218 1020.4 1219 1020.6 1220 1020.7 1221 1020.9 1222 1021.1 1223 1021.4 1224 1021.6 1225 1021.8 1226 1022.1 1227 1022.4 1228 1022.7 1229 1023 1230 1023.3 1231 1023.6 1232 1023.9 1233 1024.3 1234 1024.7 1235 1025 1236 1025.4 1237 1025.8 1238 1026.2 1239 1026.7 1240 1027.1 1241 1027.5 1242 1028 1243 1028.5 1244 1029 1245 1029.4 1246 1029.9 1247 1030.5 1248 1031 1249 1031.5 1250 1032.1 1251 1032.6 1252 1033.2 1253 1033.8 1254 1034.3 1255 1034.9 1256 1035.5 1257 1036.1 1258 1036.8 1259 1037.4 1260 1038 1261 1038.7 1262 1039.3 1263 1040 1264 1040.6 1265 1041.3 1266 1042 1267 1042.7 1268 1043.4 1269 1044.1 1270 1044.8 1271 1045.5 1272 1046.2 1273 1046.9 1274 1047.6 1275 1048.4 1276 1049.1 1277 1049.9 1278 1050.6 1279 1051.4 1280 1052.1 1281 1052.9 1282 1053.6 1283 1054.4 1284 1055.2 1285 1055.9 1286 1056.7 1287 1057.5 1288 1058.2 1289 1059 1290 1059.8 1291 1060.6 1292 1061.4 1293 1062.2 1294 1062.9 1295 1063.7 1296 1064.5 1297 1065.3 1298 1066.1 1299 1066.9 1300 1067.7 1301 1068.4 1302 1069.2 1303 1070 1304 1070.8 1305 1071.6 1306 1072.4 1307 1073.2 1308 1073.9 1309 1074.7 1310 1075.5 1311 1076.3 1312 1077 1313 1077.8 1314 1078.6 1315 1079.3 1316 1080.1 1317 1080.8 1318 1081.6 1319 1082.4 1320 1083.1 1321 1083.8 1322 1084.6 1323 1085.3 1324 1086.1 1325 1086.8 1326 1087.5 1327 1088.2 1328 1088.9 1329 1089.7 1330 1090.4 1331 1091.1 1332 1091.8 1333 1092.5 1334 1093.1 1335 1093.8 1336 1094.5 1337 1095.2 1338 1095.8 1339 1096.5 1340 1097.2 1341 1097.8 1342 1098.4 1343 1099.1 1344 1099.7 1345 1100.3 1346 1101 1347 1101.6 1348 1102.2 1349 1102.8 1350 1103.4 1351 1104 1352 1104.6 1353 1105.1 1354 1105.7 1355 1106.3 1356 1106.8 1357 1107.4 1358 1107.9 1359 1108.5 1360 1109 1361 1109.6 1362 1110.1 1363 1110.6 1364 1111.1 1365 1111.6 1366 1112.1 1367 1112.6 1368 1113.1 1369 1113.6 1370 1114 1371 1114.5 1372 1115 1373 1115.4 1374 1115.9 1375 1116.3 1376 1116.7 1377 1117.2 1378 1117.6 1379 1118 1380 1118.4 1381 1118.8 1382 1119.2 1383 1119.6 1384 1120 1385 1120.4 1386 1120.7 1387 1121.1 1388 1121.5 1389 1121.8 1390 1122.2 1391 1122.5 1392 1122.9 1393 1123.2 1394 1123.5 1395 1123.8 1396 1124.2 1397 1124.5 1398 1124.8 1399 1125.1 1400 1125.4 1401 1125.7 1402 1125.9 1403 1126.2 1404 1126.5 1405 1126.8 1406 1127 1407 1127.3 1408 1127.5 1409 1127.8 1410 1128 1411 1128.3 1412 1128.5 1413 1128.7 1414 1129 1415 1129.2 1416 1129.4 1417 1129.6 1418 1129.8 1419 1130 1420 1130.2 1421 1130.4 1422 1130.6 1423 1130.8 1424 1131 1425 1131.2 1426 1131.4 1427 1131.5 1428 1131.7 1429 1131.9 1430 1132 1431 1132.2 1432 1132.3 1433 1132.5 1434 1132.6 1435 1132.8 1436 1132.9 1437 1133.1 1438 1133.2 1439 1133.3 1440 1133.5 1441 1133.6 1442 1133.7 1443 1133.8 1444 1134 1445 1134.1 1446 1134.2 1447 1134.3 1448 1134.4 1449 1134.5 1450 1134.6 1451 1134.7 1452 1134.8 1453 1134.9 1454 1135 1455 1135.1 1456 1135.2 1457 1135.3 1458 1135.3 1459 1135.4 1460 1135.5 1461 1135.6 1462 1135.7 1463 1135.7 1464 1135.8 1465 1135.9 1466 1135.9 1467 1136 1468 1136.1 1469 1136.1 1470 1136.2 1471 1136.2 1471 1140.5 1470 1140.5 1469 1140.5 1468 1140.5 1467 1140.5 1466 1140.5 1465 1140.5 1464 1140.5 1463 1140.5 1462 1140.5 1461 1140.5 1460 1140.5 1459 1140.5 1458 1140.5 1457 1140.5 1456 1140.5 1455 1140.5 1454 1140.4 1453 1140.4 1452 1140.4 1451 1140.4 1450 1140.4 1449 1140.4 1448 1140.4 1447 1140.4 1446 1140.4 1445 1140.4 1444 1140.4 1443 1140.4 1442 1140.4 1441 1140.4 1440 1140.4 1439 1140.4 1438 1140.4 1437 1140.4 1436 1140.4 1435 1140.4 1434 1140.4 1433 1140.4 1432 1140.4 1431 1140.4 1430 1140.4 1429 1140.4 1428 1140.4 1427 1140.4 1426 1140.4 1425 1140.4 1424 1140.4 1423 1140.4 1422 1140.4 1421 1140.3 1420 1140.3 1419 1140.3 1418 1140.3 1417 1140.3 1416 1140.3 1415 1140.3 1414 1140.3 1413 1140.3 1412 1140.3 1411 1140.3 1410 1140.3 1409 1140.3 1408 1140.3 1407 1140.3 1406 1140.3 1405 1140.3 1404 1140.3 1403 1140.3 1402 1140.3 1401 1140.3 1400 1140.3 1399 1140.3 1398 1140.3 1397 1140.3 1396 1140.3 1395 1140.3 1394 1140.3 1393 1140.3 1392 1140.3 1391 1140.3 1390 1140.3 1389 1140.3 1388 1140.2 1387 1140.2 1386 1140.2 1385 1140.2 1384 1140.2 1383 1140.2 1382 1140.2 1381 1140.2 1380 1140.2 1379 1140.2 1378 1140.2 1377 1140.2 1376 1140.2 1375 1140.2 1374 1140.2 1373 1140.2 1372 1140.2 1371 1140.2 1370 1140.2 1369 1140.2 1368 1140.2 1367 1140.2 1366 1140.2 1365 1140.2 1364 1140.2 1363 1140.2 1362 1140.2 1361 1140.2 1360 1140.2 1359 1140.2 1358 1140.2 1357 1140.2 1356 1140.2 1355 1140.1 1354 1140.1 1353 1140.1 1352 1140.1 1351 1140.1 1350 1140.1 1349 1140.1 1348 1140.1 1347 1140.1 1346 1140.1 1345 1140.1 1344 1140.1 1343 1140.1 1342 1140.1 1341 1140.1 1340 1140.1 1339 1140.1 1338 1140.1 1337 1140.1 1336 1140.1 1335 1140.1 1334 1140.1 1333 1140.1 1332 1140.1 1331 1140.1 1330 1140.1 1329 1140.1 1328 1140.1 1327 1140.1 1326 1140.1 1325 1140.1 1324 1140.1 1323 1140.1 1322 1140 1321 1140 1320 1140 1319 1140 1318 1140 1317 1140 1316 1140 1315 1140 1314 1140 1313 1140 1312 1140 1311 1140 1310 1140 1309 1140 1308 1140 1307 1140 1306 1140 1305 1140 1304 1140 1303 1140 1302 1140 1301 1140 1300 1140 1299 1140 1298 1140 1297 1140 1296 1140 1295 1140 1294 1140 1293 1140 1292 1140 1291 1140 1290 1139.9 1289 1139.9 1288 1139.9 1287 1139.9 1286 1139.9 1285 1139.9 1284 1139.9 1283 1139.9 1282 1139.9 1281 1139.9 1280 1139.9 1279 1139.9 1278 1139.9 1277 1139.9 1276 1139.9 1275 1139.9 1274 1139.9 1273 1139.9 1272 1139.9 1271 1139.9 1270 1139.9 1269 1139.9 1268 1139.9 1267 1139.9 1266 1139.9 1265 1139.9 1264 1139.9 1263 1139.9 1262 1139.9 1261 1139.9 1260 1139.9 1259 1139.9 1258 1139.9 1257 1139.8 1256 1139.8 1255 1139.8 1254 1139.8 1253 1139.8 1252 1139.8 1251 1139.8 1250 1139.8 1249 1139.8 1248 1139.8 1247 1139.8 1246 1139.8 1245 1139.8 1244 1139.8 1243 1139.8 1242 1139.8 1241 1139.8 1240 1139.8 1239 1139.8 1238 1139.8 1237 1139.8 1236 1139.8 1235 1139.8 1234 1139.8 1233 1139.8 1232 1139.8 1231 1139.8 1230 1139.8 1229 1139.8 1228 1139.8 1227 1139.8 1226 1139.8 1225 1139.8 1224 1139.7 1223 1139.7 1222 1139.7 1221 1139.7 1220 1139.7 1219 1139.7 1218 1139.7 1217 1139.7 1216 1139.7 1215 1139.7 1214 1139.7 1213 1139.7 1212 1139.7 1211 1139.7 1210 1139.7 1209 1139.7 1208 1139.7 1207 1139.7 1206 1139.7 1205 1139.7 1204 1139.7 1203 1139.7 1202 1139.7 1201 1139.7 1200 1139.7 1199 1139.7 1198 1139.7 1197 1139.7 1196 1139.7 1195 1139.7 1194 1139.7 1193 1139.7 1192 1139.7 1191 1139.6 1190 1139.6 1189 1139.6 1188 1139.6 1187 1139.6 1186 1139.6 1185 1139.6 1184 1139.6 1183 1139.6 1182 1139.6 1181 1139.6 1180 1139.6 1179 1139.6 1178 1139.6 1177 1139.6 1176 1139.6 1175 1139.6 1174 1139.6 1173 1139.6 1172 1139.6 1171 1139.6 1170 1139.6 1169 1139.6 1168 1139.6 1167 1139.6 1166 1139.6 1165 1139.6 1164 1139.6 1163 1139.6 1162 1139.6 1161 1139.6 1160 1139.6 1159 1139.6 1158 1139.5 1157 1139.5 1156 1139.5 1155 1139.5 1154 1139.5 1153 1139.5 1152 1139.5 1151 1139.5 1150 1139.5 1149 1139.5 1148 1139.5 1147 1139.5 1146 1139.5 1145 1139.5 1144 1139.5 1143 1139.5 1142 1139.5 1141 1139.5 1140 1139.5 1139 1139.5 1138 1139.5 1137 1139.5 1136 1139.5 1135 1139.5 1134 1139.5 1133 1139.5 1132 1139.5 1131 1139.5 1130 1139.5 1129 1139.5 1128 1139.5 1127 1139.5 1126 1139.5 1125 1139.4 1124 1139.4 1123 1139.4 1122 1139.4 1121 1139.4 1120 1139.4 1119 1139.4 1118 1139.4 1117 1139.4 1116 1139.4 1115 1139.4 1114 1139.4 1113 1139.4 1112 1139.4 1111 1139.4 1110 1139.4 1109 1139.4 1108 1139.4 1107 1139.4 1106 1139.4 1105 1139.4 1104 1139.4 1103 1139.4 1102 1139.4 1101 1139.4 1100 1139.4 1099 1139.4 1098 1139.4 1097 1139.4 1096 1139.4 1095 1139.4 1094 1139.4 1093 1139.4 1092 1139.3 1091 1139.3 1090 1139.3 1089 1139.3 1088 1139.3 1087 1139.3 1086 1139.3 1085 1139.3 1084 1139.3 1083 1139.3 1082 1139.3 1081 1139.3 1080 1139.3 1079 1139.3 1078 1139.3 1077 1139.3 1076 1139.3 1075 1139.3 1074 1139.3 1073 1139.3 1072 1139.3 1071 1139.3 1070 1139.3 1069 1139.3 1068 1139.3 1067 1139.3 1066 1139.3 1065 1139.3 1064 1139.3 1063 1139.3 1062 1139.3 1061 1139.3 1060 1139.3 1059 1139.2 1058 1139.2 1057 1139.2 1056 1139.2 1055 1139.2 1054 1139.2 1053 1139.2 1052 1139.2 1051 1139.2 1050 1139.2 1049 1139.2 1048 1139.2 1047 1139.2 1046 1139.2 1045 1139.2 1044 1139.2 1043 1139.2 1042 1139.2 1041 1139.2 1040 1139.2 1039 1139.2 1038 1139.2 1037 1139.2 1036 1139.2 1035 1139.2 1034 1139.2 1033 1139.2 1032 1139.2 1031 1139.2 1030 1139.2 1029 1139.2 1028 1139.2 1027 1139.2 1026 1139.1 1025 1139.1 1024 1139.1 1023 1139.1 1022 1139.1 1021 1139.1 1020 1139.1 1019 1139.1 1018 1139.1 1017 1139.1 1016 1139.1 1015 1139.1 1014 1139.1 1013 1139.1 1012 1139.1 1011 1139.1 1010 1139.1 1009 1139.1 1008 1139.1 1007 1139.1 1006 1139.1 1005 1139.1 1004 1139.1 1003 1139.1 1002 1139.1 1001 1139.1 1000 1139.1 999 1139.1 998 1139.1 997 1139.1 996 1139.1 995 1139.1 994 1139.1 993 1139 992 1139 991 1139 990 1139 989 1139 988 1139 987 1139 986 1139 985 1139 984 1139 983 1139 982 1139 981 1139 980 1139 979 1139 978 1139 977 1139 976 1139 975 1139 974 1139 973 1139 972 1139 971 1139 970 1139 969 1139 968 1139 967 1139 966 1139 965 1139 964 1139 963 1139 962 1139 961 1138.9 960 1138.9 959 1138.9 958 1138.9 957 1138.9 956 1138.9 955 1138.9 954 1138.9 953 1138.9 952 1138.9 951 1138.9 950 1138.9 949 1138.9 948 1138.9 947 1138.9 946 1138.9 945 1138.9 944 1138.9 943 1138.9 942 1138.9 941 1138.9 940 1138.9 939 1138.9 938 1138.9 937 1138.9 936 1138.9 935 1138.9 934 1138.9 933 1138.9 932 1138.9 931 1138.9 930 1138.9 929 1138.9 928 1138.8 927 1138.8 926 1138.8 925 1138.8 924 1138.8 923 1138.8 922 1138.8 921 1138.8 920 1138.8 919 1138.8 918 1138.8 917 1138.8 916 1138.8 915 1138.8 914 1138.8 913 1138.8 912 1138.8 911 1138.8 910 1138.8 909 1138.8 908 1138.8 907 1138.8 906 1138.8 905 1138.8 904 1138.8 903 1138.8 902 1138.8 901 1138.8 900 1138.8 899 1138.8 898 1138.8 897 1138.8 896 1138.8 895 1138.7 894 1138.7 893 1138.7 892 1138.7 891 1138.7 890 1138.7 889 1138.7 888 1138.7 887 1138.7 886 1138.7 885 1138.7 884 1138.7 883 1138.7 882 1138.7 881 1138.7 880 1138.7 879 1138.7 878 1138.7 877 1138.7 876 1138.7 875 1138.7 874 1138.7 873 1138.7 872 1138.7 871 1138.7 870 1138.7 869 1138.7 868 1138.7 867 1138.7 866 1138.7 865 1138.7 864 1138.7 863 1138.7 862 1138.6 861 1138.6 860 1138.6 859 1138.6 858 1138.6 857 1138.6 856 1138.6 855 1138.6 854 1138.6 853 1138.6 852 1138.6 851 1138.6 850 1138.6 849 1138.6 848 1138.6 847 1138.6 846 1138.6 845 1138.6 844 1138.6 843 1138.6 842 1138.6 841 1138.6 840 1138.6 839 1138.6 838 1138.6 837 1138.6 836 1138.6 835 1138.6 834 1138.6 833 1138.6 832 1138.6 831 1138.6 830 1138.6 829 1138.5 828 1138.5 827 1138.5 826 1138.5 825 1138.5 824 1138.5 823 1138.5 822 1138.5 821 1138.5 820 1138.5 819 1138.5 818 1138.5 817 1138.5 816 1138.5 815 1138.5 814 1138.5 813 1138.5Z"/></clipPath>
<clipPath id="clii"><path d="M813 1348.5L814 1348.5 815 1348.5 816 1348.5 817 1348.5 818 1348.5 819 1348.5 820 1348.5 821 1348.5 822 1348.5 823 1348.5 824 1348.5 825 1348.5 826 1348.5 827 1348.4 828 1348.4 829 1348.4 830 1348.4 831 1348.4 832 1348.4 833 1348.4 834 1348.4 835 1348.4 836 1348.3 837 1348.3 838 1348.3 839 1348.3 840 1348.3 841 1348.3 842 1348.2 843 1348.2 844 1348.2 845 1348.2 846 1348.2 847 1348.1 848 1348.1 849 1348.1 850 1348.1 851 1348.1 852 1348 853 1348 854 1348 855 1347.9 856 1347.9 857 1347.9 858 1347.9 859 1347.8 860 1347.8 861 1347.8 862 1347.7 863 1347.7 864 1347.7 865 1347.6 866 1347.6 867 1347.5 868 1347.5 869 1347.5 870 1347.4 871 1347.4 872 1347.3 873 1347.3 874 1347.2 875 1347.2 876 1347.1 877 1347.1 878 1347 879 1347 880 1346.9 881 1346.8 882 1346.8 883 1346.7 884 1346.6 885 1346.6 886 1346.5 887 1346.4 888 1346.4 889 1346.3 890 1346.2 891 1346.1 892 1346.1 893 1346 894 1345.9 895 1345.8 896 1345.7 897 1345.6 898 1345.5 899 1345.5 900 1345.4 901 1345.3 902 1345.2 903 1345.1 904 1344.9 905 1344.8 906 1344.7 907 1344.6 908 1344.5 909 1344.4 910 1344.3 911 1344.1 912 1344 913 1343.9 914 1343.7 915 1343.6 916 1343.5 917 1343.3 918 1343.2 919 1343 920 1342.9 921 1342.7 922 1342.6 923 1342.4 924 1342.3 925 1342.1 926 1341.9 927 1341.8 928 1341.6 929 1341.4 930 1341.2 931 1341 932 1340.8 933 1340.6 934 1340.5 935 1340.2 936 1340 937 1339.8 938 1339.6 939 1339.4 940 1339.2 941 1339 942 1338.7 943 1338.5 944 1338.3 945 1338 946 1337.8 947 1337.5 948 1337.3 949 1337 950 1336.8 951 1336.5 952 1336.2 953 1336 954 1335.7 955 1335.4 956 1335.1 957 1334.8 958 1334.5 959 1334.2 960 1333.9 961 1333.6 962 1333.3 963 1333 964 1332.6 965 1332.3 966 1332 967 1331.6 968 1331.3 969 1330.9 970 1330.6 971 1330.2 972 1329.9 973 1329.5 974 1329.1 975 1328.8 976 1328.4 977 1328 978 1327.6 979 1327.2 980 1326.8 981 1326.4 982 1326 983 1325.6 984 1325.1 985 1324.7 986 1324.3 987 1323.8 988 1323.4 989 1323 990 1322.5 991 1322.1 992 1321.6 993 1321.1 994 1320.7 995 1320.2 996 1319.7 997 1319.2 998 1318.7 999 1318.2 1000 1317.7 1001 1317.2 1002 1316.7 1003 1316.2 1004 1315.7 1005 1315.2 1006 1314.7 1007 1314.1 1008 1313.6 1009 1313.1 1010 1312.5 1011 1312 1012 1311.4 1013 1310.9 1014 1310.3 1015 1309.7 1016 1309.2 1017 1308.6 1018 1308 1019 1307.5 1020 1306.9 1021 1306.3 1022 1305.7 1023 1305.1 1024 1304.5 1025 1303.9 1026 1303.3 1027 1302.7 1028 1302.1 1029 1301.5 1030 1300.9 1031 1300.3 1032 1299.7 1033 1299 1034 1298.4 1035 1297.8 1036 1297.2 1037 1296.5 1038 1295.9 1039 1295.3 1040 1294.6 1041 1294 1042 1293.4 1043 1292.7 1044 1292.1 1045 1291.5 1046 1290.8 1047 1290.2 1048 1289.5 1049 1288.9 1050 1288.3 1051 1287.6 1052 1287 1053 1286.3 1054 1285.7 1055 1285 1056 1284.4 1057 1283.8 1058 1283.1 1059 1282.5 1060 1281.8 1061 1281.2 1062 1280.6 1063 1279.9 1064 1279.3 1065 1278.7 1066 1278 1067 1277.4 1068 1276.8 1069 1276.2 1070 1275.6 1071 1274.9 1072 1274.3 1073 1273.7 1074 1273.1 1075 1272.5 1076 1271.9 1077 1271.3 1078 1270.7 1079 1270.1 1080 1269.5 1081 1269 1082 1268.4 1083 1267.8 1084 1267.2 1085 1266.7 1086 1266.1 1087 1265.6 1088 1265 1089 1264.5 1090 1263.9 1091 1263.4 1092 1262.9 1093 1262.4 1094 1261.9 1095 1261.3 1096 1260.8 1097 1260.4 1098 1259.9 1099 1259.4 1100 1258.9 1101 1258.5 1102 1258 1103 1257.6 1104 1257.1 1105 1256.7 1106 1256.3 1107 1255.8 1108 1255.4 1109 1255 1110 1254.6 1111 1254.2 1112 1253.9 1113 1253.5 1114 1253.1 1115 1252.8 1116 1252.5 1117 1252.1 1118 1251.8 1119 1251.5 1120 1251.2 1121 1250.9 1122 1250.6 1123 1250.3 1124 1250.1 1125 1249.8 1126 1249.6 1127 1249.4 1128 1249.1 1129 1248.9 1130 1248.7 1131 1248.5 1132 1248.3 1133 1248.2 1134 1248 1135 1247.9 1136 1247.7 1137 1247.6 1138 1247.5 1139 1247.4 1140 1247.3 1141 1247.2 1142 1247.1 1143 1247.1 1144 1247 1145 1247 1146 1246.9 1147 1246.9 1148 1246.9 1149 1246.9 1150 1246.9 1151 1246.9 1152 1247 1153 1247 1154 1247.1 1155 1247.2 1156 1247.3 1157 1247.4 1158 1247.5 1159 1247.7 1160 1247.8 1161 1248 1162 1248.2 1163 1248.3 1164 1248.5 1165 1248.8 1166 1249 1167 1249.2 1168 1249.5 1169 1249.7 1170 1250 1171 1250.3 1172 1250.6 1173 1250.9 1174 1251.3 1175 1251.6 1176 1252 1177 1252.3 1178 1252.7 1179 1253.1 1180 1253.5 1181 1253.9 1182 1254.3 1183 1254.7 1184 1255.2 1185 1255.6 1186 1256.1 1187 1256.5 1188 1257 1189 1257.5 1190 1258 1191 1258.5 1192 1259 1193 1259.6 1194 1260.1 1195 1260.7 1196 1261.2 1197 1261.8 1198 1262.3 1199 1262.9 1200 1263.5 1201 1264.1 1202 1264.7 1203 1265.3 1204 1265.9 1205 1266.5 1206 1267.2 1207 1267.8 1208 1268.4 1209 1269.1 1210 1269.7 1211 1270.4 1212 1271 1213 1271.7 1214 1272.4 1215 1273.1 1216 1273.7 1217 1274.4 1218 1275.1 1219 1275.8 1220 1276.5 1221 1277.2 1222 1277.9 1223 1278.6 1224 1279.3 1225 1280 1226 1280.7 1227 1281.4 1228 1282.2 1229 1282.9 1230 1283.6 1231 1284.3 1232 1285 1233 1285.8 1234 1286.5 1235 1287.2 1236 1287.9 1237 1288.6 1238 1289.4 1239 1290.1 1240 1290.8 1241 1291.5 1242 1292.2 1243 1293 1244 1293.7 1245 1294.4 1246 1295.1 1247 1295.8 1248 1296.5 1249 1297.2 1250 1298 1251 1298.7 1252 1299.4 1253 1300.1 1254 1300.8 1255 1301.5 1256 1302.1 1257 1302.8 1258 1303.5 1259 1304.2 1260 1304.9 1261 1305.5 1262 1306.2 1263 1306.9 1264 1307.5 1265 1308.2 1266 1308.8 1267 1309.5 1268 1310.1 1269 1310.8 1270 1311.4 1271 1312 1272 1312.7 1273 1313.3 1274 1313.9 1275 1314.5 1276 1315.1 1277 1315.7 1278 1316.3 1279 1316.9 1280 1317.5 1281 1318.1 1282 1318.6 1283 1319.2 1284 1319.8 1285 1320.3 1286 1320.9 1287 1321.4 1288 1322 1289 1322.5 1290 1323 1291 1323.5 1292 1324 1293 1324.6 1294 1325.1 1295 1325.6 1296 1326 1297 1326.5 1298 1327 1299 1327.5 1300 1328 1301 1328.4 1302 1328.9 1303 1329.3 1304 1329.8 1305 1330.2 1306 1330.6 1307 1331 1308 1331.5 1309 1331.9 1310 1332.3 1311 1332.7 1312 1333.1 1313 1333.5 1314 1333.9 1315 1334.2 1316 1334.6 1317 1335 1318 1335.3 1319 1335.7 1320 1336 1321 1336.4 1322 1336.7 1323 1337 1324 1337.4 1325 1337.7 1326 1338 1327 1338.3 1328 1338.6 1329 1338.9 1330 1339.2 1331 1339.5 1332 1339.8 1333 1340.1 1334 1340.3 1335 1340.6 1336 1340.9 1337 1341.1 1338 1341.4 1339 1341.6 1340 1341.9 1341 1342.1 1342 1342.4 1343 1342.6 1344 1342.8 1345 1343 1346 1343.2 1347 1343.5 1348 1343.7 1349 1343.9 1350 1344.1 1351 1344.3 1352 1344.5 1353 1344.6 1354 1344.8 1355 1345 1356 1345.2 1357 1345.4 1358 1345.5 1359 1345.7 1360 1345.9 1361 1346 1362 1346.2 1363 1346.3 1364 1346.5 1365 1346.6 1366 1346.7 1367 1346.9 1368 1347 1369 1347.2 1370 1347.3 1371 1347.4 1372 1347.5 1373 1347.6 1374 1347.8 1375 1347.9 1376 1348 1377 1348.1 1378 1348.2 1379 1348.3 1380 1348.4 1381 1348.5 1382 1348.6 1383 1348.7 1384 1348.8 1385 1348.9 1386 1349 1387 1349.1 1388 1349.1 1389 1349.2 1390 1349.3 1391 1349.4 1392 1349.4 1393 1349.5 1394 1349.6 1395 1349.7 1396 1349.7 1397 1349.8 1398 1349.9 1399 1349.9 1400 1350 1401 1350 1402 1350.1 1403 1350.2 1404 1350.2 1405 1350.3 1406 1350.3 1407 1350.4 1408 1350.4 1409 1350.5 1410 1350.5 1411 1350.6 1412 1350.6 1413 1350.6 1414 1350.7 1415 1350.7 1416 1350.8 1417 1350.8 1418 1350.8 1419 1350.9 1420 1350.9 1421 1350.9 1422 1351 1423 1351 1424 1351 1425 1351.1 1426 1351.1 1427 1351.1 1428 1351.2 1429 1351.2 1430 1351.2 1431 1351.2 1432 1351.3 1433 1351.3 1434 1351.3 1435 1351.3 1436 1351.4 1437 1351.4 1438 1351.4 1439 1351.4 1440 1351.4 1441 1351.5 1442 1351.5 1443 1351.5 1444 1351.5 1445 1351.5 1446 1351.6 1447 1351.6 1448 1351.6 1449 1351.6 1450 1351.6 1451 1351.6 1452 1351.7 1453 1351.7 1454 1351.7 1455 1351.7 1456 1351.7 1457 1351.7 1458 1351.7 1459 1351.7 1460 1351.8 1461 1351.8 1462 1351.8 1463 1351.8 1464 1351.8 1465 1351.8 1466 1351.8 1467 1351.8 1468 1351.9 1469 1351.9 1470 1351.9 1471 1351.9 1471 1354.5 1470 1354.5 1469 1354.5 1468 1354.5 1467 1354.5 1466 1354.5 1465 1354.5 1464 1354.5 1463 1354.5 1462 1354.5 1461 1354.5 1460 1354.4 1459 1354.4 1458 1354.4 1457 1354.4 1456 1354.4 1455 1354.4 1454 1354.4 1453 1354.4 1452 1354.4 1451 1354.4 1450 1354.4 1449 1354.4 1448 1354.4 1447 1354.4 1446 1354.4 1445 1354.4 1444 1354.4 1443 1354.4 1442 1354.4 1441 1354.4 1440 1354.3 1439 1354.3 1438 1354.3 1437 1354.3 1436 1354.3 1435 1354.3 1434 1354.3 1433 1354.3 1432 1354.3 1431 1354.3 1430 1354.3 1429 1354.3 1428 1354.3 1427 1354.3 1426 1354.3 1425 1354.3 1424 1354.3 1423 1354.3 1422 1354.3 1421 1354.3 1420 1354.3 1419 1354.2 1418 1354.2 1417 1354.2 1416 1354.2 1415 1354.2 1414 1354.2 1413 1354.2 1412 1354.2 1411 1354.2 1410 1354.2 1409 1354.2 1408 1354.2 1407 1354.2 1406 1354.2 1405 1354.2 1404 1354.2 1403 1354.2 1402 1354.2 1401 1354.2 1400 1354.2 1399 1354.1 1398 1354.1 1397 1354.1 1396 1354.1 1395 1354.1 1394 1354.1 1393 1354.1 1392 1354.1 1391 1354.1 1390 1354.1 1389 1354.1 1388 1354.1 1387 1354.1 1386 1354.1 1385 1354.1 1384 1354.1 1383 1354.1 1382 1354.1 1381 1354.1 1380 1354.1 1379 1354.1 1378 1354 1377 1354 1376 1354 1375 1354 1374 1354 1373 1354 1372 1354 1371 1354 1370 1354 1369 1354 1368 1354 1367 1354 1366 1354 1365 1354 1364 1354 1363 1354 1362 1354 1361 1354 1360 1354 1359 1354 1358 1354 1357 1353.9 1356 1353.9 1355 1353.9 1354 1353.9 1353 1353.9 1352 1353.9 1351 1353.9 1350 1353.9 1349 1353.9 1348 1353.9 1347 1353.9 1346 1353.9 1345 1353.9 1344 1353.9 1343 1353.9 1342 1353.9 1341 1353.9 1340 1353.9 1339 1353.9 1338 1353.9 1337 1353.8 1336 1353.8 1335 1353.8 1334 1353.8 1333 1353.8 1332 1353.8 1331 1353.8 1330 1353.8 1329 1353.8 1328 1353.8 1327 1353.8 1326 1353.8 1325 1353.8 1324 1353.8 1323 1353.8 1322 1353.8 1321 1353.8 1320 1353.8 1319 1353.8 1318 1353.8 1317 1353.8 1316 1353.7 1315 1353.7 1314 1353.7 1313 1353.7 1312 1353.7 1311 1353.7 1310 1353.7 1309 1353.7 1308 1353.7 1307 1353.7 1306 1353.7 1305 1353.7 1304 1353.7 1303 1353.7 1302 1353.7 1301 1353.7 1300 1353.7 1299 1353.7 1298 1353.7 1297 1353.7 1296 1353.6 1295 1353.6 1294 1353.6 1293 1353.6 1292 1353.6 1291 1353.6 1290 1353.6 1289 1353.6 1288 1353.6 1287 1353.6 1286 1353.6 1285 1353.6 1284 1353.6 1283 1353.6 1282 1353.6 1281 1353.6 1280 1353.6 1279 1353.6 1278 1353.6 1277 1353.6 1276 1353.6 1275 1353.5 1274 1353.5 1273 1353.5 1272 1353.5 1271 1353.5 1270 1353.5 1269 1353.5 1268 1353.5 1267 1353.5 1266 1353.5 1265 1353.5 1264 1353.5 1263 1353.5 1262 1353.5 1261 1353.5 1260 1353.5 1259 1353.5 1258 1353.5 1257 1353.5 1256 1353.5 1255 1353.4 1254 1353.4 1253 1353.4 1252 1353.4 1251 1353.4 1250 1353.4 1249 1353.4 1248 1353.4 1247 1353.4 1246 1353.4 1245 1353.4 1244 1353.4 1243 1353.4 1242 1353.4 1241 1353.4 1240 1353.4 1239 1353.4 1238 1353.4 1237 1353.4 1236 1353.4 1235 1353.4 1234 1353.3 1233 1353.3 1232 1353.3 1231 1353.3 1230 1353.3 1229 1353.3 1228 1353.3 1227 1353.3 1226 1353.3 1225 1353.3 1224 1353.3 1223 1353.3 1222 1353.3 1221 1353.3 1220 1353.3 1219 1353.3 1218 1353.3 1217 1353.3 1216 1353.3 1215 1353.3 1214 1353.3 1213 1353.2 1212 1353.2 1211 1353.2 1210 1353.2 1209 1353.2 1208 1353.2 1207 1353.2 1206 1353.2 1205 1353.2 1204 1353.2 1203 1353.2 1202 1353.2 1201 1353.2 1200 1353.2 1199 1353.2 1198 1353.2 1197 1353.2 1196 1353.2 1195 1353.2 1194 1353.2 1193 1353.1 1192 1353.1 1191 1353.1 1190 1353.1 1189 1353.1 1188 1353.1 1187 1353.1 1186 1353.1 1185 1353.1 1184 1353.1 1183 1353.1 1182 1353.1 1181 1353.1 1180 1353.1 1179 1353.1 1178 1353.1 1177 1353.1 1176 1353.1 1175 1353.1 1174 1353.1 1173 1353.1 1172 1353 1171 1353 1170 1353 1169 1353 1168 1353 1167 1353 1166 1353 1165 1353 1164 1353 1163 1353 1162 1353 1161 1353 1160 1353 1159 1353 1158 1353 1157 1353 1156 1353 1155 1353 1154 1353 1153 1353 1152 1352.9 1151 1352.9 1150 1352.9 1149 1352.9 1148 1352.9 1147 1352.9 1146 1352.9 1145 1352.9 1144 1352.9 1143 1352.9 1142 1352.9 1141 1352.9 1140 1352.9 1139 1352.9 1138 1352.9 1137 1352.9 1136 1352.9 1135 1352.9 1134 1352.9 1133 1352.9 1132 1352.9 1131 1352.8 1130 1352.8 1129 1352.8 1128 1352.8 1127 1352.8 1126 1352.8 1125 1352.8 1124 1352.8 1123 1352.8 1122 1352.8 1121 1352.8 1120 1352.8 1119 1352.8 1118 1352.8 1117 1352.8 1116 1352.8 1115 1352.8 1114 1352.8 1113 1352.8 1112 1352.8 1111 1352.7 1110 1352.7 1109 1352.7 1108 1352.7 1107 1352.7 1106 1352.7 1105 1352.7 1104 1352.7 1103 1352.7 1102 1352.7 1101 1352.7 1100 1352.7 1099 1352.7 1098 1352.7 1097 1352.7 1096 1352.7 1095 1352.7 1094 1352.7 1093 1352.7 1092 1352.7 1091 1352.7 1090 1352.6 1089 1352.6 1088 1352.6 1087 1352.6 1086 1352.6 1085 1352.6 1084 1352.6 1083 1352.6 1082 1352.6 1081 1352.6 1080 1352.6 1079 1352.6 1078 1352.6 1077 1352.6 1076 1352.6 1075 1352.6 1074 1352.6 1073 1352.6 1072 1352.6 1071 1352.6 1070 1352.5 1069 1352.5 1068 1352.5 1067 1352.5 1066 1352.5 1065 1352.5 1064 1352.5 1063 1352.5 1062 1352.5 1061 1352.5 1060 1352.5 1059 1352.5 1058 1352.5 1057 1352.5 1056 1352.5 1055 1352.5 1054 1352.5 1053 1352.5 1052 1352.5 1051 1352.5 1050 1352.5 1049 1352.4 1048 1352.4 1047 1352.4 1046 1352.4 1045 1352.4 1044 1352.4 1043 1352.4 1042 1352.4 1041 1352.4 1040 1352.4 1039 1352.4 1038 1352.4 1037 1352.4 1036 1352.4 1035 1352.4 1034 1352.4 1033 1352.4 1032 1352.4 1031 1352.4 1030 1352.4 1029 1352.4 1028 1352.3 1027 1352.3 1026 1352.3 1025 1352.3 1024 1352.3 1023 1352.3 1022 1352.3 1021 1352.3 1020 1352.3 1019 1352.3 1018 1352.3 1017 1352.3 1016 1352.3 1015 1352.3 1014 1352.3 1013 1352.3 1012 1352.3 1011 1352.3 1010 1352.3 1009 1352.3 1008 1352.2 1007 1352.2 1006 1352.2 1005 1352.2 1004 1352.2 1003 1352.2 1002 1352.2 1001 1352.2 1000 1352.2 999 1352.2 998 1352.2 997 1352.2 996 1352.2 995 1352.2 994 1352.2 993 1352.2 992 1352.2 991 1352.2 990 1352.2 989 1352.2 988 1352.2 987 1352.1 986 1352.1 985 1352.1 984 1352.1 983 1352.1 982 1352.1 981 1352.1 980 1352.1 979 1352.1 978 1352.1 977 1352.1 976 1352.1 975 1352.1 974 1352.1 973 1352.1 972 1352.1 971 1352.1 970 1352.1 969 1352.1 968 1352.1 967 1352 966 1352 965 1352 964 1352 963 1352 962 1352 961 1352 960 1352 959 1352 958 1352 957 1352 956 1352 955 1352 954 1352 953 1352 952 1352 951 1352 950 1352 949 1352 948 1352 947 1352 946 1351.9 945 1351.9 944 1351.9 943 1351.9 942 1351.9 941 1351.9 940 1351.9 939 1351.9 938 1351.9 937 1351.9 936 1351.9 935 1351.9 934 1351.9 933 1351.9 932 1351.9 931 1351.9 930 1351.9 929 1351.9 928 1351.9 927 1351.9 926 1351.8 925 1351.8 924 1351.8 923 1351.8 922 1351.8 921 1351.8 920 1351.8 919 1351.8 918 1351.8 917 1351.8 916 1351.8 915 1351.8 914 1351.8 913 1351.8 912 1351.8 911 1351.8 910 1351.8 909 1351.8 908 1351.8 907 1351.8 906 1351.8 905 1351.7 904 1351.7 903 1351.7 902 1351.7 901 1351.7 900 1351.7 899 1351.7 898 1351.7 897 1351.7 896 1351.7 895 1351.7 894 1351.7 893 1351.7 892 1351.7 891 1351.7 890 1351.7 889 1351.7 888 1351.7 887 1351.7 886 1351.7 885 1351.7 884 1351.6 883 1351.6 882 1351.6 881 1351.6 880 1351.6 879 1351.6 878 1351.6 877 1351.6 876 1351.6 875 1351.6 874 1351.6 873 1351.6 872 1351.6 871 1351.6 870 1351.6 869 1351.6 868 1351.6 867 1351.6 866 1351.6 865 1351.6 864 1351.5 863 1351.5 862 1351.5 861 1351.5 860 1351.5 859 1351.5 858 1351.5 857 1351.5 856 1351.5 855 1351.5 854 1351.5 853 1351.5 852 1351.5 851 1351.5 850 1351.5 849 1351.5 848 1351.5 847 1351.5 846 1351.5 845 1351.5 844 1351.5 843 1351.4 842 1351.4 841 1351.4 840 1351.4 839 1351.4 838 1351.4 837 1351.4 836 1351.4 835 1351.4 834 1351.4 833 1351.4 832 1351.4 831 1351.4 830 1351.4 829 1351.4 828 1351.4 827 1351.4 826 1351.4 825 1351.4 824 1351.4 823 1351.3 822 1351.3 821 1351.3 820 1351.3 819 1351.3 818 1351.3 817 1351.3 816 1351.3 815 1351.3 814 1351.3 813 1351.3Z"/></clipPath>
<clipPath id="cli"><path d="M813 1560.5L814 1560.5 815 1560.5 816 1560.5 817 1560.5 818 1560.5 819 1560.5 820 1560.5 821 1560.6 822 1560.6 823 1560.6 824 1560.6 825 1560.6 826 1560.6 827 1560.6 828 1560.6 829 1560.6 830 1560.6 831 1560.6 832 1560.6 833 1560.6 834 1560.7 835 1560.7 836 1560.7 837 1560.7 838 1560.7 839 1560.7 840 1560.7 841 1560.7 842 1560.7 843 1560.7 844 1560.7 845 1560.7 846 1560.7 847 1560.7 848 1560.7 849 1560.8 850 1560.8 851 1560.8 852 1560.8 853 1560.8 854 1560.8 855 1560.8 856 1560.8 857 1560.8 858 1560.8 859 1560.8 860 1560.8 861 1560.8 862 1560.8 863 1560.8 864 1560.8 865 1560.8 866 1560.8 867 1560.8 868 1560.9 869 1560.9 870 1560.9 871 1560.9 872 1560.9 873 1560.9 874 1560.9 875 1560.9 876 1560.9 877 1560.9 878 1560.9 879 1560.9 880 1560.9 881 1560.9 882 1560.9 883 1560.9 884 1560.9 885 1560.9 886 1560.9 887 1560.9 888 1560.9 889 1560.9 890 1560.9 891 1560.9 892 1560.9 893 1560.9 894 1560.9 895 1560.8 896 1560.8 897 1560.8 898 1560.8 899 1560.8 900 1560.8 901 1560.8 902 1560.8 903 1560.8 904 1560.8 905 1560.8 906 1560.7 907 1560.7 908 1560.7 909 1560.7 910 1560.7 911 1560.7 912 1560.7 913 1560.6 914 1560.6 915 1560.6 916 1560.6 917 1560.5 918 1560.5 919 1560.5 920 1560.5 921 1560.4 922 1560.4 923 1560.4 924 1560.4 925 1560.3 926 1560.3 927 1560.3 928 1560.2 929 1560.2 930 1560.1 931 1560.1 932 1560 933 1560 934 1560 935 1559.9 936 1559.9 937 1559.8 938 1559.7 939 1559.7 940 1559.6 941 1559.6 942 1559.5 943 1559.4 944 1559.4 945 1559.3 946 1559.2 947 1559.1 948 1559.1 949 1559 950 1558.9 951 1558.8 952 1558.7 953 1558.6 954 1558.5 955 1558.4 956 1558.3 957 1558.2 958 1558.1 959 1558 960 1557.9 961 1557.8 962 1557.7 963 1557.5 964 1557.4 965 1557.3 966 1557.1 967 1557 968 1556.8 969 1556.7 970 1556.5 971 1556.4 972 1556.2 973 1556 974 1555.9 975 1555.7 976 1555.5 977 1555.3 978 1555.1 979 1554.9 980 1554.7 981 1554.5 982 1554.3 983 1554.1 984 1553.9 985 1553.6 986 1553.4 987 1553.2 988 1552.9 989 1552.7 990 1552.4 991 1552.1 992 1551.8 993 1551.6 994 1551.3 995 1551 996 1550.7 997 1550.4 998 1550.1 999 1549.7 1000 1549.4 1001 1549.1 1002 1548.7 1003 1548.4 1004 1548 1005 1547.7 1006 1547.3 1007 1546.9 1008 1546.5 1009 1546.1 1010 1545.7 1011 1545.3 1012 1544.9 1013 1544.4 1014 1544 1015 1543.6 1016 1543.1 1017 1542.6 1018 1542.2 1019 1541.7 1020 1541.2 1021 1540.7 1022 1540.2 1023 1539.7 1024 1539.1 1025 1538.6 1026 1538.1 1027 1537.5 1028 1536.9 1029 1536.4 1030 1535.8 1031 1535.2 1032 1534.6 1033 1534 1034 1533.3 1035 1532.7 1036 1532.1 1037 1531.4 1038 1530.8 1039 1530.1 1040 1529.4 1041 1528.7 1042 1528 1043 1527.3 1044 1526.6 1045 1525.9 1046 1525.1 1047 1524.4 1048 1523.6 1049 1522.9 1050 1522.1 1051 1521.3 1052 1520.5 1053 1519.7 1054 1518.9 1055 1518.1 1056 1517.2 1057 1516.4 1058 1515.5 1059 1514.7 1060 1513.8 1061 1512.9 1062 1512.1 1063 1511.2 1064 1510.3 1065 1509.3 1066 1508.4 1067 1507.5 1068 1506.6 1069 1505.6 1070 1504.7 1071 1503.7 1072 1502.8 1073 1501.8 1074 1500.8 1075 1499.8 1076 1498.9 1077 1497.9 1078 1496.9 1079 1495.8 1080 1494.8 1081 1493.8 1082 1492.8 1083 1491.8 1084 1490.7 1085 1489.7 1086 1488.7 1087 1487.6 1088 1486.6 1089 1485.5 1090 1484.5 1091 1483.4 1092 1482.3 1093 1481.3 1094 1480.2 1095 1479.1 1096 1478.1 1097 1477 1098 1475.9 1099 1474.9 1100 1473.8 1101 1472.7 1102 1471.7 1103 1470.6 1104 1469.5 1105 1468.5 1106 1467.4 1107 1466.3 1108 1465.3 1109 1464.2 1110 1463.2 1111 1462.1 1112 1461.1 1113 1460 1114 1459 1115 1458 1116 1456.9 1117 1455.9 1118 1454.9 1119 1453.9 1120 1452.9 1121 1451.9 1122 1450.9 1123 1449.9 1124 1449 1125 1448 1126 1447.1 1127 1446.1 1128 1445.2 1129 1444.3 1130 1443.3 1131 1442.5 1132 1441.6 1133 1440.7 1134 1439.9 1135 1439 1136 1438.2 1137 1437.4 1138 1436.6 1139 1435.8 1140 1435 1141 1434.2 1142 1433.5 1143 1432.7 1144 1432 1145 1431.3 1146 1430.6 1147 1430 1148 1429.3 1149 1428.7 1150 1428.1 1151 1427.5 1152 1426.9 1153 1426.3 1154 1425.8 1155 1425.2 1156 1424.7 1157 1424.2 1158 1423.7 1159 1423.3 1160 1422.8 1161 1422.4 1162 1422 1163 1421.6 1164 1421.3 1165 1420.9 1166 1420.6 1167 1420.3 1168 1420.1 1169 1419.8 1170 1419.6 1171 1419.4 1172 1419.2 1173 1419 1174 1418.8 1175 1418.7 1176 1418.6 1177 1418.5 1178 1418.5 1179 1418.4 1180 1418.4 1181 1418.4 1182 1418.4 1183 1418.5 1184 1418.5 1185 1418.6 1186 1418.7 1187 1418.8 1188 1418.9 1189 1419.1 1190 1419.3 1191 1419.5 1192 1419.7 1193 1419.9 1194 1420.1 1195 1420.4 1196 1420.7 1197 1421 1198 1421.3 1199 1421.6 1200 1422 1201 1422.4 1202 1422.8 1203 1423.2 1204 1423.6 1205 1424 1206 1424.5 1207 1425 1208 1425.5 1209 1426 1210 1426.5 1211 1427 1212 1427.6 1213 1428.1 1214 1428.7 1215 1429.3 1216 1430 1217 1430.6 1218 1431.2 1219 1431.9 1220 1432.6 1221 1433.2 1222 1433.9 1223 1434.7 1224 1435.4 1225 1436.1 1226 1436.9 1227 1437.6 1228 1438.4 1229 1439.2 1230 1440 1231 1440.8 1232 1441.6 1233 1442.5 1234 1443.3 1235 1444.2 1236 1445 1237 1445.9 1238 1446.8 1239 1447.7 1240 1448.6 1241 1449.5 1242 1450.4 1243 1451.3 1244 1452.3 1245 1453.2 1246 1454.2 1247 1455.1 1248 1456.1 1249 1457 1250 1458 1251 1459 1252 1460 1253 1460.9 1254 1461.9 1255 1462.9 1256 1463.9 1257 1464.9 1258 1465.9 1259 1466.9 1260 1468 1261 1469 1262 1470 1263 1471 1264 1472 1265 1473 1266 1474.1 1267 1475.1 1268 1476.1 1269 1477.1 1270 1478.2 1271 1479.2 1272 1480.2 1273 1481.2 1274 1482.3 1275 1483.3 1276 1484.3 1277 1485.3 1278 1486.3 1279 1487.4 1280 1488.4 1281 1489.4 1282 1490.4 1283 1491.4 1284 1492.4 1285 1493.4 1286 1494.4 1287 1495.4 1288 1496.4 1289 1497.3 1290 1498.3 1291 1499.3 1292 1500.3 1293 1501.2 1294 1502.2 1295 1503.1 1296 1504.1 1297 1505 1298 1506 1299 1506.9 1300 1507.8 1301 1508.7 1302 1509.6 1303 1510.5 1304 1511.4 1305 1512.3 1306 1513.2 1307 1514.1 1308 1515 1309 1515.8 1310 1516.7 1311 1517.5 1312 1518.4 1313 1519.2 1314 1520 1315 1520.9 1316 1521.7 1317 1522.5 1318 1523.3 1319 1524.1 1320 1524.8 1321 1525.6 1322 1526.4 1323 1527.1 1324 1527.9 1325 1528.6 1326 1529.3 1327 1530.1 1328 1530.8 1329 1531.5 1330 1532.2 1331 1532.9 1332 1533.5 1333 1534.2 1334 1534.9 1335 1535.5 1336 1536.2 1337 1536.8 1338 1537.4 1339 1538.1 1340 1538.7 1341 1539.3 1342 1539.9 1343 1540.5 1344 1541.1 1345 1541.6 1346 1542.2 1347 1542.7 1348 1543.3 1349 1543.8 1350 1544.4 1351 1544.9 1352 1545.4 1353 1545.9 1354 1546.4 1355 1546.9 1356 1547.4 1357 1547.9 1358 1548.3 1359 1548.8 1360 1549.2 1361 1549.7 1362 1550.1 1363 1550.5 1364 1551 1365 1551.4 1366 1551.8 1367 1552.2 1368 1552.6 1369 1553 1370 1553.4 1371 1553.7 1372 1554.1 1373 1554.5 1374 1554.8 1375 1555.2 1376 1555.5 1377 1555.8 1378 1556.2 1379 1556.5 1380 1556.8 1381 1557.1 1382 1557.4 1383 1557.7 1384 1558 1385 1558.3 1386 1558.6 1387 1558.9 1388 1559.1 1389 1559.4 1390 1559.7 1391 1559.9 1392 1560.2 1393 1560.4 1394 1560.6 1395 1560.9 1396 1561.1 1397 1561.3 1398 1561.6 1399 1561.8 1400 1562 1401 1562.2 1402 1562.4 1403 1562.6 1404 1562.8 1405 1563 1406 1563.2 1407 1563.3 1408 1563.5 1409 1563.7 1410 1563.9 1411 1564 1412 1564.2 1413 1564.3 1414 1564.5 1415 1564.7 1416 1564.8 1417 1564.9 1418 1565.1 1419 1565.2 1420 1565.4 1421 1565.5 1422 1565.6 1423 1565.8 1424 1565.9 1425 1566 1426 1566.1 1427 1566.2 1428 1566.3 1429 1566.5 1430 1566.6 1431 1566.7 1432 1566.8 1433 1566.9 1434 1567 1435 1567.1 1436 1567.2 1437 1567.3 1438 1567.3 1439 1567.4 1440 1567.5 1441 1567.6 1442 1567.7 1443 1567.8 1444 1567.8 1445 1567.9 1446 1568 1447 1568.1 1448 1568.1 1449 1568.2 1450 1568.3 1451 1568.4 1452 1568.4 1453 1568.5 1454 1568.5 1455 1568.6 1456 1568.7 1457 1568.7 1458 1568.8 1459 1568.8 1460 1568.9 1461 1569 1462 1569 1463 1569.1 1464 1569.1 1465 1569.2 1466 1569.2 1467 1569.3 1468 1569.3 1469 1569.4 1470 1569.4 1471 1569.5 1471 1572.6 1470 1572.6 1469 1572.6 1468 1572.5 1467 1572.5 1466 1572.5 1465 1572.5 1464 1572.5 1463 1572.4 1462 1572.4 1461 1572.4 1460 1572.4 1459 1572.4 1458 1572.3 1457 1572.3 1456 1572.3 1455 1572.3 1454 1572.3 1453 1572.2 1452 1572.2 1451 1572.2 1450 1572.2 1449 1572.1 1448 1572.1 1447 1572.1 1446 1572.1 1445 1572.1 1444 1572 1443 1572 1442 1572 1441 1572 1440 1572 1439 1571.9 1438 1571.9 1437 1571.9 1436 1571.9 1435 1571.9 1434 1571.8 1433 1571.8 1432 1571.8 1431 1571.8 1430 1571.8 1429 1571.7 1428 1571.7 1427 1571.7 1426 1571.7 1425 1571.7 1424 1571.6 1423 1571.6 1422 1571.6 1421 1571.6 1420 1571.6 1419 1571.5 1418 1571.5 1417 1571.5 1416 1571.5 1415 1571.5 1414 1571.4 1413 1571.4 1412 1571.4 1411 1571.4 1410 1571.3 1409 1571.3 1408 1571.3 1407 1571.3 1406 1571.3 1405 1571.2 1404 1571.2 1403 1571.2 1402 1571.2 1401 1571.2 1400 1571.1 1399 1571.1 1398 1571.1 1397 1571.1 1396 1571.1 1395 1571 1394 1571 1393 1571 1392 1571 1391 1571 1390 1570.9 1389 1570.9 1388 1570.9 1387 1570.9 1386 1570.9 1385 1570.8 1384 1570.8 1383 1570.8 1382 1570.8 1381 1570.8 1380 1570.7 1379 1570.7 1378 1570.7 1377 1570.7 1376 1570.6 1375 1570.6 1374 1570.6 1373 1570.6 1372 1570.6 1371 1570.5 1370 1570.5 1369 1570.5 1368 1570.5 1367 1570.5 1366 1570.4 1365 1570.4 1364 1570.4 1363 1570.4 1362 1570.4 1361 1570.3 1360 1570.3 1359 1570.3 1358 1570.3 1357 1570.3 1356 1570.2 1355 1570.2 1354 1570.2 1353 1570.2 1352 1570.2 1351 1570.1 1350 1570.1 1349 1570.1 1348 1570.1 1347 1570.1 1346 1570 1345 1570 1344 1570 1343 1570 1342 1570 1341 1569.9 1340 1569.9 1339 1569.9 1338 1569.9 1337 1569.8 1336 1569.8 1335 1569.8 1334 1569.8 1333 1569.8 1332 1569.7 1331 1569.7 1330 1569.7 1329 1569.7 1328 1569.7 1327 1569.6 1326 1569.6 1325 1569.6 1324 1569.6 1323 1569.6 1322 1569.5 1321 1569.5 1320 1569.5 1319 1569.5 1318 1569.5 1317 1569.4 1316 1569.4 1315 1569.4 1314 1569.4 1313 1569.4 1312 1569.3 1311 1569.3 1310 1569.3 1309 1569.3 1308 1569.3 1307 1569.2 1306 1569.2 1305 1569.2 1304 1569.2 1303 1569.2 1302 1569.1 1301 1569.1 1300 1569.1 1299 1569.1 1298 1569 1297 1569 1296 1569 1295 1569 1294 1569 1293 1568.9 1292 1568.9 1291 1568.9 1290 1568.9 1289 1568.9 1288 1568.8 1287 1568.8 1286 1568.8 1285 1568.8 1284 1568.8 1283 1568.7 1282 1568.7 1281 1568.7 1280 1568.7 1279 1568.7 1278 1568.6 1277 1568.6 1276 1568.6 1275 1568.6 1274 1568.6 1273 1568.5 1272 1568.5 1271 1568.5 1270 1568.5 1269 1568.5 1268 1568.4 1267 1568.4 1266 1568.4 1265 1568.4 1264 1568.4 1263 1568.3 1262 1568.3 1261 1568.3 1260 1568.3 1259 1568.2 1258 1568.2 1257 1568.2 1256 1568.2 1255 1568.2 1254 1568.1 1253 1568.1 1252 1568.1 1251 1568.1 1250 1568.1 1249 1568 1248 1568 1247 1568 1246 1568 1245 1568 1244 1567.9 1243 1567.9 1242 1567.9 1241 1567.9 1240 1567.9 1239 1567.8 1238 1567.8 1237 1567.8 1236 1567.8 1235 1567.8 1234 1567.7 1233 1567.7 1232 1567.7 1231 1567.7 1230 1567.7 1229 1567.6 1228 1567.6 1227 1567.6 1226 1567.6 1225 1567.6 1224 1567.5 1223 1567.5 1222 1567.5 1221 1567.5 1220 1567.4 1219 1567.4 1218 1567.4 1217 1567.4 1216 1567.4 1215 1567.3 1214 1567.3 1213 1567.3 1212 1567.3 1211 1567.3 1210 1567.2 1209 1567.2 1208 1567.2 1207 1567.2 1206 1567.2 1205 1567.1 1204 1567.1 1203 1567.1 1202 1567.1 1201 1567.1 1200 1567 1199 1567 1198 1567 1197 1567 1196 1567 1195 1566.9 1194 1566.9 1193 1566.9 1192 1566.9 1191 1566.9 1190 1566.8 1189 1566.8 1188 1566.8 1187 1566.8 1186 1566.7 1185 1566.7 1184 1566.7 1183 1566.7 1182 1566.7 1181 1566.6 1180 1566.6 1179 1566.6 1178 1566.6 1177 1566.6 1176 1566.5 1175 1566.5 1174 1566.5 1173 1566.5 1172 1566.5 1171 1566.4 1170 1566.4 1169 1566.4 1168 1566.4 1167 1566.4 1166 1566.3 1165 1566.3 1164 1566.3 1163 1566.3 1162 1566.3 1161 1566.2 1160 1566.2 1159 1566.2 1158 1566.2 1157 1566.2 1156 1566.1 1155 1566.1 1154 1566.1 1153 1566.1 1152 1566.1 1151 1566 1150 1566 1149 1566 1148 1566 1147 1565.9 1146 1565.9 1145 1565.9 1144 1565.9 1143 1565.9 1142 1565.8 1141 1565.8 1140 1565.8 1139 1565.8 1138 1565.8 1137 1565.7 1136 1565.7 1135 1565.7 1134 1565.7 1133 1565.7 1132 1565.6 1131 1565.6 1130 1565.6 1129 1565.6 1128 1565.6 1127 1565.6 1126 1565.6 1125 1565.6 1124 1565.6 1123 1565.5 1122 1565.5 1121 1565.5 1120 1565.5 1119 1565.5 1118 1565.5 1117 1565.5 1116 1565.5 1115 1565.5 1114 1565.5 1113 1565.5 1112 1565.5 1111 1565.4 1110 1565.4 1109 1565.4 1108 1565.4 1107 1565.4 1106 1565.4 1105 1565.4 1104 1565.4 1103 1565.4 1102 1565.4 1101 1565.4 1100 1565.4 1099 1565.3 1098 1565.3 1097 1565.3 1096 1565.3 1095 1565.3 1094 1565.3 1093 1565.3 1092 1565.3 1091 1565.3 1090 1565.3 1089 1565.3 1088 1565.3 1087 1565.2 1086 1565.2 1085 1565.2 1084 1565.2 1083 1565.2 1082 1565.2 1081 1565.2 1080 1565.2 1079 1565.2 1078 1565.2 1077 1565.2 1076 1565.2 1075 1565.1 1074 1565.1 1073 1565.1 1072 1565.1 1071 1565.1 1070 1565.1 1069 1565.1 1068 1565.1 1067 1565.1 1066 1565.1 1065 1565.1 1064 1565.1 1063 1565.1 1062 1565 1061 1565 1060 1565 1059 1565 1058 1565 1057 1565 1056 1565 1055 1565 1054 1565 1053 1565 1052 1565 1051 1565 1050 1564.9 1049 1564.9 1048 1564.9 1047 1564.9 1046 1564.9 1045 1564.9 1044 1564.9 1043 1564.9 1042 1564.9 1041 1564.9 1040 1564.9 1039 1564.9 1038 1564.8 1037 1564.8 1036 1564.8 1035 1564.8 1034 1564.8 1033 1564.8 1032 1564.8 1031 1564.8 1030 1564.8 1029 1564.8 1028 1564.8 1027 1564.8 1026 1564.7 1025 1564.7 1024 1564.7 1023 1564.7 1022 1564.7 1021 1564.7 1020 1564.7 1019 1564.7 1018 1564.7 1017 1564.7 1016 1564.7 1015 1564.7 1014 1564.6 1013 1564.6 1012 1564.6 1011 1564.6 1010 1564.6 1009 1564.6 1008 1564.6 1007 1564.6 1006 1564.6 1005 1564.6 1004 1564.6 1003 1564.6 1002 1564.6 1001 1564.5 1000 1564.5 999 1564.5 998 1564.5 997 1564.5 996 1564.5 995 1564.5 994 1564.5 993 1564.5 992 1564.5 991 1564.5 990 1564.5 989 1564.4 988 1564.4 987 1564.4 986 1564.4 985 1564.4 984 1564.4 983 1564.4 982 1564.4 981 1564.4 980 1564.4 979 1564.4 978 1564.4 977 1564.3 976 1564.3 975 1564.3 974 1564.3 973 1564.3 972 1564.3 971 1564.3 970 1564.3 969 1564.3 968 1564.3 967 1564.3 966 1564.3 965 1564.2 964 1564.2 963 1564.2 962 1564.2 961 1564.2 960 1564.2 959 1564.2 958 1564.2 957 1564.2 956 1564.2 955 1564.2 954 1564.2 953 1564.1 952 1564.1 951 1564.1 950 1564.1 949 1564.1 948 1564.1 947 1564.1 946 1564.1 945 1564.1 944 1564.1 943 1564.1 942 1564.1 941 1564 940 1564 939 1564 938 1564 937 1564 936 1564 935 1564 934 1564 933 1564 932 1564 931 1564 930 1564 929 1564 928 1563.9 927 1563.9 926 1563.9 925 1563.9 924 1563.9 923 1563.9 922 1563.9 921 1563.9 920 1563.9 919 1563.9 918 1563.9 917 1563.9 916 1563.8 915 1563.8 914 1563.8 913 1563.8 912 1563.8 911 1563.8 910 1563.8 909 1563.8 908 1563.8 907 1563.8 906 1563.8 905 1563.8 904 1563.7 903 1563.7 902 1563.7 901 1563.7 900 1563.7 899 1563.7 898 1563.7 897 1563.7 896 1563.7 895 1563.7 894 1563.7 893 1563.7 892 1563.6 891 1563.6 890 1563.6 889 1563.6 888 1563.6 887 1563.6 886 1563.6 885 1563.6 884 1563.6 883 1563.6 882 1563.6 881 1563.6 880 1563.5 879 1563.5 878 1563.5 877 1563.5 876 1563.5 875 1563.5 874 1563.5 873 1563.5 872 1563.5 871 1563.5 870 1563.5 869 1563.5 868 1563.5 867 1563.4 866 1563.4 865 1563.4 864 1563.4 863 1563.4 862 1563.4 861 1563.4 860 1563.4 859 1563.4 858 1563.4 857 1563.4 856 1563.4 855 1563.3 854 1563.3 853 1563.3 852 1563.3 851 1563.3 850 1563.3 849 1563.3 848 1563.3 847 1563.3 846 1563.3 845 1563.3 844 1563.3 843 1563.2 842 1563.2 841 1563.2 840 1563.2 839 1563.2 838 1563.2 837 1563.2 836 1563.2 835 1563.2 834 1563.2 833 1563.2 832 1563.2 831 1563.1 830 1563.1 829 1563.1 828 1563.1 827 1563.1 826 1563.1 825 1563.1 824 1563.1 823 1563.1 822 1563.1 821 1563.1 820 1563.1 819 1563 818 1563 817 1563 816 1563 815 1563 814 1563 813 1563Z"/></clipPath>
</defs>
<g id="pd">
<path d="M813 1136.4L816 1136.4 819 1136.4 822 1136.4 825 1136.4 828 1136.4 831 1136.4 834 1136.3 837 1136.3 840 1136.3 843 1136.3 846 1136.3 849 1136.3 852 1136.2 855 1136.2 858 1136.2 861 1136.1 864 1136.1 867 1136 870 1136 873 1135.9 876 1135.9 879 1135.8 882 1135.7 885 1135.7 888 1135.6 891 1135.5 894 1135.4 897 1135.2 900 1135.1 903 1135 906 1134.8 909 1134.7 912 1134.5 915 1134.3 918 1134.2 921 1133.9 924 1133.7 927 1133.5 930 1133.2 933 1133 936 1132.7 939 1132.4 942 1132 945 1131.7 948 1131.3 951 1130.9 954 1130.5 957 1130 960 1129.5 963 1129 966 1128.5 969 1128 972 1127.4 975 1126.7 978 1126.1 981 1125.4 984 1124.7 987 1123.9 990 1123.1 993 1122.3 996 1121.4 999 1120.5 1002 1119.6 1005 1118.6 1008 1117.6 1011 1116.5 1014 1115.4 1017 1114.2 1020 1113 1023 1111.8 1026 1110.5 1029 1109.2 1032 1107.8 1035 1106.4 1038 1105 1041 1103.5 1044 1101.9 1047 1100.4 1050 1098.7 1053 1097.1 1056 1095.4 1059 1093.7 1062 1091.9 1065 1090.1 1068 1088.3 1071 1086.4 1074 1084.5 1077 1082.6 1080 1080.7 1083 1078.7 1086 1076.7 1089 1074.7 1092 1072.7 1095 1070.7 1098 1068.7 1101 1066.7 1104 1064.6 1107 1062.6 1110 1060.6 1113 1058.6 1116 1056.6 1119 1054.6 1122 1052.6 1125 1050.7 1128 1048.8 1131 1046.9 1134 1045 1137 1043.2 1140 1041.5 1143 1039.8 1146 1038.1 1149 1036.5 1152 1034.9 1155 1033.4 1158 1032 1161 1030.6 1164 1029.3 1167 1028.1 1170 1027 1173 1025.9 1176 1024.9 1179 1024 1182 1023.2 1185 1022.5 1188 1021.9 1191 1021.3 1194 1020.9 1197 1020.5 1200 1020.2 1203 1020.1 1206 1020 1209 1020 1212 1020.2 1215 1020.5 1218 1020.9 1221 1021.4 1224 1022.1 1227 1022.9 1230 1023.8 1233 1024.8 1236 1025.9 1239 1027.2 1242 1028.5 1245 1029.9 1248 1031.5 1251 1033.1 1254 1034.8 1257 1036.6 1260 1038.5 1263 1040.5 1266 1042.5 1269 1044.6 1272 1046.7 1275 1048.9 1278 1051.1 1281 1053.4 1284 1055.7 1287 1058 1290 1060.3 1293 1062.7 1296 1065 1299 1067.4 1302 1069.7 1305 1072.1 1308 1074.4 1311 1076.8 1314 1079.1 1317 1081.3 1320 1083.6 1323 1085.8 1326 1088 1329 1090.2 1332 1092.3 1335 1094.3 1338 1096.3 1341 1098.3 1344 1100.2 1347 1102.1 1350 1103.9 1353 1105.6 1356 1107.3 1359 1109 1362 1110.6 1365 1112.1 1368 1113.6 1371 1115 1374 1116.4 1377 1117.7 1380 1118.9 1383 1120.1 1386 1121.2 1389 1122.3 1392 1123.4 1395 1124.3 1398 1125.3 1401 1126.2 1404 1127 1407 1127.8 1410 1128.5 1413 1129.2 1416 1129.9 1419 1130.5 1422 1131.1 1425 1131.7 1428 1132.2 1431 1132.7 1434 1133.1 1437 1133.6 1440 1134 1443 1134.3 1446 1134.7 1449 1135 1452 1135.3 1455 1135.6 1458 1135.8 1461 1136.1 1464 1136.3 1467 1136.5 1470 1136.7 1471 1136.7 1471 1138.5 813 1136.5Z" fill="#f28585"/>
<path d="M1123 1137.4L1126 1137.4 1129 1137.4 1132 1137.4 1135 1137.4 1138 1137.3 1141 1137.3 1144 1137.3 1147 1137.2 1150 1137.2 1153 1137.1 1156 1137.1 1159 1137 1162 1136.9 1165 1136.7 1168 1136.6 1171 1136.4 1174 1136.2 1177 1136 1180 1135.7 1183 1135.3 1186 1135 1189 1134.5 1192 1134 1195 1133.5 1198 1132.8 1201 1132.1 1204 1131.3 1207 1130.4 1210 1129.4 1213 1128.2 1216 1127 1219 1125.6 1222 1124.1 1225 1122.5 1228 1120.8 1231 1118.8 1234 1116.8 1237 1114.6 1240 1112.2 1243 1109.7 1246 1107.1 1249 1104.3 1252 1101.3 1255 1098.3 1258 1095.1 1261 1091.9 1264 1088.5 1267 1085.1 1270 1081.6 1273 1078.1 1276 1074.6 1279 1071.1 1282 1067.7 1285 1064.3 1288 1061 1291 1057.9 1294 1054.8 1297 1052 1300 1049.3 1303 1046.9 1306 1044.7 1309 1042.8 1312 1041.1 1315 1039.8 1318 1038.8 1321 1038 1324 1037.7 1327 1037.6 1330 1038.1 1333 1039.1 1336 1040.7 1339 1042.8 1342 1045.4 1345 1048.4 1348 1051.8 1351 1055.5 1354 1059.5 1357 1063.8 1360 1068.2 1363 1072.7 1366 1077.2 1369 1081.8 1372 1086.3 1375 1090.8 1378 1095.1 1381 1099.2 1384 1103.1 1387 1106.8 1390 1110.3 1393 1113.6 1396 1116.5 1399 1119.3 1402 1121.8 1405 1124 1408 1126 1411 1127.8 1414 1129.4 1417 1130.8 1420 1132 1423 1133 1426 1133.9 1429 1134.7 1432 1135.4 1435 1135.9 1438 1136.4 1441 1136.8 1444 1137.1 1447 1137.4 1450 1137.6 1453 1137.8 1456 1137.9 1459 1138.1 1462 1138.2 1465 1138.2 1468 1138.3 1471 1138.4 1471 1138.5 1123 1137.4Z" fill="#98f898"/>
<path d="M1123 1137.4L1126 1137.4 1129 1137.4 1132 1137.4 1135 1137.4 1138 1137.3 1141 1137.3 1144 1137.3 1147 1137.2 1150 1137.2 1153 1137.1 1156 1137.1 1159 1137 1162 1136.9 1165 1136.7 1168 1136.6 1171 1136.4 1174 1136.2 1177 1136 1180 1135.7 1183 1135.3 1186 1135 1189 1134.5 1192 1134 1195 1133.5 1198 1132.8 1201 1132.1 1204 1131.3 1207 1130.4 1210 1129.4 1213 1128.2 1216 1127 1219 1125.6 1222 1124.1 1225 1122.5 1228 1120.8 1231 1118.8 1234 1116.8 1237 1114.6 1240 1112.2 1243 1109.7 1246 1107.1 1249 1104.3 1252 1101.3 1255 1098.3 1258 1095.1 1261 1091.9 1264 1088.5 1267 1085.1 1270 1081.6 1273 1078.1 1276 1074.6 1279 1071.1 1282 1067.7 1285 1064.3 1288 1061 1291 1061.1 1294 1063.4 1297 1065.8 1300 1068.2 1303 1070.5 1306 1072.9 1309 1075.2 1312 1077.5 1315 1079.8 1318 1082.1 1321 1084.3 1324 1086.6 1327 1088.7 1330 1090.9 1333 1093 1336 1095 1339 1097 1342 1098.9 1345 1100.8 1348 1102.7 1351 1104.5 1354 1106.2 1357 1107.9 1360 1109.5 1363 1111.1 1366 1112.6 1369 1114.1 1372 1115.5 1375 1116.8 1378 1118.1 1381 1119.3 1384 1120.5 1387 1121.6 1390 1122.7 1393 1123.7 1396 1124.7 1399 1125.6 1402 1126.4 1405 1127.3 1408 1128 1411 1128.8 1414 1129.5 1417 1130.8 1420 1132 1423 1133 1426 1133.9 1429 1134.7 1432 1135.4 1435 1135.9 1438 1136.4 1441 1136.8 1444 1137.1 1447 1137.4 1450 1137.6 1453 1137.8 1456 1137.9 1459 1138.1 1462 1138.2 1465 1138.2 1468 1138.3 1471 1138.4 1471 1138.5 1123 1137.4Z" fill="#dca726"/>
<path d="M1154 1137.1L1157 1137 1160 1136.9 1163 1136.8 1166 1136.7 1169 1136.5 1172 1136.3 1175 1136.1 1178 1135.9 1181 1135.6 1184 1135.2 1187 1134.8 1190 1134.4 1193 1133.8 1196 1133.3 1199 1132.6 1202 1131.8 1205 1131 1208 1130 1211 1129 1214 1127.8 1217 1126.6 1220 1125.2 1223 1123.6 1226 1121.9 1229 1120.1 1232 1118.2 1235 1116.1 1238 1113.8 1241 1111.4 1244 1108.8 1247 1106.1 1250 1103.3 1253 1100.3 1256 1097.2 1259 1094.1 1262 1090.8 1265 1087.4 1268 1084 1271 1080.5 1274 1077 1277 1073.5 1280 1070 1283 1066.6 1286 1063.2 1289 1060 1292 1056.8 1295 1053.9 1298 1051.1 1301 1048.5 1304 1046.1 1307 1044 1310 1042.2 1313 1040.7 1316 1039.4 1319 1038.5 1322 1037.9 1325 1037.6 1328 1037.7 1331 1038.4 1334 1039.6 1337 1041.4 1340 1043.6 1343 1046.3 1346 1049.5 1349 1053 1352 1056.8 1355 1060.9 1358 1065.2 1361 1069.7 1364 1074.2 1367 1078.8 1370 1083.3 1373 1087.8 1376 1092.2 1379 1096.5 1382 1100.5 1385 1104.4 1388 1108 1391 1111.4 1394 1114.6 1397 1117.5 1400 1120.1 1403 1122.5 1406 1124.7 1409 1126.6 1412 1128.4 1415 1129.9 1418 1131.2 1421 1132.4 1424 1133.4 1427 1134.2 1430 1135 1433 1135.6 1436 1136.1 1439 1136.5 1442 1136.9 1445 1137.2 1448 1137.5 1451 1137.7 1454 1137.8 1457 1138" fill="none" stroke="#1ed6a4" stroke-width="3"/>
<path d="M1154 1137.1L1157 1137 1160 1136.9 1163 1136.8 1166 1136.7 1169 1136.5 1172 1136.3 1175 1136.1 1178 1135.9 1181 1135.6 1184 1135.2 1187 1134.8 1190 1134.4 1193 1133.8 1196 1133.3 1199 1132.6 1202 1131.8 1205 1131 1208 1130 1211 1129 1214 1127.8 1217 1126.6 1220 1125.2 1223 1123.6 1226 1121.9 1229 1120.1 1232 1118.2 1235 1116.1 1238 1113.8 1241 1111.4 1244 1108.8 1247 1106.1 1250 1103.3 1253 1100.3 1256 1097.2 1259 1094.1 1262 1090.8 1265 1087.4 1268 1084 1271 1080.5 1274 1077 1277 1073.5 1280 1070 1283 1066.6 1286 1063.2 1289 1060 1292 1056.8 1295 1053.9 1298 1051.1 1301 1048.5 1304 1046.1 1307 1044 1310 1042.2 1313 1040.7 1316 1039.4 1319 1038.5 1322 1037.9 1325 1037.6 1328 1037.7 1331 1038.4 1334 1039.6 1337 1041.4 1340 1043.6 1343 1046.3 1346 1049.5 1349 1053 1352 1056.8 1355 1060.9 1358 1065.2 1361 1069.7 1364 1074.2 1367 1078.8 1370 1083.3 1373 1087.8 1376 1092.2 1379 1096.5 1382 1100.5 1385 1104.4 1388 1108 1391 1111.4 1394 1114.6 1397 1117.5 1400 1120.1 1403 1122.5 1406 1124.7 1409 1126.6 1412 1128.4 1415 1129.9 1418 1131.2 1421 1132.4 1424 1133.4 1427 1134.2 1430 1135 1433 1135.6 1436 1136.1 1439 1136.5 1442 1136.9 1445 1137.2 1448 1137.5 1451 1137.7 1454 1137.8 1457 1138" fill="none" stroke="#2ea62e" stroke-width="3" clip-path="url(#cliii)"/>
<path d="M853 1136.2L856 1136.2 859 1136.2 862 1136.1 865 1136.1 868 1136 871 1136 874 1135.9 877 1135.9 880 1135.8 883 1135.7 886 1135.6 889 1135.5 892 1135.4 895 1135.3 898 1135.2 901 1135.1 904 1134.9 907 1134.8 910 1134.6 913 1134.5 916 1134.3 919 1134.1 922 1133.9 925 1133.6 928 1133.4 931 1133.1 934 1132.9 937 1132.6 940 1132.2 943 1131.9 946 1131.5 949 1131.2 952 1130.8 955 1130.3 958 1129.9 961 1129.4 964 1128.9 967 1128.3 970 1127.8 973 1127.2 976 1126.5 979 1125.9 982 1125.2 985 1124.4 988 1123.7 991 1122.9 994 1122 997 1121.1 1000 1120.2 1003 1119.2 1006 1118.2 1009 1117.2 1012 1116.1 1015 1115 1018 1113.8 1021 1112.6 1024 1111.4 1027 1110.1 1030 1108.7 1033 1107.4 1036 1105.9 1039 1104.5 1042 1103 1045 1101.4 1048 1099.8 1051 1098.2 1054 1096.5 1057 1094.8 1060 1093.1 1063 1091.3 1066 1089.5 1069 1087.7 1072 1085.8 1075 1083.9 1078 1082 1081 1080 1084 1078.1 1087 1076.1 1090 1074.1 1093 1072.1 1096 1070 1099 1068 1102 1066 1105 1064 1108 1061.9 1111 1059.9 1114 1057.9 1117 1055.9 1120 1053.9 1123 1052 1126 1050 1129 1048.1 1132 1046.3 1135 1044.4 1138 1042.6 1141 1040.9 1144 1039.2 1147 1037.5 1150 1036 1153 1034.4 1156 1032.9 1159 1031.5 1162 1030.2 1165 1028.9 1168 1027.7 1171 1026.6 1174 1025.6 1177 1024.6 1180 1023.7 1183 1023 1186 1022.3 1189 1021.7 1192 1021.1 1195 1020.7 1198 1020.4 1201 1020.2 1204 1020 1207 1020 1210 1020.1 1213 1020.3 1216 1020.6 1219 1021.1 1222 1021.6 1225 1022.3 1228 1023.2 1231 1024.1 1234 1025.2 1237 1026.3 1240 1027.6 1243 1029 1246 1030.4 1249 1032 1252 1033.7 1255 1035.4 1258 1037.3 1261 1039.2 1264 1041.1 1267 1043.2 1270 1045.3 1273 1047.4 1276 1049.6 1279 1051.9 1282 1054.1 1285 1056.4 1288 1058.7 1291 1061.1 1294 1063.4 1297 1065.8 1300 1068.2 1303 1070.5 1306 1072.9 1309 1075.2 1312 1077.5 1315 1079.8 1318 1082.1 1321 1084.3 1324 1086.6 1327 1088.7 1330 1090.9 1333 1093 1336 1095 1339 1097 1342 1098.9 1345 1100.8 1348 1102.7 1351 1104.5 1354 1106.2 1357 1107.9 1360 1109.5 1363 1111.1 1366 1112.6 1369 1114.1 1372 1115.5 1375 1116.8 1378 1118.1 1381 1119.3 1384 1120.5 1387 1121.6 1390 1122.7 1393 1123.7 1396 1124.7 1399 1125.6 1402 1126.4 1405 1127.3 1408 1128 1411 1128.8 1414 1129.5 1417 1130.1 1420 1130.7 1423 1131.3 1426 1131.9 1429 1132.4 1432 1132.8 1435 1133.3 1438 1133.7 1441 1134.1 1444 1134.5 1447 1134.8 1450 1135.1 1453 1135.4 1456 1135.7 1459 1135.9 1462 1136.2 1465 1136.4 1468 1136.6 1471 1136.7" fill="none" stroke="#b81414" stroke-width="3"/>
<path d="M813 1136.2L816 1136.2 819 1136.2 822 1136.1 825 1136.1 828 1136 831 1136 834 1135.9 837 1135.8 840 1135.7 843 1135.6 846 1135.5 849 1135.4 852 1135.3 855 1135.2 858 1135 861 1134.9 864 1134.7 867 1134.5 870 1134.4 873 1134.2 876 1134 879 1133.7 882 1133.5 885 1133.2 888 1133 891 1132.7 894 1132.4 897 1132.2 900 1131.9 903 1131.6 906 1131.3 909 1131 912 1130.6 915 1130.3 918 1130 921 1129.7 924 1129.4 927 1129.1 930 1128.8 933 1128.5 936 1128.2 939 1128 942 1127.7 945 1127.5 948 1127.2 951 1127 954 1126.9 957 1126.7 960 1126.6 963 1126.5 966 1126.4 969 1126.3 972 1126.3 975 1126.3 978 1126.3 981 1126.3 984 1126.4 987 1126.5 990 1126.5 993 1126.6 996 1126.7 999 1126.8 1002 1127 1005 1127.1 1008 1127.3 1011 1127.4 1014 1127.6 1017 1127.8 1020 1128 1023 1128.2 1026 1128.4 1029 1128.6 1032 1128.9 1035 1129.1 1038 1129.3 1041 1129.6 1044 1129.8 1047 1130.1 1050 1130.3 1053 1130.6 1056 1130.8 1059 1131.1 1062 1131.3 1065 1131.6 1068 1131.8 1071 1132.1 1074 1132.3 1077 1132.6 1080 1132.8 1083 1133 1086 1133.2 1089 1133.5 1092 1133.7 1095 1133.9 1098 1134.1 1101 1134.3 1104 1134.5 1107 1134.7 1110 1134.8 1113 1135 1116 1135.2 1119 1135.3 1122 1135.5 1125 1135.6 1128 1135.7 1131 1135.9 1134 1136 1137 1136.1 1140 1136.2 1143 1136.3 1146 1136.4 1149 1136.5 1152 1136.6 1155 1136.7 1158 1136.8 1161 1136.8 1164 1136.9 1167 1137 1170 1137 1173 1137.1 1176 1137.1 1179 1137.2 1182 1137.2 1185 1137.3 1188 1137.3 1191 1137.4 1194 1137.4 1197 1137.4 1200 1137.5 1203 1137.5 1206 1137.5 1209 1137.6 1212 1137.6 1215 1137.6 1218 1137.6 1221 1137.6 1224 1137.7 1227 1137.7 1230 1137.7 1233 1137.7 1236 1137.7 1238 1137.7 1238 1137.8 813 1136.5Z" fill="#1c1cdc"/>
<path d="M813 1137.3L1471 1139.3" fill="none" stroke="#1c1cdc" stroke-width="3.6"/>
<path d="M813 1135.3L1471 1137.3" fill="none" stroke="#b81414" stroke-width="2"/>
<path d="M812.6 1131.1 820 1130.2 826.7 1128 831.4 1122.7 838.7 1127.7 844.3 1126.2 851 1127 858.1 1129 864.7 1129.9 872 1130.4 877.3 1127 885.1 1128.8 891.6 1127.6 897.7 1126 902.7 1123.9 911 1124.8 918.5 1130.2 923.3 1121.6 929.4 1122.2 935.7 1120 944.2 1122.8 949.4 1122.7 956.6 1120.7 962.7 1120.7 968.7 1115.8 977.1 1117.2 981.2 1111.7 989.4 1114 996 1112.3 1000.5 1107.2 1007.3 1108.2 1013.9 1102.6 1019.4 1100.3 1025.4 1098.5 1031.6 1097 1039.2 1094.2 1045.3 1093.7 1052.5 1094.1 1056.2 1088.3 1062.9 1083.5 1069 1083.2 1074.5 1077.9 1080.6 1074.7 1085.2 1072.2 1091.9 1067.6 1096 1062.2 1101.3 1059.5 1108.3 1057.4 1111.7 1052.2 1118 1048.2 1123.5 1045.6 1128.9 1042.2 1134.4 1037.1 1140.3 1035.5 1146.7 1032.3 1152.6 1028.3 1158.8 1029.6 1163.7 1024.5 1172.7 1028.4 1177.1 1021.2 1183.4 1017.7 1189.8 1017.8 1196.8 1017.2 1203.8 1015.9 1208.4 1012.9 1216.2 1013 1222.1 1011.2 1228.1 1008.7 1234.3 1004.3 1240.4 1005.7 1245.9 999.5 1252.9 1000.6 1261.2 1001.7 1265.5 997.1 1270.5 993.3 1275.2 988.2 1282.3 984.3 1288.3 981.8 1294.1 977.8 1299.5 973.9 1306.4 977.7 1313.9 977.4 1320.3 973.9 1326.1 979.2 1332.4 979 1335.6 985.2 1343.4 989 1343.7 996.1 1348.7 1000.8 1354.4 1005.7 1354.2 1012.2 1355.7 1019.4 1361.6 1024.6 1364.4 1030.1 1367.4 1036.6 1370 1042.6 1370.3 1048.4 1373.4 1055.4 1381.7 1058.5 1378.7 1066.1 1384 1071.2 1384.3 1079.5 1389.3 1084.6 1391 1089.7 1397.2 1094.9 1401.8 1098.6 1403.7 1105.2 1407.5 1110.6 1412.9 1114.6 1418.8 1119.1 1424.4 1121.5 1430.7 1125.9 1438.3 1126 1443.3 1129 1450.6 1128.4 1456.9 1132.3 1463.5 1132.9 1468.9 1134.3" fill="none" stroke="none" marker-start="url(#m4)" marker-mid="url(#m4)" marker-end="url(#m4)"/>
<path d="M813 1135.7C814.5 1134.8 819.1 1131.2 822 1130C824.9 1128.8 826.6 1128.5 830.4 1128.7C834.2 1129 840.3 1130.9 845 1131.5C849.7 1132.1 846.4 1132.9 858.4 1132.2C870.4 1131.5 897.3 1129.9 916.7 1127.5C936.1 1125.1 955.5 1122.3 975 1118C994.5 1113.7 1017.9 1107.2 1033.5 1101.8C1049.1 1096.4 1056.8 1092.1 1068.5 1085.5C1080.2 1078.9 1091.8 1069.8 1103.5 1062C1115.2 1054.2 1130.2 1043.5 1138.5 1038.8C1146.8 1034.1 1145 1037.1 1153.3 1034C1161.6 1030.9 1176.7 1023.5 1188.4 1020C1200.1 1016.5 1211.7 1015.7 1223.4 1013C1235.1 1010.3 1248.7 1007.6 1258.4 1003.7C1268.1 999.8 1272.9 994 1281.8 989.7C1290.7 985.4 1303.8 979 1312 978C1320.2 977 1325 980.1 1330.8 984C1336.6 987.9 1341.5 993.4 1347 1001.4C1352.5 1009.4 1358 1020.9 1363.5 1031.8C1369 1042.7 1374 1055.1 1379.8 1066.8C1385.6 1078.5 1391.5 1092.5 1398.5 1101.8C1405.5 1111.1 1414 1117.5 1421.8 1122.8C1429.6 1128 1437 1130.8 1445.2 1133.3C1453.4 1135.8 1466.7 1137.2 1471 1138" fill="none" stroke="#ff0000" stroke-width="5" stroke-linejoin="round"/>
<path d="M813 1349L816 1349 819 1349 822 1349 825 1349 828 1348.9 831 1348.9 834 1348.9 837 1348.8 840 1348.8 843 1348.7 846 1348.7 849 1348.6 852 1348.5 855 1348.4 858 1348.4 861 1348.3 864 1348.2 867 1348 870 1347.9 873 1347.8 876 1347.6 879 1347.5 882 1347.3 885 1347.1 888 1346.9 891 1346.6 894 1346.4 897 1346.1 900 1345.9 903 1345.6 906 1345.2 909 1344.9 912 1344.5 915 1344.1 918 1343.7 921 1343.2 924 1342.8 927 1342.3 930 1341.7 933 1341.1 936 1340.5 939 1339.9 942 1339.2 945 1338.5 948 1337.8 951 1337 954 1336.2 957 1335.3 960 1334.4 963 1333.5 966 1332.5 969 1331.4 972 1330.4 975 1329.3 978 1328.1 981 1326.9 984 1325.6 987 1324.3 990 1323 993 1321.6 996 1320.2 999 1318.7 1002 1317.2 1005 1315.7 1008 1314.1 1011 1312.5 1014 1310.8 1017 1309.1 1020 1307.4 1023 1305.6 1026 1303.8 1029 1302 1032 1300.2 1035 1298.3 1038 1296.4 1041 1294.5 1044 1292.6 1047 1290.7 1050 1288.8 1053 1286.8 1056 1284.9 1059 1283 1062 1281.1 1065 1279.2 1068 1277.3 1071 1275.4 1074 1273.6 1077 1271.8 1080 1270 1083 1268.3 1086 1266.6 1089 1265 1092 1263.4 1095 1261.8 1098 1260.4 1101 1259 1104 1257.6 1107 1256.3 1110 1255.1 1113 1254 1116 1253 1119 1252 1122 1251.1 1125 1250.3 1128 1249.6 1131 1249 1134 1248.5 1137 1248.1 1140 1247.8 1143 1247.6 1146 1247.4 1149 1247.4 1152 1247.5 1155 1247.7 1158 1248 1161 1248.5 1164 1249 1167 1249.7 1170 1250.5 1173 1251.4 1176 1252.5 1179 1253.6 1182 1254.8 1185 1256.1 1188 1257.5 1191 1259 1194 1260.6 1197 1262.3 1200 1264 1203 1265.8 1206 1267.7 1209 1269.6 1212 1271.5 1215 1273.6 1218 1275.6 1221 1277.7 1224 1279.8 1227 1281.9 1230 1284.1 1233 1286.3 1236 1288.4 1239 1290.6 1242 1292.7 1245 1294.9 1248 1297 1251 1299.2 1254 1301.3 1257 1303.3 1260 1305.4 1263 1307.4 1266 1309.3 1269 1311.3 1272 1313.2 1275 1315 1278 1316.8 1281 1318.6 1284 1320.3 1287 1321.9 1290 1323.5 1293 1325.1 1296 1326.5 1299 1328 1302 1329.4 1305 1330.7 1308 1332 1311 1333.2 1314 1334.4 1317 1335.5 1320 1336.5 1323 1337.5 1326 1338.5 1329 1339.4 1332 1340.3 1335 1341.1 1338 1341.9 1341 1342.6 1344 1343.3 1347 1344 1350 1344.6 1353 1345.1 1356 1345.7 1359 1346.2 1362 1346.7 1365 1347.1 1368 1347.5 1371 1347.9 1374 1348.3 1377 1348.6 1380 1348.9 1383 1349.2 1386 1349.5 1389 1349.7 1392 1349.9 1395 1350.2 1398 1350.4 1401 1350.5 1404 1350.7 1407 1350.9 1410 1351 1413 1351.1 1416 1351.3 1419 1351.4 1422 1351.5 1425 1351.6 1428 1351.7 1431 1351.7 1434 1351.8 1437 1351.9 1440 1351.9 1443 1352 1446 1352.1 1449 1352.1 1452 1352.2 1455 1352.2 1458 1352.2 1461 1352.3 1464 1352.3 1467 1352.3 1470 1352.4 1471 1352.4 1471 1352.5 813 1349.3Z" fill="#f28585"/>
<path d="M1065 1350.5L1068 1350.5 1071 1350.5 1074 1350.5 1077 1350.5 1080 1350.4 1083 1350.4 1086 1350.4 1089 1350.3 1092 1350.3 1095 1350.2 1098 1350.1 1101 1350 1104 1349.9 1107 1349.7 1110 1349.5 1113 1349.3 1116 1349 1119 1348.7 1122 1348.3 1125 1347.9 1128 1347.4 1131 1346.8 1134 1346.2 1137 1345.4 1140 1344.6 1143 1343.6 1146 1342.5 1149 1341.3 1152 1340 1155 1338.5 1158 1336.9 1161 1335.1 1164 1333.2 1167 1331.1 1170 1328.9 1173 1326.4 1176 1323.9 1179 1321.1 1182 1318.2 1185 1315.2 1188 1312.1 1191 1308.8 1194 1305.4 1197 1302 1200 1298.5 1203 1295 1206 1291.5 1209 1288 1212 1284.5 1215 1281.2 1218 1277.9 1221 1274.8 1224 1271.9 1227 1269.2 1230 1266.7 1233 1264.5 1236 1262.6 1239 1261 1242 1259.7 1245 1258.8 1248 1258.2 1251 1258 1254 1258.2 1257 1258.9 1260 1260 1263 1261.6 1266 1263.5 1269 1265.9 1272 1268.7 1275 1271.8 1278 1275.1 1281 1278.7 1284 1282.5 1287 1286.4 1290 1290.4 1293 1294.4 1296 1298.5 1299 1302.5 1302 1306.5 1305 1310.3 1308 1314 1311 1317.6 1314 1321 1317 1324.2 1320 1327.2 1323 1329.9 1326 1332.5 1329 1334.9 1332 1337 1335 1339 1338 1340.7 1341 1342.3 1344 1343.7 1347 1344.9 1350 1346 1353 1346.9 1356 1347.7 1359 1348.4 1362 1349.1 1365 1349.6 1368 1350 1371 1350.4 1374 1350.7 1377 1351 1380 1351.2 1383 1351.4 1386 1351.5 1389 1351.7 1392 1351.8 1395 1351.9 1398 1351.9 1401 1352 1404 1352 1407 1352.1 1410 1352.1 1413 1352.2 1415 1352.2 1415 1352.2 1065 1350.5Z" fill="#98f898"/>
<path d="M1065 1350.5L1068 1350.5 1071 1350.5 1074 1350.5 1077 1350.5 1080 1350.4 1083 1350.4 1086 1350.4 1089 1350.3 1092 1350.3 1095 1350.2 1098 1350.1 1101 1350 1104 1349.9 1107 1349.7 1110 1349.5 1113 1349.3 1116 1349 1119 1348.7 1122 1348.3 1125 1347.9 1128 1347.4 1131 1346.8 1134 1346.2 1137 1345.4 1140 1344.6 1143 1343.6 1146 1342.5 1149 1341.3 1152 1340 1155 1338.5 1158 1336.9 1161 1335.1 1164 1333.2 1167 1331.1 1170 1328.9 1173 1326.4 1176 1323.9 1179 1321.1 1182 1318.2 1185 1315.2 1188 1312.1 1191 1308.8 1194 1305.4 1197 1302 1200 1298.5 1203 1295 1206 1291.5 1209 1288 1212 1284.5 1215 1281.2 1218 1277.9 1221 1277.7 1224 1279.8 1227 1281.9 1230 1284.1 1233 1286.3 1236 1288.4 1239 1290.6 1242 1292.7 1245 1294.9 1248 1297 1251 1299.2 1254 1301.3 1257 1303.3 1260 1305.4 1263 1307.4 1266 1309.3 1269 1311.3 1272 1313.2 1275 1315 1278 1316.8 1281 1318.6 1284 1320.3 1287 1321.9 1290 1323.5 1293 1325.1 1296 1326.5 1299 1328 1302 1329.4 1305 1330.7 1308 1332 1311 1333.2 1314 1334.4 1317 1335.5 1320 1336.5 1323 1337.5 1326 1338.5 1329 1339.4 1332 1340.3 1335 1341.1 1338 1341.9 1341 1342.6 1344 1343.7 1347 1344.9 1350 1346 1353 1346.9 1356 1347.7 1359 1348.4 1362 1349.1 1365 1349.6 1368 1350 1371 1350.4 1374 1350.7 1377 1351 1380 1351.2 1383 1351.4 1386 1351.5 1389 1351.7 1392 1351.8 1395 1351.9 1398 1351.9 1401 1352 1404 1352 1407 1352.1 1410 1352.1 1413 1352.2 1415 1352.2 1415 1352.2 1065 1350.5Z" fill="#dca726"/>
<path d="M1093 1350.3L1096 1350.2 1099 1350.1 1102 1350 1105 1349.8 1108 1349.7 1111 1349.5 1114 1349.2 1117 1348.9 1120 1348.6 1123 1348.2 1126 1347.7 1129 1347.2 1132 1346.6 1135 1345.9 1138 1345.1 1141 1344.3 1144 1343.3 1147 1342.1 1150 1340.9 1153 1339.5 1156 1338 1159 1336.3 1162 1334.5 1165 1332.5 1168 1330.4 1171 1328.1 1174 1325.6 1177 1323 1180 1320.2 1183 1317.2 1186 1314.2 1189 1311 1192 1307.7 1195 1304.3 1198 1300.9 1201 1297.3 1204 1293.8 1207 1290.3 1210 1286.8 1213 1283.4 1216 1280.1 1219 1276.9 1222 1273.8 1225 1271 1228 1268.4 1231 1266 1234 1263.9 1237 1262 1240 1260.5 1243 1259.4 1246 1258.6 1249 1258.1 1252 1258 1255 1258.4 1258 1259.2 1261 1260.5 1264 1262.2 1267 1264.3 1270 1266.8 1273 1269.7 1276 1272.8 1279 1276.3 1282 1279.9 1285 1283.7 1288 1287.7 1291 1291.7 1294 1295.8 1297 1299.8 1300 1303.8 1303 1307.8 1306 1311.6 1309 1315.2 1312 1318.7 1315 1322.1 1318 1325.2 1321 1328.1 1324 1330.8 1327 1333.3 1330 1335.6 1333 1337.7 1336 1339.6 1339 1341.2 1342 1342.8 1345 1344.1 1348 1345.3 1351 1346.3 1354 1347.2 1357 1348 1360 1348.7 1363 1349.2 1366 1349.7 1369 1350.2 1372 1350.5 1375 1350.8 1378 1351.1 1381 1351.3 1384 1351.4 1387 1351.6 1390 1351.7" fill="none" stroke="#1ed6a4" stroke-width="3"/>
<path d="M1093 1350.3L1096 1350.2 1099 1350.1 1102 1350 1105 1349.8 1108 1349.7 1111 1349.5 1114 1349.2 1117 1348.9 1120 1348.6 1123 1348.2 1126 1347.7 1129 1347.2 1132 1346.6 1135 1345.9 1138 1345.1 1141 1344.3 1144 1343.3 1147 1342.1 1150 1340.9 1153 1339.5 1156 1338 1159 1336.3 1162 1334.5 1165 1332.5 1168 1330.4 1171 1328.1 1174 1325.6 1177 1323 1180 1320.2 1183 1317.2 1186 1314.2 1189 1311 1192 1307.7 1195 1304.3 1198 1300.9 1201 1297.3 1204 1293.8 1207 1290.3 1210 1286.8 1213 1283.4 1216 1280.1 1219 1276.9 1222 1273.8 1225 1271 1228 1268.4 1231 1266 1234 1263.9 1237 1262 1240 1260.5 1243 1259.4 1246 1258.6 1249 1258.1 1252 1258 1255 1258.4 1258 1259.2 1261 1260.5 1264 1262.2 1267 1264.3 1270 1266.8 1273 1269.7 1276 1272.8 1279 1276.3 1282 1279.9 1285 1283.7 1288 1287.7 1291 1291.7 1294 1295.8 1297 1299.8 1300 1303.8 1303 1307.8 1306 1311.6 1309 1315.2 1312 1318.7 1315 1322.1 1318 1325.2 1321 1328.1 1324 1330.8 1327 1333.3 1330 1335.6 1333 1337.7 1336 1339.6 1339 1341.2 1342 1342.8 1345 1344.1 1348 1345.3 1351 1346.3 1354 1347.2 1357 1348 1360 1348.7 1363 1349.2 1366 1349.7 1369 1350.2 1372 1350.5 1375 1350.8 1378 1351.1 1381 1351.3 1384 1351.4 1387 1351.6 1390 1351.7" fill="none" stroke="#2ea62e" stroke-width="3" clip-path="url(#clii)"/>
<path d="M826 1349L829 1348.9 832 1348.9 835 1348.9 838 1348.8 841 1348.8 844 1348.7 847 1348.6 850 1348.6 853 1348.5 856 1348.4 859 1348.3 862 1348.2 865 1348.1 868 1348 871 1347.9 874 1347.7 877 1347.6 880 1347.4 883 1347.2 886 1347 889 1346.8 892 1346.6 895 1346.3 898 1346 901 1345.8 904 1345.4 907 1345.1 910 1344.8 913 1344.4 916 1344 919 1343.5 922 1343.1 925 1342.6 928 1342.1 931 1341.5 934 1341 937 1340.3 940 1339.7 943 1339 946 1338.3 949 1337.5 952 1336.7 955 1335.9 958 1335 961 1334.1 964 1333.1 967 1332.1 970 1331.1 973 1330 976 1328.9 979 1327.7 982 1326.5 985 1325.2 988 1323.9 991 1322.6 994 1321.2 997 1319.7 1000 1318.2 1003 1316.7 1006 1315.2 1009 1313.6 1012 1311.9 1015 1310.2 1018 1308.5 1021 1306.8 1024 1305 1027 1303.2 1030 1301.4 1033 1299.5 1036 1297.7 1039 1295.8 1042 1293.9 1045 1292 1048 1290 1051 1288.1 1054 1286.2 1057 1284.3 1060 1282.3 1063 1280.4 1066 1278.5 1069 1276.7 1072 1274.8 1075 1273 1078 1271.2 1081 1269.5 1084 1267.7 1087 1266.1 1090 1264.4 1093 1262.9 1096 1261.3 1099 1259.9 1102 1258.5 1105 1257.2 1108 1255.9 1111 1254.7 1114 1253.6 1117 1252.6 1120 1251.7 1123 1250.8 1126 1250.1 1129 1249.4 1132 1248.8 1135 1248.4 1138 1248 1141 1247.7 1144 1247.5 1147 1247.4 1150 1247.4 1153 1247.5 1156 1247.8 1159 1248.2 1162 1248.7 1165 1249.3 1168 1250 1171 1250.8 1174 1251.8 1177 1252.8 1180 1254 1183 1255.2 1186 1256.6 1189 1258 1192 1259.5 1195 1261.2 1198 1262.8 1201 1264.6 1204 1266.4 1207 1268.3 1210 1270.2 1213 1272.2 1216 1274.2 1219 1276.3 1222 1278.4 1225 1280.5 1228 1282.7 1231 1284.8 1234 1287 1237 1289.1 1240 1291.3 1243 1293.5 1246 1295.6 1249 1297.7 1252 1299.9 1255 1302 1258 1304 1261 1306 1264 1308 1267 1310 1270 1311.9 1273 1313.8 1276 1315.6 1279 1317.4 1282 1319.1 1285 1320.8 1288 1322.5 1291 1324 1294 1325.6 1297 1327 1300 1328.5 1303 1329.8 1306 1331.1 1309 1332.4 1312 1333.6 1315 1334.7 1318 1335.8 1321 1336.9 1324 1337.9 1327 1338.8 1330 1339.7 1333 1340.6 1336 1341.4 1339 1342.1 1342 1342.9 1345 1343.5 1348 1344.2 1351 1344.8 1354 1345.3 1357 1345.9 1360 1346.4 1363 1346.8 1366 1347.2 1369 1347.7 1372 1348 1375 1348.4 1378 1348.7 1381 1349 1384 1349.3 1387 1349.6 1390 1349.8 1393 1350 1396 1350.2 1399 1350.4 1402 1350.6 1405 1350.8 1408 1350.9 1411 1351.1 1414 1351.2 1417 1351.3 1420 1351.4 1423 1351.5 1426 1351.6 1429 1351.7 1432 1351.8 1435 1351.8 1438 1351.9" fill="none" stroke="#b81414" stroke-width="3"/>
<path d="M813 1350.1L1471 1353.3" fill="none" stroke="#b81414" stroke-width="3.6"/>
<path d="M813 1348.1L1471 1351.3" fill="none" stroke="#b81414" stroke-width="2"/>
<path d="M815.7 1346.2 823.5 1342.9 828.9 1341.4 835.3 1343.2 841.3 1339.7 849.7 1342.9 855.6 1343.4 861.3 1337.7 868.3 1341.9 875.7 1339.6 882.1 1340.9 888.3 1338.8 894.2 1336.6 900.6 1334.8 907.7 1335.2 913.8 1335.6 920.6 1337.6 928.5 1335.3 933.7 1333.5 941.8 1333.6 945.7 1326.3 952.7 1325.6 959.7 1323.8 966.3 1324.3 971.4 1319.5 977.9 1319.5 984.9 1320.9 992.2 1317.5 998.9 1316 1002.5 1310.3 1008.2 1306.9 1016.2 1305.8 1019.7 1301.6 1026.2 1299.8 1033.3 1295.7 1038.8 1293.8 1045.2 1291.7 1050.7 1288.1 1055.8 1284 1061 1278.4 1066.5 1276.9 1072.4 1271.1 1077.8 1266.7 1082.6 1262.5 1088.1 1261.2 1095.8 1259.1 1101.9 1256.2 1105.8 1252.7 1113 1250 1117 1245.5 1125.6 1245.7 1129.5 1240.7 1135 1237.2 1142.2 1236.1 1147.7 1232.2 1154.6 1230.2 1161.3 1229.5 1166.2 1222.8 1171.7 1221.4 1177.3 1218.9 1184.5 1215.6 1191.2 1215.7 1196.3 1210.7 1201.9 1208.4 1203.8 1198.9 1212.8 1199.8 1219 1195.6 1223.6 1193.7 1229.9 1189.8 1235.4 1186.9 1242.1 1189.9 1249.6 1191 1255.1 1194.8 1260 1197.4 1264.9 1203.7 1267.5 1209.3 1270.9 1214.8 1276.5 1220 1279.7 1225 1283.5 1229.8 1285.4 1236.6 1291.4 1241.8 1294.1 1246.7 1296.7 1252.4 1301 1258 1302.9 1263.9 1304.4 1271.4 1310.7 1276.1 1310.9 1281.8 1315.2 1287.3 1320.3 1293.2 1322.5 1298.4 1325.2 1304.7 1332.9 1308.1 1334.8 1314.8 1337.7 1319.9 1345 1322.4 1348.1 1330.6 1353.7 1333.5 1360.3 1334.7 1365.2 1339.7 1373.3 1339 1379.4 1341.1 1385.9 1342 1391.7 1346.2 1398.1 1345.9 1404.6 1346 1410.8 1347.1 1417.2 1348.6 1425.1 1349 1430 1349.1 1437.7 1351.1 1443.6 1349.6 1450.6 1351 1457.8 1354.7 1464.5 1353.8 1470.1 1350.4" fill="none" stroke="none" marker-start="url(#m4)" marker-mid="url(#m4)" marker-end="url(#m4)"/>
<path d="M813 1347.8C822.5 1347 852.7 1344.4 870 1343C887.3 1341.6 903.1 1341.5 916.7 1339.6C930.3 1337.7 940.1 1334.6 951.8 1331.5C963.5 1328.4 975.1 1325.3 986.8 1321C998.5 1316.7 1010.1 1311.8 1021.8 1305.8C1033.5 1299.8 1045.1 1291.8 1056.8 1284.8C1068.5 1277.8 1080.1 1270.3 1091.8 1263.7C1103.5 1257.1 1116.7 1250 1126.9 1245C1137.2 1240 1145 1237.1 1153.3 1233.4C1161.6 1229.7 1168.9 1226.8 1176.7 1222.9C1184.5 1219 1192.2 1214.5 1200 1210C1207.8 1205.5 1216.8 1199.1 1223.4 1196C1230 1192.9 1233.9 1190.6 1239.7 1191.4C1245.5 1192.2 1252.2 1195.3 1258.4 1200.7C1264.6 1206.1 1271.2 1215.8 1277 1224C1282.8 1232.2 1287.9 1240.7 1293.4 1249.7C1298.9 1258.7 1304 1268.1 1309.8 1277.8C1315.6 1287.5 1321.5 1298.7 1328.5 1308C1335.5 1317.3 1344 1327.5 1351.8 1333.8C1359.5 1340 1365.3 1342.6 1375 1345.5C1384.7 1348.4 1394 1349.4 1410 1351.3C1426 1353.2 1460.8 1356.1 1471 1357.1" fill="none" stroke="#ff0000" stroke-width="5" stroke-linejoin="round"/>
<path d="M853 1561.3L856 1561.3 859 1561.3 862 1561.3 865 1561.3 868 1561.4 871 1561.4 874 1561.4 877 1561.4 880 1561.4 883 1561.4 886 1561.4 889 1561.4 892 1561.4 895 1561.3 898 1561.3 901 1561.3 904 1561.3 907 1561.2 910 1561.2 913 1561.1 916 1561.1 919 1561 922 1560.9 925 1560.8 928 1560.7 931 1560.6 934 1560.5 937 1560.3 940 1560.1 943 1559.9 946 1559.7 949 1559.5 952 1559.2 955 1558.9 958 1558.6 961 1558.3 964 1557.9 967 1557.5 970 1557 973 1556.5 976 1556 979 1555.4 982 1554.8 985 1554.1 988 1553.4 991 1552.6 994 1551.8 997 1550.9 1000 1549.9 1003 1548.9 1006 1547.8 1009 1546.6 1012 1545.4 1015 1544.1 1018 1542.7 1021 1541.2 1024 1539.6 1027 1538 1030 1536.3 1033 1534.5 1036 1532.6 1039 1530.6 1042 1528.5 1045 1526.4 1048 1524.1 1051 1521.8 1054 1519.4 1057 1516.9 1060 1514.3 1063 1511.7 1066 1508.9 1069 1506.1 1072 1503.3 1075 1500.3 1078 1497.4 1081 1494.3 1084 1491.2 1087 1488.1 1090 1485 1093 1481.8 1096 1478.6 1099 1475.4 1102 1472.2 1105 1469 1108 1465.8 1111 1462.6 1114 1459.5 1117 1456.4 1120 1453.4 1123 1450.4 1126 1447.6 1129 1444.8 1132 1442.1 1135 1439.5 1138 1437.1 1141 1434.7 1144 1432.5 1147 1430.5 1150 1428.6 1153 1426.8 1156 1425.2 1159 1423.8 1162 1422.5 1165 1421.4 1168 1420.6 1171 1419.9 1174 1419.3 1177 1419 1180 1418.9 1183 1419 1186 1419.2 1189 1419.6 1192 1420.2 1195 1420.9 1198 1421.8 1201 1422.9 1204 1424.1 1207 1425.5 1210 1427 1213 1428.6 1216 1430.5 1219 1432.4 1222 1434.4 1225 1436.6 1228 1438.9 1231 1441.3 1234 1443.8 1237 1446.4 1240 1449.1 1243 1451.8 1246 1454.7 1249 1457.5 1252 1460.5 1255 1463.4 1258 1466.4 1261 1469.5 1264 1472.5 1267 1475.6 1270 1478.7 1273 1481.7 1276 1484.8 1279 1487.9 1282 1490.9 1285 1493.9 1288 1496.9 1291 1499.8 1294 1502.7 1297 1505.5 1300 1508.3 1303 1511 1306 1513.7 1309 1516.3 1312 1518.9 1315 1521.4 1318 1523.8 1321 1526.1 1324 1528.4 1327 1530.6 1330 1532.7 1333 1534.7 1336 1536.7 1339 1538.6 1342 1540.4 1345 1542.1 1348 1543.8 1351 1545.4 1354 1546.9 1357 1548.4 1360 1549.7 1363 1551 1366 1552.3 1369 1553.5 1372 1554.6 1375 1555.7 1378 1556.7 1381 1557.6 1384 1558.5 1387 1559.4 1390 1560.2 1393 1560.9 1396 1561.6 1399 1562.3 1402 1562.9 1405 1563.5 1408 1564 1411 1564.5 1414 1565 1417 1565.4 1420 1565.9 1423 1566.3 1426 1566.6 1429 1567 1432 1567.3 1435 1567.6 1438 1567.8 1441 1568.1 1444 1568.3 1447 1568.6 1450 1568.8 1453 1569 1456 1569.2 1459 1569.3 1462 1569.5 1465 1569.7 1468 1569.8 1471 1570 1471 1570.6 1130 1563.6 853 1561.3Z" fill="#f28585"/>
<path d="M1118 1563.5L1121 1563.5 1124 1563.5 1127 1563.5 1130 1563.5 1133 1563.5 1136 1563.5 1139 1563.6 1142 1563.6 1145 1563.6 1148 1563.5 1151 1563.5 1154 1563.5 1157 1563.4 1160 1563.3 1163 1563.2 1166 1563 1169 1562.8 1172 1562.6 1175 1562.3 1178 1561.9 1181 1561.5 1184 1561.1 1187 1560.5 1190 1559.9 1193 1559.2 1196 1558.3 1199 1557.4 1202 1556.4 1205 1555.2 1208 1553.9 1211 1552.4 1214 1550.8 1217 1549.1 1220 1547.1 1223 1545.1 1226 1542.8 1229 1540.4 1232 1537.8 1235 1535.1 1238 1532.1 1241 1529.1 1244 1525.9 1247 1522.5 1250 1519.1 1253 1515.5 1256 1511.9 1259 1508.2 1262 1504.5 1265 1500.8 1268 1497.1 1271 1493.4 1274 1489.9 1277 1486.4 1280 1483.2 1283 1480 1286 1477.1 1289 1474.5 1292 1472.1 1295 1469.9 1298 1468.1 1301 1466.7 1304 1465.6 1307 1464.8 1310 1464.4 1313 1464.4 1316 1464.9 1319 1465.8 1322 1467.2 1325 1469 1328 1471.2 1331 1473.8 1334 1476.7 1337 1479.9 1340 1483.5 1343 1487.2 1346 1491.2 1349 1495.2 1352 1499.4 1355 1503.7 1358 1508 1361 1512.2 1364 1516.4 1367 1520.5 1370 1524.5 1373 1528.4 1376 1532.1 1379 1535.6 1382 1538.9 1385 1542 1388 1545 1391 1547.7 1394 1550.2 1397 1552.5 1400 1554.6 1403 1556.5 1406 1558.2 1409 1559.8 1412 1561.1 1415 1562.4 1418 1563.5 1421 1564.4 1424 1565.3 1427 1566 1430 1566.7 1433 1567.3 1436 1567.8 1439 1568.2 1442 1568.6 1445 1568.9 1448 1569.2 1451 1569.4 1454 1569.6 1457 1569.8 1460 1570 1463 1570.1 1466 1570.2 1469 1570.4 1471 1570.4 1471 1570.6 1130 1563.6 1118 1563.5Z" fill="#98f898"/>
<path d="M1118 1563.5L1121 1563.5 1124 1563.5 1127 1563.5 1130 1563.5 1133 1563.5 1136 1563.5 1139 1563.6 1142 1563.6 1145 1563.6 1148 1563.5 1151 1563.5 1154 1563.5 1157 1563.4 1160 1563.3 1163 1563.2 1166 1563 1169 1562.8 1172 1562.6 1175 1562.3 1178 1561.9 1181 1561.5 1184 1561.1 1187 1560.5 1190 1559.9 1193 1559.2 1196 1558.3 1199 1557.4 1202 1556.4 1205 1555.2 1208 1553.9 1211 1552.4 1214 1550.8 1217 1549.1 1220 1547.1 1223 1545.1 1226 1542.8 1229 1540.4 1232 1537.8 1235 1535.1 1238 1532.1 1241 1529.1 1244 1525.9 1247 1522.5 1250 1519.1 1253 1515.5 1256 1511.9 1259 1508.2 1262 1504.5 1265 1500.8 1268 1497.1 1271 1493.4 1274 1489.9 1277 1486.4 1280 1488.9 1283 1491.9 1286 1494.9 1289 1497.8 1292 1500.8 1295 1503.6 1298 1506.5 1301 1509.2 1304 1511.9 1307 1514.6 1310 1517.2 1313 1519.7 1316 1522.2 1319 1524.6 1322 1526.9 1325 1529.1 1328 1531.3 1331 1533.4 1334 1535.4 1337 1537.3 1340 1539.2 1343 1541 1346 1542.7 1349 1544.3 1352 1545.9 1355 1547.4 1358 1548.8 1361 1550.2 1364 1551.5 1367 1552.7 1370 1553.9 1373 1555 1376 1556 1379 1557 1382 1557.9 1385 1558.8 1388 1559.6 1391 1560.4 1394 1561.1 1397 1561.8 1400 1562.5 1403 1563.1 1406 1563.7 1409 1564.2 1412 1564.7 1415 1565.2 1418 1565.6 1421 1566 1424 1566.4 1427 1566.7 1430 1567.1 1433 1567.4 1436 1567.8 1439 1568.2 1442 1568.6 1445 1568.9 1448 1569.2 1451 1569.4 1454 1569.6 1457 1569.8 1460 1570 1463 1570.1 1466 1570.2 1469 1570.4 1471 1570.4 1471 1570.6 1130 1563.6 1118 1563.5Z" fill="#dca726"/>
<path d="M1148 1563.5L1151 1563.5 1154 1563.5 1157 1563.4 1160 1563.3 1163 1563.2 1166 1563 1169 1562.8 1172 1562.6 1175 1562.3 1178 1561.9 1181 1561.5 1184 1561.1 1187 1560.5 1190 1559.9 1193 1559.2 1196 1558.3 1199 1557.4 1202 1556.4 1205 1555.2 1208 1553.9 1211 1552.4 1214 1550.8 1217 1549.1 1220 1547.1 1223 1545.1 1226 1542.8 1229 1540.4 1232 1537.8 1235 1535.1 1238 1532.1 1241 1529.1 1244 1525.9 1247 1522.5 1250 1519.1 1253 1515.5 1256 1511.9 1259 1508.2 1262 1504.5 1265 1500.8 1268 1497.1 1271 1493.4 1274 1489.9 1277 1486.4 1280 1483.2 1283 1480 1286 1477.1 1289 1474.5 1292 1472.1 1295 1469.9 1298 1468.1 1301 1466.7 1304 1465.6 1307 1464.8 1310 1464.4 1313 1464.4 1316 1464.9 1319 1465.8 1322 1467.2 1325 1469 1328 1471.2 1331 1473.8 1334 1476.7 1337 1479.9 1340 1483.5 1343 1487.2 1346 1491.2 1349 1495.2 1352 1499.4 1355 1503.7 1358 1508 1361 1512.2 1364 1516.4 1367 1520.5 1370 1524.5 1373 1528.4 1376 1532.1 1379 1535.6 1382 1538.9 1385 1542 1388 1545 1391 1547.7 1394 1550.2 1397 1552.5 1400 1554.6 1403 1556.5 1406 1558.2 1409 1559.8 1412 1561.1 1415 1562.4 1418 1563.5 1421 1564.4 1424 1565.3 1427 1566 1430 1566.7 1433 1567.3 1436 1567.8 1439 1568.2 1442 1568.6 1445 1568.9 1448 1569.2 1451 1569.4 1454 1569.6 1457 1569.8 1460 1570" fill="none" stroke="#1ed6a4" stroke-width="3"/>
<path d="M1148 1563.5L1151 1563.5 1154 1563.5 1157 1563.4 1160 1563.3 1163 1563.2 1166 1563 1169 1562.8 1172 1562.6 1175 1562.3 1178 1561.9 1181 1561.5 1184 1561.1 1187 1560.5 1190 1559.9 1193 1559.2 1196 1558.3 1199 1557.4 1202 1556.4 1205 1555.2 1208 1553.9 1211 1552.4 1214 1550.8 1217 1549.1 1220 1547.1 1223 1545.1 1226 1542.8 1229 1540.4 1232 1537.8 1235 1535.1 1238 1532.1 1241 1529.1 1244 1525.9 1247 1522.5 1250 1519.1 1253 1515.5 1256 1511.9 1259 1508.2 1262 1504.5 1265 1500.8 1268 1497.1 1271 1493.4 1274 1489.9 1277 1486.4 1280 1483.2 1283 1480 1286 1477.1 1289 1474.5 1292 1472.1 1295 1469.9 1298 1468.1 1301 1466.7 1304 1465.6 1307 1464.8 1310 1464.4 1313 1464.4 1316 1464.9 1319 1465.8 1322 1467.2 1325 1469 1328 1471.2 1331 1473.8 1334 1476.7 1337 1479.9 1340 1483.5 1343 1487.2 1346 1491.2 1349 1495.2 1352 1499.4 1355 1503.7 1358 1508 1361 1512.2 1364 1516.4 1367 1520.5 1370 1524.5 1373 1528.4 1376 1532.1 1379 1535.6 1382 1538.9 1385 1542 1388 1545 1391 1547.7 1394 1550.2 1397 1552.5 1400 1554.6 1403 1556.5 1406 1558.2 1409 1559.8 1412 1561.1 1415 1562.4 1418 1563.5 1421 1564.4 1424 1565.3 1427 1566 1430 1566.7 1433 1567.3 1436 1567.8 1439 1568.2 1442 1568.6 1445 1568.9 1448 1569.2 1451 1569.4 1454 1569.6 1457 1569.8 1460 1570" fill="none" stroke="#2ea62e" stroke-width="3" clip-path="url(#cli)"/>
<path d="M900 1561.3L903 1561.3 906 1561.2 909 1561.2 912 1561.2 915 1561.1 918 1561 921 1560.9 924 1560.9 927 1560.8 930 1560.6 933 1560.5 936 1560.4 939 1560.2 942 1560 945 1559.8 948 1559.6 951 1559.3 954 1559 957 1558.7 960 1558.4 963 1558 966 1557.6 969 1557.2 972 1556.7 975 1556.2 978 1555.6 981 1555 984 1554.4 987 1553.7 990 1552.9 993 1552.1 996 1551.2 999 1550.2 1002 1549.2 1005 1548.2 1008 1547 1011 1545.8 1014 1544.5 1017 1543.1 1020 1541.7 1023 1540.2 1026 1538.6 1029 1536.9 1032 1535.1 1035 1533.2 1038 1531.3 1041 1529.2 1044 1527.1 1047 1524.9 1050 1522.6 1053 1520.2 1056 1517.7 1059 1515.2 1062 1512.6 1065 1509.8 1068 1507.1 1071 1504.2 1074 1501.3 1077 1498.4 1080 1495.3 1083 1492.3 1086 1489.2 1089 1486 1092 1482.8 1095 1479.6 1098 1476.4 1101 1473.2 1104 1470 1107 1466.8 1110 1463.7 1113 1460.5 1116 1457.4 1119 1454.4 1122 1451.4 1125 1448.5 1128 1445.7 1131 1443 1134 1440.4 1137 1437.9 1140 1435.5 1143 1433.2 1146 1431.1 1149 1429.2 1152 1427.4 1155 1425.7 1158 1424.2 1161 1422.9 1164 1421.8 1167 1420.8 1170 1420.1 1173 1419.5 1176 1419.1 1179 1418.9 1182 1418.9 1185 1419.1 1188 1419.4 1191 1420 1194 1420.6 1197 1421.5 1200 1422.5 1203 1423.7 1206 1425 1209 1426.5 1212 1428.1 1215 1429.8 1218 1431.7 1221 1433.7 1224 1435.9 1227 1438.1 1230 1440.5 1233 1443 1236 1445.5 1239 1448.2 1242 1450.9 1245 1453.7 1248 1456.6 1251 1459.5 1254 1462.4 1257 1465.4 1260 1468.5 1263 1471.5 1266 1474.6 1269 1477.6 1272 1480.7 1275 1483.8 1278 1486.8 1281 1489.9 1284 1492.9 1287 1495.9 1290 1498.8 1293 1501.7 1296 1504.6 1299 1507.4 1302 1510.1 1305 1512.8 1308 1515.5 1311 1518 1314 1520.5 1317 1523 1320 1525.3 1323 1527.6 1326 1529.8 1329 1532 1332 1534 1335 1536 1338 1537.9 1341 1539.8 1344 1541.6 1347 1543.2 1350 1544.9 1353 1546.4 1356 1547.9 1359 1549.3 1362 1550.6 1365 1551.9 1368 1553.1 1371 1554.2 1374 1555.3 1377 1556.3 1380 1557.3 1383 1558.2 1386 1559.1 1389 1559.9 1392 1560.7 1395 1561.4 1398 1562.1 1401 1562.7 1404 1563.3 1407 1563.8 1410 1564.4 1413 1564.8 1416 1565.3 1419 1565.7 1422 1566.1 1425 1566.5 1428 1566.8 1431 1567.2 1434 1567.5 1437 1567.8 1440 1568 1443 1568.3 1446 1568.5 1449 1568.7 1452 1568.9 1455 1569.1 1458 1569.3 1461 1569.5 1464 1569.6 1467 1569.8 1470 1569.9" fill="none" stroke="#b81414" stroke-width="3"/>
<path d="M813 1560.7L816 1560.7 819 1560.7 822 1560.7 825 1560.6 828 1560.6 831 1560.5 834 1560.5 837 1560.4 840 1560.3 843 1560.3 846 1560.2 849 1560 852 1559.9 855 1559.8 858 1559.6 861 1559.5 864 1559.3 867 1559.1 870 1558.8 873 1558.6 876 1558.3 879 1558.1 882 1557.8 885 1557.5 888 1557.1 891 1556.8 894 1556.4 897 1556 900 1555.6 903 1555.2 906 1554.7 909 1554.3 912 1553.8 915 1553.3 918 1552.8 921 1552.3 924 1551.8 927 1551.3 930 1550.8 933 1550.3 936 1549.8 939 1549.3 942 1548.9 945 1548.4 948 1548 951 1547.5 954 1547.1 957 1546.8 960 1546.4 963 1546.1 966 1545.8 969 1545.6 972 1545.4 975 1545.2 978 1545.1 981 1545 984 1545 987 1545 990 1545 993 1545.1 996 1545.2 999 1545.4 1002 1545.5 1005 1545.7 1008 1545.9 1011 1546.2 1014 1546.5 1017 1546.8 1020 1547.1 1023 1547.4 1026 1547.8 1029 1548.2 1032 1548.6 1035 1549 1038 1549.4 1041 1549.8 1044 1550.3 1047 1550.8 1050 1551.2 1053 1551.7 1056 1552.2 1059 1552.6 1062 1553.1 1065 1553.6 1068 1554 1071 1554.5 1074 1554.9 1077 1555.4 1080 1555.8 1083 1556.3 1086 1556.7 1089 1557.1 1092 1557.5 1095 1557.9 1098 1558.2 1101 1558.6 1104 1558.9 1107 1559.3 1110 1559.6 1113 1559.9 1116 1560.2 1119 1560.4 1122 1560.7 1125 1560.9 1128 1561.2 1131 1561.4 1134 1561.7 1137 1561.9 1140 1562.1 1143 1562.3 1146 1562.5 1149 1562.7 1152 1562.9 1155 1563.1 1158 1563.2 1161 1563.4 1164 1563.5 1167 1563.7 1170 1563.8 1173 1563.9 1176 1564 1179 1564.2 1182 1564.3 1185 1564.4 1188 1564.5 1191 1564.6 1194 1564.7 1197 1564.8 1200 1564.8 1203 1564.9 1206 1565 1209 1565.1 1212 1565.2 1215 1565.2 1218 1565.3 1221 1565.4 1224 1565.5 1227 1565.5 1230 1565.6 1230 1565.7 1130 1563.6 813 1561Z" fill="#1c1cdc"/>
<path d="M813 1561.8L1130 1564.4 1471 1571.4" fill="none" stroke="#1c1cdc" stroke-width="3.6"/>
<path d="M813 1559.8L1130 1562.4 1471 1569.4" fill="none" stroke="#b81414" stroke-width="2"/>
<path d="M817.8 1554.1 824.8 1558.2 832.4 1555.5 838.8 1552.6 844.5 1555 851.7 1551.6 857.5 1553.9 865.2 1549.7 872.2 1553.3 877.6 1551.1 882.9 1548.2 891.7 1549.9 896.6 1549.7 903.2 1547.5 910.9 1545.5 917 1541.6 924.1 1544 928.3 1537.7 936.7 1538.8 943.6 1541.9 947.9 1534.8 953.9 1532.7 960.7 1532.5 967.4 1533.2 975.2 1530.5 982 1530.8 988.1 1527.4 994.1 1523.8 1000.8 1525.4 1005.1 1521.3 1012.5 1521.1 1019 1520.1 1025.4 1515.9 1031.9 1514.8 1037.1 1507.8 1042.7 1506.8 1048.5 1505.3 1053.3 1500.3 1062.5 1500.3 1067.9 1496.9 1072.1 1492.7 1078.9 1488.4 1082.9 1483.9 1087.3 1478.6 1093.5 1474.8 1097.7 1472.2 1104.4 1467.6 1109.2 1462.5 1113.5 1459.6 1117 1452.8 1122.4 1449.3 1128 1446.7 1134.6 1443 1137.3 1434.7 1143.5 1434.2 1149.2 1430.6 1154.4 1425.4 1159.3 1422.7 1165.1 1418.7 1171.7 1416.4 1178.2 1413.2 1183 1409.5 1190.4 1412.6 1196.3 1409.7 1204.3 1407.5 1210.7 1410.8 1216.3 1408.2 1223.2 1410 1229.8 1406 1237 1407.4 1243.2 1409.6 1249.6 1409.1 1257.6 1408.3 1263.1 1406.4 1269.5 1406 1276 1400.9 1282 1399.1 1289.3 1397.2 1294.7 1402 1301.6 1402.7 1306.8 1407.8 1314.1 1408.5 1316.9 1415.3 1324.7 1415.2 1324.6 1424.1 1332.2 1428.4 1333.9 1435.1 1337.4 1438.9 1343.9 1442.9 1344.5 1450 1350.4 1455.2 1350.9 1461.7 1354.7 1467.8 1357.6 1472.7 1361.5 1477.9 1364.8 1484.1 1367.4 1490.7 1374.3 1495.2 1371.8 1503.9 1376.1 1508.2 1378.9 1514.4 1384.4 1519.1 1386.9 1526.3 1390.9 1529.1 1393.1 1537 1402.1 1538.3 1404.5 1546.4 1412 1547.2 1415.6 1552 1421.3 1553.9 1427.7 1555.6 1434.7 1556.1 1439.3 1562.7 1446.6 1560 1452.9 1563.4 1459.6 1567.4 1466.4 1568.2" fill="none" stroke="none" marker-start="url(#m4)" marker-mid="url(#m4)" marker-end="url(#m4)"/>
<path d="M813 1557.8C822.5 1557.4 852.7 1557.2 870 1555.5C887.3 1553.8 901.1 1550.4 916.7 1547.3C932.3 1544.2 947.9 1540.7 963.4 1536.8C978.9 1532.9 994.4 1529.5 1010 1524C1025.6 1518.5 1043.2 1511.2 1056.8 1504C1070.4 1496.8 1080.1 1489.6 1091.8 1480.7C1103.5 1471.8 1116.7 1459 1126.9 1450.4C1137.2 1441.9 1145 1434.9 1153.3 1429.4C1161.6 1424 1168.9 1420.6 1176.7 1417.7C1184.5 1414.8 1190.3 1412.9 1200 1411.9C1209.7 1410.9 1223.3 1412.9 1235 1411.9C1246.7 1410.9 1260.3 1407.2 1270 1406C1279.7 1404.8 1286.4 1404.1 1293.4 1404.9C1300.4 1405.7 1306.2 1407 1312 1410.7C1317.8 1414.4 1323 1420.4 1328.5 1427C1334 1433.6 1339 1440.7 1344.8 1450.4C1350.6 1460.1 1357.7 1474.1 1363.5 1485.4C1369.3 1496.7 1374 1508.7 1379.8 1518C1385.6 1527.3 1391.5 1534.9 1398.5 1541.5C1405.5 1548.1 1414 1553.7 1421.8 1557.8C1429.6 1561.9 1437 1564 1445.2 1566C1453.4 1568 1466.7 1568.9 1471 1569.5" fill="none" stroke="#ff0000" stroke-width="5" stroke-linejoin="round"/>
<rect x="812.7" y="872.5" width="658.6" height="718" fill="none" stroke="#000" stroke-width="3.6"/>
<line x1="812.7" y1="1590.5" x2="812.7" y2="1600.5" stroke="#000" stroke-width="3.2"/>
<line x1="885.3" y1="1590.5" x2="885.3" y2="1600.5" stroke="#000" stroke-width="3.2"/>
<line x1="1032.2" y1="1590.5" x2="1032.2" y2="1600.5" stroke="#000" stroke-width="3.2"/>
<line x1="1178.6" y1="1590.5" x2="1178.6" y2="1600.5" stroke="#000" stroke-width="3.2"/>
<line x1="1325.5" y1="1590.5" x2="1325.5" y2="1600.5" stroke="#000" stroke-width="3.2"/>
<line x1="1471.5" y1="1590.5" x2="1471.5" y2="1600.5" stroke="#000" stroke-width="3.2"/>
<line x1="959.5" y1="1590.5" x2="959.5" y2="1595.5" stroke="#000" stroke-width="2.6"/>
<line x1="1105.4" y1="1590.5" x2="1105.4" y2="1595.5" stroke="#000" stroke-width="2.6"/>
<line x1="1252.3" y1="1590.5" x2="1252.3" y2="1595.5" stroke="#000" stroke-width="2.6"/>
<line x1="1399.2" y1="1590.5" x2="1399.2" y2="1595.5" stroke="#000" stroke-width="2.6"/>
<text x="860.3" y="1636.8" font-family="'Liberation Serif', serif" font-weight="bold" font-size="32.8" textLength="51" lengthAdjust="spacingAndGlyphs">534</text>
<text x="1006.7" y="1636.8" font-family="'Liberation Serif', serif" font-weight="bold" font-size="32.8" textLength="51" lengthAdjust="spacingAndGlyphs">532</text>
<text x="1153.1" y="1636.8" font-family="'Liberation Serif', serif" font-weight="bold" font-size="32.8" textLength="51" lengthAdjust="spacingAndGlyphs">530</text>
<text x="1300" y="1636.8" font-family="'Liberation Serif', serif" font-weight="bold" font-size="32.8" textLength="51" lengthAdjust="spacingAndGlyphs">528</text>
<text x="1446.3" y="1636.8" font-family="'Liberation Serif', serif" font-weight="bold" font-size="32.8" textLength="51" lengthAdjust="spacingAndGlyphs">526</text>
<text x="977.2" y="1676.5" font-family="'Liberation Serif', serif" font-weight="bold" font-size="31.8" textLength="328.8" lengthAdjust="spacingAndGlyphs">Binding Energy (eV)</text>
<text transform="translate(772.8 1372.3) rotate(-90)" x="0" y="0" font-family="'Liberation Serif', serif" font-weight="bold" font-size="32" textLength="318.4" lengthAdjust="spacingAndGlyphs">Intensity (arb. unit)</text>
<text x="817.5" y="1526.8" font-family="'Liberation Sans', sans-serif" font-weight="bold" font-size="47.7" textLength="53.7" lengthAdjust="spacingAndGlyphs">(d)</text>
<text x="874.7" y="1099.2" font-family="'Liberation Serif', serif" font-weight="bold" font-size="40.1" textLength="73.6" lengthAdjust="spacingAndGlyphs">(III)</text>
<text x="1149.8" y="1095.3" font-family="'Liberation Serif', serif" font-weight="bold" font-size="41.3" textLength="57.2" lengthAdjust="spacingAndGlyphs">(II)</text>
<text x="1306.3" y="1082.8" font-family="'Liberation Serif', serif" font-weight="bold" font-size="40.3" textLength="39.7" lengthAdjust="spacingAndGlyphs">(I)</text>
<text x="1389.2" y="1081.6" font-family="'Liberation Sans', sans-serif" font-weight="bold" font-size="35.2" textLength="51.3" lengthAdjust="spacingAndGlyphs">(iii)</text>
<text x="1083.7" y="1321.1" font-family="'Liberation Serif', serif" font-weight="bold" font-size="37.4" textLength="57.2" lengthAdjust="spacingAndGlyphs">(II)</text>
<text x="1235" y="1295.2" font-family="'Liberation Serif', serif" font-weight="bold" font-size="38.9" textLength="42" lengthAdjust="spacingAndGlyphs">(I)</text>
<text x="1393.8" y="1326.4" font-family="'Liberation Sans', sans-serif" font-weight="bold" font-size="35.3" textLength="40.9" lengthAdjust="spacingAndGlyphs">(ii)</text>
<text x="877" y="1523.3" font-family="'Liberation Serif', serif" font-weight="bold" font-size="41.3" textLength="72.4" lengthAdjust="spacingAndGlyphs">(III)</text>
<text x="1140.5" y="1505" font-family="'Liberation Serif', serif" font-weight="bold" font-size="40.2" textLength="57.2" lengthAdjust="spacingAndGlyphs">(II)</text>
<text x="1294.6" y="1508.5" font-family="'Liberation Serif', serif" font-weight="bold" font-size="40.3" textLength="40.9" lengthAdjust="spacingAndGlyphs">(I)</text>
<text x="1398.5" y="1527.7" font-family="'Liberation Sans', sans-serif" font-weight="bold" font-size="37.6" textLength="30.4" lengthAdjust="spacingAndGlyphs">(i)</text>
<g font-family="'Liberation Serif', serif" font-weight="bold" font-size="27.9" stroke="#000" stroke-width="0.85"><text transform="translate(920.5 1044.6) scale(1.080 1.061)">5</text><text transform="translate(936.2 1044.6) scale(1.080 1.061)">3</text><text transform="translate(951.4 1038.5) scale(1.145 0.742)">1</text><text transform="translate(966.3 1038.5) scale(1.250 1.250)">.</text><text transform="translate(974.4 1044.6) scale(1.080 1.061)">7</text><text transform="translate(989.7 1038.5) scale(1.145 0.742)">1</text></g>
<g font-family="'Liberation Serif', serif" font-weight="bold" font-size="26.3" stroke="#000" stroke-width="0.85"><text transform="translate(1136.2 938.4) scale(1.316 1.061)">5</text><text transform="translate(1154.2 938.4) scale(1.316 1.061)">3</text><text transform="translate(1171.7 932.6) scale(1.395 0.742)">0</text><text transform="translate(1189.8 932.6) scale(1.250 1.250)">.</text><text transform="translate(1197.6 932.6) scale(1.395 0.742)">0</text><text transform="translate(1215.7 932.6) scale(1.395 0.742)">2</text></g>
<g font-family="'Liberation Serif', serif" font-weight="bold" font-size="26.6" stroke="#000" stroke-width="0.85"><text transform="translate(1285.6 940.7) scale(1.192 1.061)">5</text><text transform="translate(1301.7 934.8) scale(1.264 0.742)">2</text><text transform="translate(1318.7 934.8) scale(1.192 1.061)">8</text><text transform="translate(1334.4 934.8) scale(1.250 1.250)">.</text><text transform="translate(1342 934.8) scale(1.264 0.742)">1</text><text transform="translate(1359 940.7) scale(1.192 1.061)">7</text></g>
<g font-family="'Liberation Serif', serif" font-weight="bold" font-size="20.3" stroke="#000" stroke-width="0.85"><text transform="translate(1068.8 1178.5) scale(1.590 1.061)">5</text><text transform="translate(1085.7 1178.5) scale(1.590 1.061)">3</text><text transform="translate(1102 1174) scale(1.686 0.742)">0</text><text transform="translate(1119.5 1174) scale(1.250 1.250)">.</text><text transform="translate(1126.7 1174) scale(1.590 1.061)">8</text><text transform="translate(1143 1174) scale(1.686 0.742)">1</text></g>
<g font-family="'Liberation Serif', serif" font-weight="bold" font-size="28" stroke="#000" stroke-width="0.85"><text transform="translate(1200.3 1177.4) scale(1.147 1.061)">5</text><text transform="translate(1216.6 1171.2) scale(1.216 0.742)">2</text><text transform="translate(1233.8 1177.4) scale(1.147 1.061)">9</text><text transform="translate(1249.5 1171.2) scale(1.250 1.250)">.</text><text transform="translate(1257.4 1171.2) scale(1.216 0.742)">1</text><text transform="translate(1274.6 1177.4) scale(1.147 1.061)">3</text></g>
<g font-family="'Liberation Serif', serif" font-weight="bold" font-size="26.8" stroke="#000" stroke-width="0.85"><text transform="translate(1092.3 1386.7) scale(1.228 1.061)">5</text><text transform="translate(1109.5 1386.7) scale(1.228 1.061)">3</text><text transform="translate(1126.2 1380.8) scale(1.301 0.742)">0</text><text transform="translate(1143 1380.8) scale(1.250 1.250)">.</text><text transform="translate(1150.8 1380.8) scale(1.301 0.742)">1</text><text transform="translate(1168.5 1380.8) scale(1.228 1.061)">8</text></g>
<g font-family="'Liberation Serif', serif" font-weight="bold" font-size="20.7" stroke="#000" stroke-width="0.85"><text transform="translate(1293.8 1387) scale(1.639 1.061)">5</text><text transform="translate(1310.9 1382.5) scale(1.737 0.742)">2</text><text transform="translate(1329 1382.5) scale(1.639 1.061)">8</text><text transform="translate(1346.9 1382.5) scale(1.250 1.250)">.</text><text transform="translate(1354.3 1387) scale(1.639 1.061)">4</text><text transform="translate(1371.4 1382.5) scale(1.737 0.742)">2</text></g>
<g font-family="'Liberation Serif', serif" font-weight="bold" font-size="27.9" stroke="#000" stroke-width="0.85"><text transform="translate(929.9 1471.4) scale(1.168 1.061)">5</text><text transform="translate(946.9 1471.4) scale(1.168 1.061)">3</text><text transform="translate(963.4 1465.3) scale(1.238 0.742)">1</text><text transform="translate(979.8 1465.3) scale(1.250 1.250)">.</text><text transform="translate(988.2 1471.4) scale(1.168 1.061)">9</text><text transform="translate(1004.7 1465.3) scale(1.238 0.742)">0</text></g>
<line x1="971.1" y1="1044.6" x2="971.1" y2="1083" stroke="#000" stroke-width="4.5" stroke-dasharray="5 3"/>
<path d="M961.1 1083L981.1 1083L971.1 1120.5Z" fill="#000"/>
<line x1="1190.2" y1="952.4" x2="1190.2" y2="986.2" stroke="#000" stroke-width="4.5" stroke-dasharray="5 3"/>
<path d="M1180.2 986.2L1200.2 986.2L1190.2 1021.3Z" fill="#000"/>
<line x1="1326.1" y1="953.5" x2="1326.1" y2="1000.2" stroke="#000" stroke-width="4.5" stroke-dasharray="5 3"/>
<path d="M1316.6 1000.2L1335.6 1000.2L1326.1 1036.4Z" fill="#000"/>
<line x1="1139.7" y1="1180.9" x2="1139.7" y2="1218.2" stroke="#000" stroke-width="4.5" stroke-dasharray="5 3"/>
<path d="M1130.2 1218.2L1149.2 1218.2L1139.7 1252.5Z" fill="#000"/>
<line x1="1251.4" y1="1175" x2="1251.4" y2="1221.7" stroke="#000" stroke-width="4.5" stroke-dasharray="5 3"/>
<path d="M1241.4 1221.7L1261.4 1221.7L1251.4 1259Z" fill="#000"/>
<line x1="1179.3" y1="1390" x2="1179.3" y2="1390" stroke="#000" stroke-width="4.5" stroke-dasharray="5 3"/>
<path d="M1170 1390L1188.6 1390L1179.3 1426.7Z" fill="#000"/>
<line x1="1312" y1="1399" x2="1312" y2="1424.7" stroke="#000" stroke-width="4.5" stroke-dasharray="5 3"/>
<path d="M1302 1424.7L1322 1424.7L1312 1462Z" fill="#000"/>
<line x1="982.8" y1="1471.4" x2="982.8" y2="1508.8" stroke="#000" stroke-width="4.5" stroke-dasharray="5 3"/>
<path d="M972.8 1508.8L992.8 1508.8L982.8 1541.5Z" fill="#000"/>
</g>
</svg></body></html>
